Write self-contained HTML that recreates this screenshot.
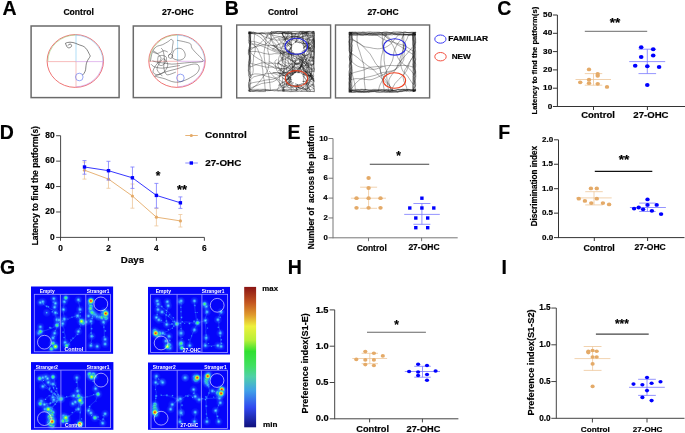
<!DOCTYPE html>
<html><head><meta charset="utf-8"><title>figure</title><style>
html,body{margin:0;padding:0;background:#fff;overflow:hidden;}
svg{display:block;will-change:transform;}
text{font-family:"Liberation Sans",sans-serif;font-weight:bold;}
text[fill="#000"]{stroke:#000;stroke-width:0.18px;}
</style></head><body>
<svg width="685" height="433" viewBox="0 0 685 433">
<rect width="685" height="433" fill="#fff"/>
<text x="2.51" y="15.0" font-size="19.5" fill="#000">A</text>
<text x="224.70" y="15.0" font-size="19.5" fill="#000">B</text>
<text x="497.30" y="15.0" font-size="19.5" fill="#000">C</text>
<text x="-0.15" y="138.6" font-size="19.5" fill="#000">D</text>
<text x="287.50" y="138.7" font-size="19.5" fill="#000">E</text>
<text x="498.30" y="139.0" font-size="19.5" fill="#000">F</text>
<text x="0.10" y="273.6" font-size="19.5" fill="#000">G</text>
<text x="287.70" y="273.7" font-size="19.5" fill="#000">H</text>
<text x="501.50" y="273.7" font-size="19.5" fill="#000">I</text>
<text x="63.45" y="15.00" font-size="8.6" textLength="30.46" lengthAdjust="spacingAndGlyphs" fill="#000" >Control</text>
<text x="162.00" y="15.00" font-size="8.6" textLength="31.63" lengthAdjust="spacingAndGlyphs" fill="#000" >27-OHC</text>
<text x="267.96" y="15.00" font-size="8.6" textLength="29.84" lengthAdjust="spacingAndGlyphs" fill="#000" >Control</text>
<text x="367.40" y="15.00" font-size="8.6" textLength="31.23" lengthAdjust="spacingAndGlyphs" fill="#000" >27-OHC</text>
<rect x="31.1" y="26.0" width="88.0" height="71.6" fill="none" stroke="#6a6a6a" stroke-width="1.5"/>
<ellipse cx="75.3" cy="61.0" rx="28.2" ry="26.4" fill="none" stroke="#ec5c5c" stroke-width="0.85"/>
<path d="M47.099999999999994,61.0 A28.2,26.4 0 0 1 76.0,34.6" fill="none" stroke="#9ccc7a" stroke-width="0.6" transform="translate(0.7,0.4)"/>
<path d="M76.0,34.6 A28.2,26.4 0 0 1 103.5,61.0" fill="none" stroke="#8cc8f0" stroke-width="0.6" transform="translate(-0.5,0.5)"/>
<path d="M103.5,61.0 A28.2,26.4 0 0 1 76.0,87.4" fill="none" stroke="#c890e0" stroke-width="0.6" transform="translate(-0.6,-0.5)"/>
<line x1="47.10" y1="61.60" x2="76.00" y2="61.60" stroke="#f4a0a0" stroke-width="0.7" />
<line x1="76.00" y1="61.60" x2="103.50" y2="61.60" stroke="#d8a0e8" stroke-width="0.7" />
<line x1="76.00" y1="34.60" x2="76.00" y2="61.60" stroke="#90d0f4" stroke-width="0.7" />
<line x1="76.00" y1="61.60" x2="76.00" y2="87.40" stroke="#f4a8a8" stroke-width="0.7" />
<circle cx="79.3" cy="77.0" r="3.8" fill="none" stroke="#6a7ef0" stroke-width="0.7"/>
<path d="M65.4,43.3 C66.5,42.8 68,42.1 70,42.2 C72,42.3 74,42.6 75.5,43.3 C78,44.5 80.5,45.3 82.7,46 C84.5,46.8 85.5,47.8 86.6,49.2 C87.6,50.6 88.3,52 89,53.5 C89.6,54.8 90.3,55.5 90.2,56.2 C89.8,57.2 89.3,57.8 88.6,58.8 C87.8,60 87.3,61 86.9,62 C86.4,63.2 86.1,64.5 86,65.8 C85.9,67.2 85.8,68.5 85.6,69.8 C85.3,71.2 84.7,72.4 84,73.4 C83.4,74.2 82.9,74.7 82.5,75.1 M65.4,43.3 C65.8,44.5 66.3,45.3 66.8,46.5 C67.3,47.5 68.3,48 69.3,47.8 C70.5,47.6 71.5,46.8 71.6,45.6 C71.6,44.6 70.8,44 70,44.1 C69,44.2 68.2,44.8 68,45.6" fill="none" stroke="#333" stroke-width="0.6"/>
<rect x="133.3" y="26.0" width="88.1" height="71.6" fill="none" stroke="#6a6a6a" stroke-width="1.5"/>
<ellipse cx="177.0" cy="61.0" rx="28.2" ry="26.4" fill="none" stroke="#ec5c5c" stroke-width="0.85"/>
<path d="M148.8,61.0 A28.2,26.4 0 0 1 177.6,34.6" fill="none" stroke="#9ccc7a" stroke-width="0.6" transform="translate(0.7,0.4)"/>
<path d="M177.6,34.6 A28.2,26.4 0 0 1 205.2,61.0" fill="none" stroke="#8cc8f0" stroke-width="0.6" transform="translate(-0.5,0.5)"/>
<path d="M205.2,61.0 A28.2,26.4 0 0 1 177.6,87.4" fill="none" stroke="#c890e0" stroke-width="0.6" transform="translate(-0.6,-0.5)"/>
<line x1="148.80" y1="61.30" x2="177.60" y2="61.30" stroke="#f4a0a0" stroke-width="0.7" />
<line x1="177.60" y1="61.30" x2="205.20" y2="61.30" stroke="#d8a0e8" stroke-width="0.7" />
<line x1="177.60" y1="34.60" x2="177.60" y2="61.30" stroke="#90d0f4" stroke-width="0.7" />
<line x1="177.60" y1="61.30" x2="177.60" y2="87.40" stroke="#f4a8a8" stroke-width="0.7" />
<circle cx="180.4" cy="77.9" r="3.8" fill="none" stroke="#6a7ef0" stroke-width="0.7"/>
<path d="M150.36,61.46 C150.69,59.89 151.36,54.54 152.36,52.08 C153.37,49.63 154.71,47.95 156.38,46.73 C158.05,45.50 160.40,45.61 162.41,44.72 C164.41,43.83 166.98,42.26 168.43,41.37 C169.88,40.48 170.33,39.36 171.11,39.36 C171.89,39.36 172.89,40.14 173.12,41.37 C173.34,42.60 172.67,44.94 172.45,46.73 C172.22,48.51 172.45,50.63 171.78,52.08 C171.11,53.53 168.99,54.87 168.43,55.43" fill="none" stroke="#2a2a2a" stroke-width="0.5" stroke-opacity="0.9"/>
<path d="M177.13,40.30 C178.25,40.52 181.71,41.13 183.83,41.64 C185.95,42.15 188.62,42.76 189.85,43.38 C191.08,44.01 190.86,44.61 191.19,45.39 C191.53,46.17 191.19,46.95 191.86,48.07 C192.53,49.18 193.87,50.63 195.21,52.08 C196.55,53.53 198.55,55.32 199.89,56.77 C201.23,58.22 203.46,59.89 203.24,60.79 C203.02,61.68 200.90,61.83 198.55,62.12 C196.21,62.41 192.31,62.30 189.18,62.53 C186.06,62.75 182.71,63.20 179.81,63.46 C176.91,63.73 174.46,64.20 171.78,64.13 C169.10,64.07 166.20,63.40 163.74,63.06 C161.29,62.73 158.95,62.50 157.05,62.12 C155.15,61.75 153.14,61.01 152.36,60.79" fill="none" stroke="#2a2a2a" stroke-width="0.5" stroke-opacity="0.9"/>
<path d="M171.78,57.44 C172.11,56.32 172.78,52.26 173.79,50.74 C174.79,49.23 176.35,48.56 177.80,48.33 C179.25,48.11 181.26,48.45 182.49,49.41 C183.72,50.36 184.90,52.64 185.17,54.09 C185.43,55.54 184.99,57.10 184.09,58.11 C183.20,59.11 181.31,59.89 179.81,60.12 C178.32,60.34 176.46,59.89 175.12,59.45 C173.79,59.00 172.34,57.77 171.78,57.44" fill="none" stroke="#2a2a2a" stroke-width="0.5" stroke-opacity="0.9"/>
<path d="M170.44,54.09 C170.77,54.25 172.11,54.47 172.45,55.03 C172.78,55.59 172.78,56.88 172.45,57.44 C172.11,58.00 171.09,58.42 170.44,58.38 C169.79,58.33 168.83,57.77 168.56,57.17 C168.30,56.57 168.52,55.27 168.83,54.76 C169.14,54.25 170.17,54.20 170.44,54.09" fill="none" stroke="#2a2a2a" stroke-width="0.5" stroke-opacity="0.9"/>
<path d="M154.37,76.18 C155.49,75.74 158.61,74.40 161.07,73.50 C163.52,72.61 166.42,71.61 169.10,70.83 C171.78,70.05 174.46,69.60 177.13,68.82 C179.81,68.04 182.49,66.92 185.17,66.14 C187.84,65.36 191.08,64.36 193.20,64.13 C195.32,63.91 196.88,64.02 197.89,64.80 C198.89,65.58 199.45,67.37 199.22,68.82 C199.00,70.27 198.00,72.05 196.55,73.50 C195.10,74.96 192.42,76.41 190.52,77.52 C188.62,78.64 187.17,79.42 185.17,80.20 C183.16,80.98 180.70,81.98 178.47,82.21 C176.24,82.43 174.01,82.10 171.78,81.54 C169.55,80.98 167.09,79.53 165.08,78.86 C163.07,78.19 161.40,77.97 159.73,77.52 C158.05,77.08 155.82,76.41 155.04,76.18" fill="none" stroke="#2a2a2a" stroke-width="0.5" stroke-opacity="0.9"/>
<path d="M153.03,50.74 C153.70,51.19 155.71,52.08 157.05,53.42 C158.39,54.76 161.29,56.77 161.07,58.78 C160.84,60.79 157.05,63.24 155.71,65.47 C154.37,67.70 152.59,70.60 153.03,72.17 C153.48,73.73 156.38,75.07 158.39,74.84 C160.40,74.62 163.52,72.61 165.08,70.83 C166.65,69.04 167.98,66.14 167.76,64.13 C167.54,62.12 165.08,59.00 163.74,58.78 C162.41,58.55 160.84,61.01 159.73,62.79 C158.61,64.58 156.60,67.26 157.05,69.49 C157.50,71.72 161.51,75.07 162.41,76.18" fill="none" stroke="#2a2a2a" stroke-width="0.5" stroke-opacity="0.9"/>
<path d="M151.02,64.13 C151.58,64.58 152.48,66.14 154.37,66.81 C156.27,67.48 159.50,68.15 162.41,68.15 C165.31,68.15 168.88,67.26 171.78,66.81 C174.68,66.36 178.47,65.69 179.81,65.47" fill="none" stroke="#2a2a2a" stroke-width="0.5" stroke-opacity="0.9"/>
<path d="M158.39,56.10 C159.06,55.99 161.07,55.21 162.41,55.43 C163.74,55.65 165.98,56.21 166.42,57.44 C166.87,58.67 165.86,61.46 165.08,62.79 C164.30,64.13 162.85,65.25 161.74,65.47 C160.62,65.69 159.06,65.14 158.39,64.13 C157.72,63.13 157.72,60.79 157.72,59.45 C157.72,58.11 158.28,56.66 158.39,56.10" fill="none" stroke="#2a2a2a" stroke-width="0.5" stroke-opacity="0.9"/>
<path d="M153.03,52.08 C153.81,52.31 155.93,53.65 157.72,53.42 C159.50,53.20 162.07,50.97 163.74,50.74 C165.42,50.52 167.09,51.86 167.76,52.08" fill="none" stroke="#2a2a2a" stroke-width="0.5" stroke-opacity="0.9"/>
<path d="M161.07,48.07 C161.40,48.51 162.52,48.96 163.07,50.74 C163.63,52.53 164.30,56.10 164.41,58.78 C164.53,61.46 163.63,64.58 163.74,66.81 C163.86,69.04 164.41,70.83 165.08,72.17 C165.75,73.50 165.98,74.84 167.76,74.84 C169.55,74.84 174.46,72.61 175.79,72.17" fill="none" stroke="#2a2a2a" stroke-width="0.5" stroke-opacity="0.9"/>
<rect x="236.7" y="25.0" width="93.9" height="72.9" fill="none" stroke="#6a6a6a" stroke-width="1.4"/>
<rect x="335.5" y="25.0" width="94.1" height="72.9" fill="none" stroke="#6a6a6a" stroke-width="1.4"/>
<path d="M269.4,61.4L271.9,63.0L277.3,67.5L279.0,68.5L281.2,70.5L285.1,73.6L287.5,76.8L290.0,82.3L291.2,83.8L294.5,86.2L297.9,89.8L296.4,90.1L294.9,89.7L293.4,89.6L290.4,89.9L288.9,89.9L287.4,90.4L285.9,89.9L282.9,90.1L281.4,89.7L278.4,90.4L267.9,90.4L263.4,91.2L261.9,91.0L260.4,91.3L258.9,91.2L257.4,90.7L255.9,90.8L254.4,91.3L251.4,91.5L249.9,91.5L248.4,90.6L249.5,90.5L249.5,87.5L248.6,84.5L248.7,83.0L249.7,79.1L250.7,80.6L250.7,83.6L250.3,85.1L250.5,86.6L250.2,88.1L250.4,89.6L250.1,91.1L249.0,90.2L250.5,90.0L252.0,90.1L253.5,90.9L258.0,90.0L259.5,90.4L261.0,90.4L264.0,89.9L265.5,90.0L267.0,89.7L268.5,89.8L270.0,90.3L273.0,90.6L274.5,91.0L276.0,90.7L277.5,91.1L279.0,90.6L283.5,91.0L285.0,90.8L282.5,87.7L278.7,81.8L275.9,79.0L275.1,78.5L272.2,77.6L267.3,76.6L263.6,75.2L260.7,74.3L258.7,74.0L254.7,73.9L250.0,75.4L248.4,70.9L248.4,64.9L248.8,63.4L248.7,61.9L249.2,57.4L249.6,55.9L249.7,54.4L249.1,51.4L256.0,51.5L261.0,52.4L263.8,53.4L269.7,54.3L271.7,54.2L274.6,53.6L278.6,53.8L279.6,53.6L288.4,51.6L292.3,51.0L290.9,48.3L289.7,46.7L288.2,45.4L287.0,43.8L285.7,41.1L284.5,37.3L282.9,34.8L281.6,33.2L283.1,33.6L284.6,33.5L286.1,33.7L287.6,33.7L289.1,33.2L292.1,33.7L293.6,33.7L295.1,33.4L296.6,33.7L298.1,33.7L299.6,33.2L301.1,33.4L304.1,33.1L305.6,33.7L308.6,33.3L310.1,33.3L311.6,32.7L313.1,32.8L313.2,31.3L312.5,32.8L313.4,34.3L312.9,35.8L309.6,38.0L302.2,41.1L299.8,42.9L297.1,41.6L295.2,41.1L292.5,39.8L290.6,39.1L287.6,38.9L282.7,39.9L280.7,40.0L275.7,40.1L274.7,39.9L268.9,38.5L264.2,36.7L262.5,35.7L260.1,34.0L259.1,33.6L262.1,32.5L263.6,32.5L265.1,32.2L266.6,32.5L268.1,32.3L271.1,32.6L272.6,32.3L274.1,33.0L277.1,32.3L278.6,32.3L281.6,32.8L283.1,32.5L286.1,33.5L287.6,33.4L289.1,33.0L292.1,32.8L292.0,39.8L291.0,44.7L291.0,46.7L291.5,51.7L291.6,55.7L292.5,60.6L292.9,65.5L292.6,70.5L293.0,74.5L293.5,73.7L296.3,70.8L298.6,68.9L300.1,67.5L301.8,65.1L303.1,62.4L304.1,58.5L304.5,52.5L304.1,48.6L303.3,45.7L303.2,42.7L303.4,38.7L304.4,32.8L310.4,32.2L311.9,32.8L313.4,33.0L313.4,31.6L313.3,33.1L312.7,34.6L313.1,36.1L313.0,39.1L314.3,42.1L314.3,46.6L313.8,51.1L314.3,54.1L314.3,57.1L313.9,60.1L314.2,61.6L313.6,64.6L307.8,63.4L306.8,63.0L304.3,61.4L303.5,60.9L300.7,58.0L297.5,54.1L296.8,53.5L295.8,53.7L291.8,53.7L285.8,52.9L283.0,52.0L280.3,50.6L276.4,49.8L270.8,47.8L267.6,45.4L265.8,43.0L261.8,38.5L259.4,36.7L256.0,34.7L253.2,33.6L251.7,32.6L248.7,32.3L249.1,32.2L249.7,33.7L249.9,35.2L249.8,36.7L250.7,41.2L250.7,44.2L254.7,44.0L258.6,44.9L263.3,46.6L273.3,51.0L276.1,52.1L287.9,54.6L290.8,54.3L294.8,54.6L300.8,54.4L304.7,55.3L312.7,54.8L314.3,53.3L314.3,41.3L313.6,39.8L313.5,38.3L314.2,35.3L310.2,35.1L308.2,35.3L306.2,35.7L302.4,36.9L299.4,36.9L297.5,37.2L295.5,36.8L289.5,36.9L286.5,36.6L279.5,36.9L274.6,37.8L272.8,38.6L270.2,40.1L267.4,42.9L264.8,44.5L260.9,45.3L256.2,46.8L250.3,48.2L248.4,49.7L248.4,54.2L249.0,55.7L249.6,58.7L249.3,60.2L248.8,61.7L248.4,64.7L249.2,69.2L249.2,70.7L249.8,72.2L250.2,75.2L249.8,76.7L249.5,79.7L249.8,84.2L249.0,87.2L249.7,88.7L254.2,86.5L258.0,85.1L261.6,83.5L272.5,81.9L275.2,80.7L276.8,79.5L280.3,75.9L283.5,70.8L291.0,64.2L292.6,63.0L295.3,61.6L299.9,57.8L302.6,54.8L303.5,53.1L304.8,51.6L308.1,49.3L309.5,47.9L312.6,45.3L314.0,43.8L313.9,42.3L314.3,39.3L314.2,36.3L314.3,31.8L313.6,31.4L307.6,31.4L304.6,31.6L303.1,31.4L300.1,31.4L297.8,35.8L296.5,39.6L295.2,42.3L297.2,42.3L306.1,43.5L312.1,43.2L312.5,41.7L312.1,40.2L312.2,38.7L312.0,37.2L312.2,34.2L312.0,32.7L314.5,33.7L313.0,33.7L311.5,33.3L310.0,33.2L308.5,33.5L307.0,33.5L302.5,33.7L299.5,33.1L296.5,33.7L295.0,33.7L293.5,33.4L292.0,32.9L290.5,32.8L289.0,32.9L287.5,32.8L286.0,32.1L281.5,33.3L278.5,33.5L275.5,33.2L274.0,33.7L269.5,33.7L268.0,33.1L266.0,38.8L265.6,43.7L264.1,51.6L264.2,56.6L265.4,66.5L268.0,73.0L268.6,74.9L270.0,84.8L270.1,86.8L270.5,89.8L269.0,90.2L264.5,89.3L249.5,89.4L250.0,91.6L249.9,90.1L249.1,87.1L248.7,82.6L251.0,79.3L252.4,77.9L254.0,76.7L256.0,76.3L257.9,75.7L261.8,75.0L265.6,73.8L270.6,73.5L274.5,72.7L279.5,73.0L283.5,72.9L285.5,72.5L287.5,72.6L290.4,73.4L293.2,74.4L297.5,70.2L300.0,67.0L301.4,65.7L305.4,61.2L306.5,59.5L307.6,56.7L308.3,53.8L309.0,48.9L309.2,41.9L311.1,33.1L312.6,31.8L314.1,31.7L313.8,32.3L314.3,35.3L313.9,38.3L314.3,39.8L314.0,42.8L314.3,44.3L314.3,45.8L313.5,50.3L313.6,51.8L313.3,53.3L313.7,54.8L313.3,59.3L313.5,62.3L314.1,63.8L314.0,66.8L314.3,69.8L314.1,71.3L313.6,72.8L313.5,74.3L309.5,73.8L308.6,73.4L300.8,68.9L298.4,67.1L292.4,60.4L290.7,59.3L285.2,56.9L282.0,54.6L280.1,52.2L279.3,51.6L278.1,50.1L276.3,45.4L275.2,43.8L273.1,41.6L272.5,40.8L270.7,36.1L269.9,33.2L271.4,31.6L272.9,32.1L275.9,31.6L278.9,31.4L280.4,31.8L281.9,31.9L283.4,31.8L284.9,31.4L286.4,31.7L287.9,31.4L290.9,31.9L292.4,31.6L293.9,31.7L295.4,31.4L298.4,32.0L299.9,31.8L301.4,32.3L302.9,31.7L305.9,32.1L307.4,31.6L308.5,36.4L308.6,39.4L308.5,41.4L308.7,47.4L308.5,49.4L306.9,53.0L305.2,55.6L302.9,60.0L302.2,62.9L300.4,67.6L299.9,69.5L299.6,72.5L297.6,72.7L300.4,71.7L301.3,71.1L302.6,69.6L306.6,63.9L307.9,61.2L310.0,57.7L312.0,55.6L312.9,57.1L313.1,58.6L312.9,61.6L313.4,63.1L314.2,69.1L314.0,70.6L314.1,72.1L310.8,68.4L305.5,63.8L303.8,62.7L301.7,60.6L299.3,58.8L293.9,56.1L289.3,54.3L285.8,52.4L280.2,50.2L276.0,47.4L274.7,46.0L271.1,40.0L268.5,36.9L264.8,33.6L263.3,33.5L261.8,33.1L260.3,33.4L257.3,33.7L255.8,33.2L254.3,33.6L252.8,33.7L249.8,33.4L248.3,33.5L250.7,32.6L250.7,35.6L250.5,37.1L249.9,38.6L250.0,40.1L249.7,43.1L250.0,44.6L249.6,47.6L249.6,50.6L251.8,53.9L253.2,55.3L254.8,56.5L258.2,58.7L262.5,61.1L265.7,63.5L269.2,65.4L272.0,66.5L274.5,68.2L276.5,68.5L282.5,68.8L288.4,67.9L291.4,67.8L294.3,67.2L299.3,66.9L304.2,65.8L310.1,65.2L312.1,65.4L313.9,63.9L313.7,59.4L314.3,57.9L314.3,47.4L314.2,45.9L313.8,44.4L314.3,39.9L305.3,39.0L301.5,38.1L291.1,34.3L289.3,33.4L287.8,32.0L286.3,32.4L283.3,32.6L281.8,33.3L280.3,33.3L278.8,33.7L277.3,33.3L275.8,33.1L274.3,33.6L272.8,33.7L271.3,33.6L269.8,33.1L268.3,33.1L265.3,33.7L259.3,32.7L256.3,32.8L253.3,32.2L251.8,32.8L248.8,32.9L249.9,32.1L248.4,36.6L248.6,38.1L248.4,41.1L252.4,41.4L256.3,42.1L260.1,43.4L263.8,44.9L267.7,45.6L270.7,45.5L273.7,45.6L275.7,45.4L280.5,44.0L283.5,43.6L288.5,43.7L290.4,44.1L292.3,44.8L293.9,43.5L297.4,40.0L300.5,37.5L302.3,36.5L306.6,32.0L308.1,31.6L309.6,31.4L311.1,31.8L314.1,31.4L314.3,32.3L314.0,36.8L314.3,38.3L314.2,41.3L314.3,44.3L314.0,45.8L314.1,47.3L313.7,48.8L314.0,51.8L314.0,54.8L313.5,56.3L313.6,57.8L314.1,59.3L313.8,62.3L313.2,63.8L313.2,65.3L313.0,66.8L313.9,68.3L314.0,69.8L313.3,71.3L309.4,71.9L305.4,71.9L303.4,71.6L298.4,71.8L295.5,71.3L290.8,69.6L284.6,66.3L281.0,64.6L278.1,63.8L274.2,63.1L269.2,63.3L264.2,62.7L261.2,63.0L257.4,64.2L250.0,67.1L249.4,65.6L250.0,61.1L249.8,59.6L249.5,58.1L249.5,56.6L250.0,53.6L249.8,52.1L249.9,50.6L250.7,49.1L250.7,47.6L250.3,46.1L250.2,38.6L249.5,37.1L249.5,35.6L249.0,34.1L248.8,32.6L248.3,32.1L251.3,32.0L252.8,32.4L255.8,32.6L257.3,33.6L264.8,33.7L268.7,34.2L272.6,35.2L280.4,36.8L282.2,37.6L288.1,43.1L291.4,45.3L291.7,46.3L290.6,49.1L289.7,50.8L288.4,54.6L288.0,58.6L288.1,61.6L288.9,64.4L290.4,67.1L292.9,70.2L296.1,72.5L292.1,72.7L290.1,73.0L286.3,74.2L282.6,75.7L277.8,77.1L273.3,79.2L265.4,80.1L261.5,81.1L252.7,82.7L250.7,83.3L249.8,83.6L248.7,85.1L248.7,88.1L248.4,89.6L248.4,91.1L249.0,91.6L253.5,90.9L255.0,91.1L256.5,91.6L265.5,91.6L265.0,87.6L264.7,83.7L264.1,79.7L263.0,74.8L262.8,69.9L262.3,67.9L262.0,64.9L261.9,58.9L258.6,51.7L257.9,49.8L257.0,48.0L254.8,45.9L251.8,43.4L250.5,41.9L250.0,43.4L249.4,46.4L248.7,47.9L248.8,49.4L248.4,53.9L249.4,55.4L249.9,58.4L249.3,59.9L250.0,62.9L249.7,64.4L250.6,65.9L250.3,68.9L250.4,70.4L250.7,71.9L250.5,73.4L250.7,74.9L250.6,77.9L252.7,73.4L253.0,72.4L253.3,69.4L252.7,65.5L252.7,64.5L253.4,60.6L253.5,56.6L254.0,54.6L254.8,52.8L255.2,50.8L255.2,47.8L254.8,45.9L254.7,43.9L254.1,39.9L254.6,35.0L255.2,33.0L253.7,32.3L250.7,32.2L249.2,32.7L249.3,31.7L250.3,34.7L250.1,36.2L250.4,40.7L250.1,42.2L250.2,43.7L249.7,48.2L249.3,49.7L249.1,51.2L254.7,47.0L258.2,45.0L260.3,42.9L262.0,41.7L266.1,37.3L270.4,33.2L271.9,33.1L273.4,32.7L274.9,33.2L277.9,33.7L280.9,33.4L282.4,33.7L292.9,33.7L295.9,33.4L300.4,31.8L301.9,31.9L303.4,32.4L306.4,32.3L307.9,31.8L309.4,31.6L305.5,32.2L304.0,31.4L301.0,31.6L299.5,31.4L298.0,31.5L296.5,31.9L289.0,31.4L287.5,31.9L281.5,31.6L280.0,31.4L278.5,31.6L274.0,31.4L272.5,31.9L271.0,31.4L271.3,35.4L270.8,40.3L270.5,41.3L268.2,45.8L267.8,47.7L267.8,50.7L269.2,55.5L269.3,57.5L269.1,63.5L268.0,69.4L266.2,72.9L263.1,76.9L262.0,78.5L258.2,83.2L255.4,86.1L252.9,87.7L250.8,89.8L252.3,91.0L253.8,90.9L256.8,90.4L259.8,90.5L262.8,90.1L264.3,90.4L265.8,90.3L267.3,90.8L268.8,90.7L270.3,90.6L271.8,89.8L273.3,89.5L277.8,89.3L282.6,85.7L285.3,84.4L288.3,81.8L291.1,79.0L291.8,79.7L289.9,77.4L288.4,76.0L286.8,73.5L284.0,70.7L282.5,69.3L279.8,68.0L276.9,67.2L274.9,67.0L267.9,67.2L265.9,67.1L264.0,66.7L261.1,65.9L258.1,65.3L254.3,64.2L250.4,63.5L250.7,62.0L250.7,60.5L250.2,59.0L250.5,57.5L250.5,56.0L250.7,54.5L250.3,53.0L249.7,47.0L249.9,44.0L249.2,42.5L249.3,41.0L249.9,39.5L249.9,38.0L249.4,35.0L248.8,33.5L248.6,32.0L248.9,31.5L252.3,33.5L249.3,33.7L250.6,31.6L250.7,33.1L250.2,34.6L250.7,36.1L250.5,42.1L250.2,43.6L250.7,45.1L250.7,48.1L250.1,49.6L249.9,51.1L249.4,52.6L250.2,55.6L250.7,60.1L250.4,61.6L249.7,63.1L249.8,64.6L249.4,66.1L249.6,69.1L249.2,70.6L249.5,72.1L249.0,76.6L249.4,79.6L249.3,81.1L250.2,77.2L248.5,75.7L248.4,69.7L248.9,68.2L249.5,63.7L249.3,62.2L250.1,56.2L249.8,54.7L249.8,51.7L249.3,50.2L250.2,45.7L248.7,42.7L249.4,41.2L249.8,39.7L249.9,36.7L249.7,35.2L250.2,32.2L248.7,33.4L250.2,33.7L251.7,33.4L253.2,33.6L256.2,33.4L260.7,33.7L263.4,36.7L264.4,38.4L268.3,42.9L272.5,45.7L274.3,46.5L275.9,47.7L278.4,49.3L282.5,52.2L284.2,53.3L285.7,54.6L289.8,59.0L292.0,61.0L304.0,68.1L308.7,71.9L310.9,74.0L313.6,77.0L314.2,81.5L313.6,83.0L313.8,84.5L314.3,86.0L314.3,91.6L312.8,91.2L311.3,91.5L308.3,91.6L306.8,91.3L303.8,91.0L300.8,91.2L299.3,90.7L297.8,91.0L294.8,90.9L291.8,91.5L290.3,91.6L288.8,90.9L287.3,90.9L285.8,91.3L282.8,91.5L283.1,87.5L282.7,84.6L282.3,82.6L283.4,71.7L285.6,60.9L285.2,56.9L284.0,53.1L283.1,51.4L280.8,48.1L279.7,45.3L276.4,40.3L274.3,38.1L273.2,36.5L272.1,34.8L271.4,33.0L275.9,32.3L277.4,31.6L278.9,31.9L280.4,31.5L281.9,31.6L283.4,32.5L284.9,32.8L286.4,33.4L287.9,33.7L289.4,33.5L286.3,37.5L285.4,39.2L283.9,43.0L281.6,47.4L280.8,50.3L280.2,54.2L280.6,56.2L282.9,62.8L284.2,64.3L286.7,65.9L289.0,67.8L290.4,69.3L292.4,72.7L292.8,73.7L292.8,74.7L287.4,79.1L282.6,82.6L279.8,85.5L277.0,89.7L278.5,91.1L281.5,90.8L283.0,91.0L284.5,90.8L286.0,90.9L287.5,91.6L296.5,91.6L299.5,91.4L301.0,91.5L305.5,91.2L307.0,91.5L308.5,91.3L310.0,91.6L311.5,91.4L314.3,91.8L314.3,90.3L313.5,87.3L312.3,84.3L312.2,81.3L305.5,83.4L300.6,84.3L294.9,86.0L292.9,86.2L290.9,86.0L288.1,85.1L284.4,83.6L281.2,81.1L277.7,79.2L274.4,77.0L272.9,75.7L269.2,71.0" fill="none" stroke="#111" stroke-width="0.4" stroke-opacity="0.85" stroke-linejoin="round"/>
<path d="M310.4,79.6L312.0,78.7L312.6,78.1L313.5,78.0L313.5,79.7L313.9,81.5L313.5,80.7L312.9,79.0L310.6,76.3L310.2,75.5L310.8,73.8L311.6,73.5L311.9,72.6L311.9,70.8L311.2,69.1L309.5,67.1L309.2,66.2L308.7,65.5L308.6,63.7L309.1,62.0L309.6,61.2L309.5,60.3L309.1,59.5L308.4,58.9L306.9,57.9L305.2,57.5L304.4,57.1L303.7,55.5L301.6,53.7L299.9,53.3L298.2,54.0L297.9,54.9L298.0,56.7L298.3,57.5L300.5,61.4L299.6,63.9L298.7,64.2L296.9,64.4L295.3,63.7L294.9,62.9L293.8,61.5L292.0,61.1L291.7,60.3L291.5,59.4L291.3,54.9L291.4,54.0L291.2,53.1L290.6,52.4L289.8,52.0L289.2,51.4L288.3,51.2L286.6,51.6L289.3,51.5L290.1,51.9L291.0,52.0L292.7,52.4L294.8,54.1L295.3,54.8L296.7,56.0L296.7,57.8L296.1,59.5L294.6,62.7L294.6,64.5L294.4,66.3L294.7,67.1L294.9,69.8L294.6,70.6L294.6,71.5L294.2,73.3L294.1,72.4L294.4,70.6L294.9,69.9L295.6,69.3L297.3,68.8L300.6,67.4L301.5,67.3L302.3,67.8L303.4,69.2L304.0,72.7L304.1,75.4L304.5,77.2L305.3,78.8L306.5,80.1L306.8,81.0L306.8,82.8L306.2,84.5L307.0,87.0L307.8,87.4L309.2,88.5L309.7,90.2L310.4,89.7L313.0,88.8L313.9,88.9L312.6,87.6L311.0,86.9L309.7,85.6L308.9,85.3L307.7,82.8L308.3,82.2L310.5,80.6L311.7,78.1L313.8,76.4L313.8,74.7L311.5,76.0L308.8,75.9L307.0,76.2L306.4,75.6L305.3,74.1L303.6,74.2L302.8,74.6L304.4,73.9L305.3,73.8L306.1,73.3L306.5,72.5L307.1,70.8L308.2,69.3L308.6,64.9L308.3,64.0L307.1,62.7L306.4,60.1L304.9,59.1L304.3,58.4L303.5,57.9L302.7,57.8L301.9,57.4L300.1,57.1L299.2,56.8L298.5,56.2L296.8,55.7L296.1,55.1L292.7,54.1L291.1,53.2L288.4,53.6L286.6,53.6L286.8,54.5L287.3,55.2L288.7,56.4L290.4,57.0L291.1,57.5L292.0,59.0L293.5,60.1L294.7,61.4L299.6,63.7L301.7,66.6L302.5,67.0L304.4,68.9L305.2,69.4L305.8,71.0L306.0,72.8L306.3,73.7L306.7,74.5L308.1,75.7L309.5,78.0L309.8,79.7L309.7,82.4L308.7,83.9L307.5,87.3L307.6,89.1L307.9,90.0L308.4,90.7L307.9,90.0L306.8,87.5L306.9,86.6L307.7,85.0L310.7,80.6L311.6,79.0L311.5,78.1L311.2,77.2L310.8,74.6L310.0,72.0L308.5,69.7L308.2,68.9L305.4,65.4L305.0,63.6L303.5,62.6L301.8,62.1L301.1,62.7L296.8,64.0L295.3,64.9L294.7,65.6L292.4,67.1L291.1,68.3L290.3,68.6L288.2,71.6L286.8,72.7L290.3,69.9L290.9,69.2L293.1,67.6L293.7,67.0L295.1,63.6L295.3,62.8L295.3,61.0L295.1,59.2L293.8,57.9L293.4,57.1L293.3,54.4L292.7,52.7L291.9,52.2L290.1,52.3L288.6,51.4L286.8,51.0L288.5,53.1L291.3,55.4L291.6,56.2L292.7,57.7L293.3,58.2L295.1,58.6L295.9,58.9L297.7,59.0L298.6,58.8L299.5,59.0L300.1,59.7L299.7,61.5L300.1,62.3L302.3,65.1L303.8,66.2L304.3,66.9L305.1,67.3L306.0,67.4L309.6,67.1L311.9,68.6L312.7,68.8L313.6,68.7L312.8,69.1L309.2,69.4L308.5,69.9L308.0,70.7L308.0,71.6L308.2,72.5L308.0,73.3L308.1,74.2L309.0,76.8L309.7,77.3L310.7,78.8L313.0,80.3L313.6,81.0L312.8,80.4L312.6,79.5L312.1,78.8L312.1,77.0L311.8,76.2L310.1,74.0L309.8,73.2L309.6,72.3L310.2,70.6L310.1,69.7L309.3,68.1L309.1,67.2L308.5,66.6L307.8,64.9L306.3,62.7L306.0,61.8L306.4,59.2L305.8,57.5L304.6,56.1L303.0,55.3L301.8,54.0L300.2,53.2L300.3,55.0L302.2,58.0L303.4,59.4L303.5,60.3L303.1,61.1L302.6,61.8L301.9,63.5L301.3,64.2L300.8,65.9L300.6,67.7L300.7,68.6L301.1,69.4L301.5,73.0L301.9,73.8L302.4,74.5L303.3,74.6L304.9,73.9L305.8,73.7L306.5,74.3L306.9,75.1L307.7,75.6L309.4,75.9L310.3,75.7L311.1,76.2L311.8,77.8L311.7,78.7L311.3,79.5L307.0,80.8L304.4,81.3L302.6,81.4L305.3,81.6L306.9,80.8L307.5,79.2L307.4,78.3L306.7,76.7L306.2,75.9L305.6,75.2L305.2,74.4L305.1,72.6L305.6,71.9L305.5,71.0L306.0,70.2L307.5,69.2L308.0,68.5L307.7,66.7L307.8,65.8L307.5,64.0L306.0,61.8L305.1,59.2L304.7,57.5L305.3,55.8L306.8,54.8L309.3,53.9L311.5,52.3L312.6,50.9L313.3,49.3L313.0,47.5L312.6,46.7L311.8,46.2L309.3,43.6L307.0,42.3L305.4,39.1L305.1,37.4L305.6,34.7L307.2,34.0L308.1,34.1L309.4,35.3L313.7,36.6L312.1,37.4L308.6,37.0L308.0,36.3L307.2,35.9L306.5,35.2L306.2,33.4L306.3,32.5L306.6,34.3L307.8,37.7L307.3,42.2L307.0,43.0L305.4,43.8L304.5,43.9L302.7,43.6L299.6,41.7L298.9,41.1L297.2,40.6L296.6,41.3L295.2,42.4L296.0,41.9L296.4,41.2L297.1,38.5L298.2,36.1L299.6,34.9L300.4,34.6L302.2,32.6L300.4,32.9L299.9,33.6L299.1,34.1L296.5,34.8L293.0,33.8L290.6,32.5L289.8,32.4L289.0,32.0L288.1,32.0L288.1,32.9L287.7,33.7L287.3,35.5L286.3,38.0L289.5,39.6L290.4,39.6L291.2,40.0L292.1,39.9L293.7,39.2L296.4,39.3L297.2,39.0L298.7,38.0L299.6,38.1L301.3,37.4L302.9,38.3L303.1,39.2L303.1,41.0L303.5,42.7L304.9,43.8L305.3,44.6L305.2,45.5L304.4,47.2L303.8,47.8L303.5,48.7L304.3,47.1L304.6,46.2L306.2,45.5L307.1,45.7L308.2,47.1L309.7,48.1L310.9,49.4L312.5,50.2L313.7,51.6L312.8,51.3L311.0,51.3L310.1,51.0L309.5,50.4L309.1,49.6L308.6,47.9L307.9,47.3L307.4,44.7L306.7,44.1L304.2,43.1L303.3,43.1L302.5,43.4L301.6,43.4L303.6,45.2L303.7,46.1L305.2,47.0L307.0,47.0L308.7,46.3L309.9,45.0L312.4,43.9L313.7,41.6L311.3,40.4L309.5,40.5L308.9,41.2L307.6,43.5L307.3,44.4L307.4,45.3L307.8,46.1L307.8,47.0L308.6,47.4L309.6,48.9L310.9,50.1L311.7,51.8L311.7,52.7L311.5,54.4L311.2,55.3L310.5,55.9L310.3,56.8L310.6,57.6L310.1,59.3L309.4,59.9L308.9,60.6L308.8,61.5L308.7,62.4L308.9,63.3L311.0,65.0L311.4,65.8L311.6,66.7L311.4,68.5L311.7,69.3L311.3,72.0L311.4,72.9L311.2,74.7L310.3,76.2L310.3,78.0L308.6,82.2L307.4,83.5L305.3,85.2L304.3,86.7L302.3,88.5L299.6,88.7L298.9,88.2L297.6,85.9L297.3,84.1L298.2,87.6L298.2,88.5L296.5,90.6L296.6,89.7L296.2,88.0L296.3,87.1L296.0,86.2L295.3,85.7L294.4,85.4L293.5,85.5L291.8,85.2L291.1,84.6L287.7,83.4L286.0,84.0L286.8,84.4L288.6,84.0L290.4,84.3L291.2,84.0L292.7,83.1L293.6,82.8L291.8,82.8L291.2,82.1L291.2,81.2L290.6,79.5L290.0,78.9L288.2,78.5L286.6,79.2L287.5,79.3L289.2,78.9L290.1,78.6L291.4,77.4L290.7,78.0L289.1,80.2L288.9,81.0L288.1,82.6L286.4,83.4L288.2,83.4L289.1,83.2L290.2,81.8L291.8,81.0L291.2,81.6L289.5,82.3L286.8,82.6L287.0,83.5L286.7,84.4L286.9,85.2L286.5,86.0L287.4,86.2L288.2,85.9L289.3,84.4L290.4,82.0L290.6,80.2L290.2,76.6L290.6,75.8L290.3,74.9L290.7,73.2L292.3,72.3L292.8,71.5L294.3,70.6L296.1,70.5L297.7,69.7L298.4,69.1L298.9,68.3L302.6,65.8L304.3,65.4L310.4,61.6L312.2,61.6L313.0,61.2L313.9,61.2L312.4,60.3L310.6,60.0L309.7,60.0L308.9,60.3L307.4,61.3L306.8,63.0L305.9,64.5L305.9,65.4L306.3,66.2L306.2,67.1L306.5,68.9L307.3,70.5L307.1,71.4L307.5,73.1L308.4,74.7L309.0,75.3L309.9,75.6L310.6,76.2L311.8,78.6L312.4,79.3L313.2,79.8L313.5,80.6L313.4,83.3L313.6,84.1L313.6,85.9L313.8,86.8L313.1,85.1L312.3,85.0L309.9,83.7L307.2,84.0L304.6,84.7L303.0,83.9L302.1,83.9L301.2,84.1L300.5,84.7L299.7,84.9L297.9,85.0L295.6,83.6L296.5,86.1L298.0,86.9L298.7,87.6L299.5,87.9L302.2,87.9L302.9,87.3L303.3,86.5L303.9,84.8L303.9,83.9L303.5,82.2L303.4,78.6L303.6,77.7L303.5,76.8L303.0,76.0L303.4,74.3L303.2,73.4L302.3,71.8L299.4,68.4L297.7,67.9L296.8,67.9L295.9,68.0L294.3,68.7L292.4,70.7L291.7,71.2L290.1,73.3L288.5,74.2L287.6,74.3L286.2,75.3L286.8,74.7L288.5,74.2L290.3,74.3L292.0,74.9L292.4,74.1L291.8,72.4L292.1,71.6L292.3,68.0L294.0,64.8L297.4,63.6L298.7,62.4L300.3,61.4L301.9,60.8L302.8,60.7L305.3,61.8L306.9,63.9L307.7,64.5L309.4,64.6L312.1,64.0L313.0,64.1L313.8,63.8L311.6,65.3L310.9,65.9L309.2,65.8L308.4,66.3L308.0,67.1L305.2,69.4 M286.3,68.8L287.3,67.3L288.7,66.2L290.5,66.7L291.4,66.6L293.1,66.8L294.0,66.5L297.1,68.3L298.4,69.6L298.3,72.3L298.7,70.5L299.4,70.0L299.9,69.3L300.6,68.7L300.4,67.9L300.5,67.0L301.6,63.6L302.0,60.9L302.3,60.1L302.4,58.3L302.9,57.5L306.2,56.0L306.8,55.3L308.3,54.4L309.4,53.0L309.4,51.2L309.0,50.3L307.7,49.2L306.8,47.6L306.7,46.7L306.9,45.8L308.1,44.5L308.5,43.7L308.1,41.9L307.1,40.5L307.0,39.6L305.8,35.3L305.2,34.5L304.5,34.0L302.1,32.9L301.6,32.1L304.3,32.3L306.1,32.2L307.7,32.8L308.5,33.3L309.0,34.1L309.2,35.8L309.8,36.5L309.2,38.2L310.3,40.7L311.4,42.1L312.2,42.5L313.5,43.8L313.8,44.6L313.3,46.3L311.8,48.6L311.9,49.5L312.3,51.3L312.1,52.2L311.0,54.6L310.9,55.5L311.3,56.3L312.0,56.9L313.8,56.6L313.1,57.2L312.3,57.5L311.4,57.6L310.5,57.3L308.7,57.6L306.2,58.6L305.6,59.2L305.3,60.1L305.0,62.7L304.5,63.5L302.1,64.7L300.1,66.5L299.2,69.0L299.2,69.9L299.0,70.8L298.2,71.2L297.6,71.9L295.8,72.2L294.9,72.2L292.7,73.7L290.1,73.4L289.3,72.9L288.4,72.8L286.7,73.2L285.8,72.9L282.3,73.6L282.9,72.9L283.7,72.5L284.3,71.8L284.7,70.1L284.6,69.2L282.9,66.0L282.3,64.3L282.2,63.4L282.4,62.5L282.1,61.7L282.1,60.8L282.7,59.1L282.0,57.4L282.2,54.7L282.5,53.9L283.7,52.6L285.4,49.4L285.5,47.6L286.6,46.2L286.9,45.4L287.5,44.7L287.8,43.8L289.1,42.6L291.7,37.9L291.7,35.2L291.4,33.4L291.1,32.6L291.3,33.5L292.2,35.0L292.0,36.8L292.2,37.7L293.0,38.1L294.8,38.0L296.6,38.5L297.5,38.6L298.3,38.3L298.8,37.6L299.5,35.9L301.5,34.1L303.2,33.6L303.9,32.9L304.7,32.6L305.5,32.1L306.4,32.1L303.1,33.6L300.6,34.4L299.1,35.4L296.6,36.5L294.8,36.8L293.9,36.6L291.2,36.9L290.4,37.2L288.6,37.2L286.1,38.2L285.3,37.7L284.4,37.7L283.7,37.1L282.5,33.7L282.4,32.8L282.5,34.6L282.8,35.4L284.8,38.4L286.2,41.7L287.0,42.1L289.9,44.2L290.3,45.0L290.9,45.7L291.7,46.1L291.6,44.4L291.4,43.5L290.4,42.0L288.8,41.2L287.7,39.8L286.8,39.6L285.2,38.9L284.6,38.2L282.9,37.8L282.1,37.3L283.0,37.5L283.8,37.2L285.1,35.8L286.3,33.5L287.6,32.1L286.1,33.1L284.3,32.6L283.6,32.1L284.5,32.3L282.7,32.9L282.0,33.4L282.3,32.6L282.2,33.5L282.5,35.3L283.0,36.0L284.3,37.3L286.7,38.4L287.4,38.9L289.1,41.0L289.3,41.9L290.2,43.5L290.8,44.1L291.2,44.9L292.0,45.3L291.3,44.7L290.5,44.5L288.8,45.2L287.0,45.1L284.5,46.0L283.0,47.0L282.1,47.1L282.9,46.7L283.3,45.9L283.9,44.2L288.0,42.6L289.4,41.4L290.1,38.8L292.0,36.9L298.3,36.6L299.9,37.3L300.8,37.4L302.5,36.8L303.4,36.7L304.9,35.7L305.4,35.0L305.9,34.2L305.9,33.3L306.3,32.5L307.1,34.1L307.7,36.8L308.1,37.6L307.1,40.0L306.6,42.7L306.7,43.6L308.5,45.6L309.2,47.2L310.1,47.6L311.8,47.1L313.6,47.2L312.8,46.8L311.0,47.1L310.3,47.6L310.0,48.4L310.7,51.0L310.6,51.9L310.2,52.7L310.3,53.6L311.0,56.2L311.4,57.0L312.0,57.7L313.8,57.8L310.8,61.2L310.4,62.9L311.6,65.3L312.0,67.1L311.9,68.9L312.1,69.8L312.1,71.6L311.8,72.4L309.6,75.2L308.9,75.8L308.0,75.8L307.2,76.0L305.4,75.5L304.5,75.6L303.7,76.0L302.9,76.2L303.6,76.7L304.0,77.5L304.8,78.0L305.9,79.4L306.6,81.1L306.8,82.8L307.1,83.7L307.7,84.4L308.2,86.1L310.5,91.0L308.8,88.9L307.8,87.4L307.6,85.6L307.0,84.9L306.8,84.0L307.2,82.3L307.5,81.5L308.2,80.8L308.9,78.2L310.8,75.2L310.8,74.3L310.4,73.5L309.8,72.8L310.0,71.9L309.6,71.1L309.3,69.3L308.6,67.7L308.1,67.0L306.6,66.0L305.7,64.4L304.3,63.4L303.4,61.8L301.9,60.8L300.6,59.6L297.2,58.5L295.5,56.4L294.6,56.0L293.8,55.9L292.9,55.6L292.3,55.0L291.4,54.8L290.7,54.2L289.1,52.0L288.9,51.1L289.0,50.2L289.5,49.5L290.2,48.9L290.7,48.2L291.5,47.7L291.1,48.5L289.9,49.9L288.3,50.5L287.4,50.6L285.9,51.7L284.2,52.2L283.7,53.0L283.5,53.8L283.6,55.6L283.5,56.5L283.1,57.3L282.5,58.0L282.1,57.1L282.0,58.0L282.2,58.9L283.2,61.4L285.5,64.1L287.1,73.0L287.4,74.7L287.2,75.6L288.4,77.0L288.5,77.8L288.4,78.7L287.8,79.4L286.0,79.6L283.5,78.7L282.7,78.2L282.3,77.4L283.5,78.7L286.7,80.4L287.3,81.1L287.8,82.8L289.1,84.0L289.6,84.7L290.4,85.2L290.8,86.0L291.0,87.8L291.7,89.5L291.6,90.4L291.0,89.8L290.6,89.0L288.7,87.1L287.1,86.2L285.3,86.2L282.9,87.4L282.3,88.1L283.0,87.5L283.9,87.4L285.7,87.5L286.6,87.9L288.3,87.8L290.1,87.9L292.8,87.4L293.7,87.6L297.7,85.6L299.5,85.3L301.0,86.3L302.7,87.0L304.2,87.9L304.8,88.6L306.4,89.5L307.5,90.9L306.1,89.7L302.9,88.0L301.8,86.7L301.0,86.2L299.2,85.8L297.6,86.5L296.9,87.1L296.3,87.8L296.4,88.7L295.7,90.3L297.1,88.0L297.8,87.4L299.6,87.7L300.4,88.1L301.1,88.7L302.9,88.7L305.5,89.2L306.3,88.7L307.2,88.7L308.5,87.5L309.0,86.7L309.7,86.3L311.9,84.6L313.5,84.0L312.3,85.3L311.5,85.7L308.7,87.9L307.1,88.7L305.6,89.7L304.7,89.8L302.9,89.6L302.1,90.1L301.5,90.7L301.1,89.9L300.4,89.5L299.5,89.3L297.8,89.7L297.0,90.3L296.1,90.4L295.3,90.2L294.5,89.8L293.3,88.4L291.2,86.8L290.1,85.3L287.5,85.0L286.6,85.1L285.8,85.6L284.8,87.1L284.0,87.4L283.6,88.2L284.2,90.8L282.6,89.9L283.1,90.7L282.4,90.1L283.3,90.0L284.0,89.4L285.7,89.8L289.3,89.6L291.1,90.1L292.0,90.0L293.7,90.3L294.6,90.7 M299.8,40.8L301.3,39.8L301.9,39.1L302.6,37.5L302.4,35.7L302.9,34.0L302.8,33.1L303.0,32.2L302.7,34.0L302.8,35.8L302.6,37.5L303.6,41.0L304.2,44.5L304.7,45.3L305.4,45.8L305.9,46.5L307.3,47.7L308.9,48.6L311.5,51.0L313.3,51.2L309.7,50.9L308.8,50.9L307.9,51.2L307.0,51.1L305.3,51.3L304.4,51.0L302.6,51.0L303.5,50.8L305.0,49.9L305.6,49.2L306.4,48.7L308.1,48.2L309.9,48.1L311.6,48.8L313.4,48.9L310.7,48.4L308.4,47.1L305.8,44.6L305.0,44.2L302.5,41.5L301.9,39.9L301.3,39.2L299.8,38.3L298.5,37.1L296.8,36.6L295.0,36.8L292.3,36.8L290.5,36.3L289.9,35.7L289.0,35.6L287.5,36.7L286.3,38.0L283.9,39.1L283.0,39.2L278.5,38.5L281.1,42.2L282.8,42.9L283.4,43.5L284.0,44.2L284.3,46.0L285.3,47.5L288.4,50.8L288.4,51.7L289.0,52.3L291.5,53.4L292.4,53.5L294.1,53.0L293.2,53.3L291.8,54.4L290.0,54.5L289.4,55.1L289.0,56.0L287.9,57.4L285.8,59.0L284.1,59.5L282.3,59.9L280.0,61.2L278.8,62.6L278.1,64.2L278.4,63.4L278.5,62.5L280.0,60.3L280.6,59.6L282.0,58.5L282.9,58.2L283.7,58.0L284.6,58.3L286.0,59.4L287.1,60.8L288.6,61.8L289.0,62.6L291.4,65.3L292.9,66.3L293.9,67.8L295.0,71.2L295.7,72.9L292.6,71.2L290.8,70.8L290.0,70.4L288.2,70.2L287.4,69.9L285.9,68.9L285.0,69.0L283.3,68.6L282.4,68.7L279.0,69.9L278.5,70.7L280.3,70.6L282.9,71.2L283.7,71.6L284.2,72.4L285.7,73.3L286.3,74.0L289.0,78.6L289.3,79.5L289.1,84.0L289.3,84.9L290.0,85.4L291.7,86.1L294.4,86.6L295.2,86.5L296.9,87.2L299.6,87.6L303.7,89.3L304.6,89.2L306.2,90.1L306.8,90.8L305.9,89.2L305.5,86.6L306.2,84.9L306.6,81.4L306.9,80.5L308.0,79.1L308.3,78.2L309.0,77.7L309.3,76.8L310.1,76.3L310.9,75.9L311.8,75.8L312.7,75.9L313.5,76.2L309.1,75.3L307.4,75.2L305.9,74.1L304.1,73.7L302.3,73.5L300.7,72.9L298.9,72.7L297.2,72.3L296.4,71.9L295.0,70.7L292.3,70.9L291.5,71.2L289.7,70.8L288.8,70.9L287.2,71.6L286.5,72.2L283.9,72.9L282.1,73.0L279.5,73.7L278.6,73.6L279.5,73.7L281.3,73.7L282.2,74.0L283.0,74.3L283.6,75.0L285.2,75.8L285.4,76.7L286.3,78.2L286.9,79.9L286.8,80.8L285.5,83.2L282.7,85.4L281.8,85.6L280.2,84.9L278.4,85.3L281.2,83.0L282.8,82.2L284.6,82.0L286.7,80.3L288.4,79.7L289.2,77.2L289.7,76.4L292.8,74.6L292.1,75.2L290.3,75.5L289.6,76.0L287.9,78.1L287.0,79.7L284.5,82.3L284.7,83.1L283.7,87.5L283.6,89.3L283.4,90.2L281.7,88.1L280.4,85.7L279.8,83.1L279.2,81.4L279.0,80.5L279.5,78.8L279.7,75.2L280.6,70.8L281.4,69.2L281.8,67.5L280.9,64.9L280.5,64.1L278.3,62.5L280.1,64.5L281.0,64.8L282.4,65.9L284.0,66.6L284.9,66.4L285.6,65.8L287.4,65.3L288.2,65.1L290.0,65.2L294.3,63.8L296.0,64.2L296.9,64.2L297.8,64.0L298.6,63.6L299.2,62.9L299.9,60.3L300.4,59.5L301.6,58.3L302.3,55.7L302.8,53.0L302.8,52.1L302.1,51.4L302.3,52.3L303.8,54.6L304.5,55.2L307.0,56.0L307.9,56.0L308.6,56.6L311.8,58.2L312.7,58.5L313.4,59.0L311.9,56.8 M277.3,59.8L276.3,59.9L275.5,60.5L275.0,61.4L275.0,63.4L275.4,64.3L275.5,66.3L276.7,70.1L277.8,71.8L278.5,72.5L282.7,75.2L284.5,75.9L285.5,75.9L287.5,75.6L292.3,74.1L293.3,74.0L293.1,73.0L293.3,70.0L292.9,67.0L292.4,65.1L291.0,62.4L289.8,57.6L288.8,54.8L288.7,51.8L290.0,49.1L291.3,47.6L291.7,46.7L288.6,49.2L287.6,49.4L283.7,48.4L281.7,48.2L280.8,48.3L277.1,46.6L274.2,46.0L272.5,45.0L273.9,46.4L274.8,46.8L277.1,48.8L279.2,51.0L282.9,54.3L285.5,55.8L287.3,58.1L288.9,59.3L289.8,59.8L290.6,60.5L292.5,60.9L293.5,60.8L295.4,60.3L300.4,60.0L302.3,59.3L303.3,59.3L305.3,59.3L309.1,60.3L311.1,60.2L313.1,60.7L311.2,58.3L310.1,55.5L309.7,53.6L310.4,48.6L310.7,47.7L311.8,46.0L312.5,43.1L313.4,41.3L313.7,38.4L312.3,41.0L311.7,41.7L308.3,43.9L305.5,46.8L303.7,47.6L306.5,44.7L308.4,44.1L309.4,44.1L313.0,45.8L313.8,46.4L314.0,47.4L313.6,45.4L313.9,42.5L313.7,39.5L313.8,37.5L312.3,40.1L310.1,44.6L308.6,45.9L306.1,49.0L304.5,52.7L304.1,54.6L303.1,56.4L302.4,58.2L302.0,60.2L302.0,61.2L302.0,64.2L303.4,69.0L303.9,69.8L304.7,70.5L306.5,72.9L308.8,74.7L311.6,76.0L312.5,77.7L313.7,80.5L312.4,77.8L311.0,76.3L308.5,74.8L306.3,72.7L304.6,71.7L303.9,70.9L302.9,69.2L301.1,65.7L301.1,63.7L300.9,61.7L301.3,59.7L301.0,56.7L300.5,55.9L298.9,54.7L297.1,53.8L300.0,57.9L301.0,59.6L301.7,60.3L302.2,61.2L302.7,63.1L302.9,66.1L304.3,69.9L307.8,74.7L309.3,76.0L313.5,78.7L311.7,75.1L310.6,73.5L308.8,72.5L306.9,71.9L304.5,70.2L303.7,68.4L302.1,65.8L299.6,64.2L296.7,63.4L294.7,63.5L293.8,63.8L292.8,63.9L290.8,63.8L287.8,63.3L286.0,62.6L285.1,62.1L284.4,61.4L283.5,59.6L283.0,57.7L283.0,55.7L282.1,53.9L280.8,52.4L278.9,51.6L274.1,50.2L272.4,49.3L274.1,48.3L275.7,47.1L277.0,45.6L281.0,42.5L282.3,41.1L285.8,39.1L288.6,38.1L290.3,37.1L292.2,36.5L294.0,35.6L294.8,35.0L296.0,33.4L295.4,35.3L294.1,38.0L291.9,40.0L290.6,41.5L289.2,44.2L286.9,47.5L286.2,48.1L285.3,48.5L283.7,49.7L282.3,52.4L281.5,53.0L279.8,55.5L279.3,56.3L278.7,58.2L278.5,59.2L278.5,61.2L277.4,64.0L278.8,67.7L279.3,68.5L281.3,70.8L284.3,73.5L287.8,75.3L289.3,76.7L291.0,77.6L288.1,77.1L285.2,76.3L279.2,72.7L274.2,72.5L273.3,72.7L272.5,73.3L273.5,73.3L276.3,74.3L278.0,75.2L279.0,75.5L280.0,75.7L282.9,75.1L285.7,76.1" fill="none" stroke="#111" stroke-width="0.38" stroke-opacity="0.85" stroke-linejoin="round"/>
<path d="M392.1,40.7L391.4,40.1L387.9,38.0L384.8,35.5L382.3,34.0L380.8,32.7L379.3,32.1L368.8,32.1L367.3,32.3L362.8,32.1L361.3,32.5L359.8,32.5L358.3,32.2L356.8,32.6L355.3,32.7L353.8,33.0L352.3,32.3L349.3,32.3L349.3,32.8L349.8,34.3L349.5,37.3L349.7,38.8L349.3,41.8L349.6,43.3L349.9,49.3L350.4,50.8L350.2,52.3L357.5,57.5L360.5,60.2L364.5,63.2L367.6,65.7L371.0,67.9L373.3,69.7L376.2,72.5L379.5,76.3L381.7,78.2L384.5,81.2L386.7,83.1L391.0,87.3L393.4,90.6L391.9,89.7L390.4,89.7L388.9,90.2L387.4,90.0L385.9,89.5L378.4,89.9L375.4,89.8L373.9,89.9L372.4,90.7L364.9,91.3L363.4,91.8L361.9,91.6L358.9,91.6L357.4,91.3L355.9,90.6L354.4,90.2L349.9,90.6L350.8,92.2L351.2,90.7L351.1,89.2L351.7,87.7L351.7,86.2L351.4,84.7L351.9,83.2L351.9,81.7L351.8,80.2L350.9,78.7L350.7,77.2L351.0,74.2L350.8,71.2L351.1,69.7L350.5,68.2L351.1,66.7L350.4,62.2L349.9,60.7L349.8,59.2L350.0,56.2L349.6,54.7L349.6,51.7L349.9,48.7L349.5,47.2L349.1,44.2L349.1,41.2L349.4,38.2L349.1,36.7L349.1,32.2L349.9,32.5L354.4,33.3L355.9,33.3L357.4,33.5L357.0,38.5L357.3,44.5L358.8,49.3L359.9,52.1L360.3,54.0L362.5,60.7L363.8,65.5L364.4,73.5L364.3,81.5L365.3,89.4L365.3,90.4L362.3,91.2L359.3,91.2L357.8,91.8L356.3,91.7L354.8,92.3L353.3,92.3L351.8,91.8L350.3,91.6L348.8,92.3L349.5,89.6L349.1,88.1L349.7,86.6L349.5,83.6L350.0,82.1L349.7,80.6L349.1,79.1L349.1,77.6L349.6,76.1L349.2,74.6L349.1,71.6L350.2,67.1L350.2,65.6L351.1,61.1L350.6,56.6L351.0,55.1L351.0,53.6L351.2,52.1L351.7,50.6L351.2,49.1L351.3,47.6L351.1,46.1L351.2,44.6L351.9,41.6L352.0,40.1L352.0,38.6L351.4,37.1L351.2,35.6L351.7,32.6L349.5,34.9L351.0,35.0L357.0,35.0L358.5,34.8L361.5,35.0L364.5,34.7L366.0,35.0L369.0,33.7L372.0,35.0L375.0,34.4L376.5,34.9L382.4,38.6L386.0,40.4L393.8,42.3L398.5,43.9L402.4,44.9L406.9,47.0L411.0,49.8L413.8,51.0L414.3,52.5L414.5,54.0L414.2,55.5L413.4,57.0L413.0,58.5L412.8,60.0L413.3,61.5L413.5,63.0L412.8,64.5L413.3,67.5L413.8,69.0L413.5,70.5L414.3,72.0L414.1,73.5L413.2,76.5L413.6,78.0L413.5,79.5L414.2,81.0L414.6,82.5L413.8,85.5L413.2,90.0L413.7,91.5L415.6,90.5L411.1,90.9L409.6,91.7L405.1,90.6L402.1,91.5L399.1,91.8L397.6,92.3L396.1,91.8L391.6,92.3L390.1,92.1L388.6,92.3L381.1,92.1L379.6,92.3L378.1,92.0L376.6,92.1L375.1,91.6L372.1,91.2L370.6,91.3L369.1,91.9L367.6,91.5L363.1,91.1L361.6,91.3L352.6,90.6L351.1,90.8L349.6,90.2L351.2,91.9L352.0,90.4L351.9,84.4L350.9,81.4L351.2,79.9L351.1,78.4L351.5,76.9L352.0,73.9L352.0,70.9L351.5,69.4L352.0,67.9L351.3,66.4L350.9,64.9L351.2,61.9L351.1,60.4L350.4,57.4L350.4,55.9L350.8,54.4L350.2,51.4L350.4,49.9L349.9,48.4L350.4,46.9L350.1,45.4L350.2,40.9L350.5,39.4L354.3,40.7L358.8,42.9L361.3,44.5L370.2,54.0L375.7,63.5L378.9,67.3L379.8,69.1L380.8,71.9L382.6,75.5L386.0,80.4L387.3,82.0L389.0,84.4L389.9,86.2L391.9,90.8L396.4,89.7L397.9,89.6L399.4,89.9L402.4,89.4L405.4,89.4L406.9,89.6L408.4,89.4L412.9,90.3L415.9,90.2L413.3,91.2L414.0,88.2L415.1,86.7L415.1,82.2L414.5,80.7L415.2,77.7L415.7,76.2L415.4,71.7L415.4,70.2L415.0,68.7L415.4,67.2L415.7,64.2L415.3,62.7L415.0,59.7L414.4,58.2L414.5,56.7L414.0,53.7L414.1,52.2L413.4,49.2L413.9,47.7L413.4,46.2L413.3,44.7L412.9,43.2L413.1,40.2L413.0,38.7L413.2,37.2L412.8,35.7L412.9,34.2L412.8,32.7L415.4,34.4L413.9,34.8L406.4,34.7L404.9,35.0L403.4,34.7L401.9,34.8L398.9,34.4L394.3,39.7L391.8,42.8L390.4,44.2L388.0,46.0L385.4,47.4L383.5,48.0L379.5,48.7L377.5,48.8L373.6,48.4L369.7,47.5L365.7,47.0L362.9,46.0L361.1,45.0L351.3,38.2L350.3,36.7L350.2,35.2L350.4,32.2L349.9,33.3L352.9,33.6L354.4,33.2L355.9,33.2L357.4,33.6L358.9,33.0L360.4,33.2L363.4,32.8L364.9,32.9L367.9,33.4L370.9,33.5L372.4,33.0L378.4,33.3L381.4,32.9L384.4,33.2L387.4,32.9L388.9,33.0L390.4,33.5L391.9,33.0L393.4,33.2L397.9,34.8L400.9,34.6L403.9,35.0L406.9,34.3L409.9,35.0L412.9,34.8L414.4,35.0L415.9,34.9L413.3,33.2L412.9,34.7L412.8,36.2L413.2,37.7L413.0,40.7L413.4,42.2L412.9,45.2L413.5,46.7L413.2,48.2L413.4,49.7L412.9,51.2L413.2,52.7L412.8,54.2L413.0,55.7L412.8,57.2L408.9,63.0L407.6,65.7L404.9,69.9L404.5,70.8L403.8,74.7L403.3,76.6L403.2,77.6L403.3,78.6L404.0,81.5L406.5,87.0L407.4,90.9L405.9,90.7L404.4,90.2L402.9,90.5L399.9,90.9L398.4,91.5L393.9,91.2L389.4,91.6L386.4,91.3L384.9,90.8L383.4,90.8L381.9,91.5L380.4,90.7L374.4,90.4L372.9,90.0L368.4,90.3L365.4,89.6L363.9,90.1L362.4,89.4L360.9,89.4L359.4,89.7L357.9,89.4L356.4,89.5L353.4,89.4L351.9,89.7L350.4,89.4L348.9,89.7L351.3,91.2L350.7,88.2L351.0,85.2L350.5,83.7L350.7,77.7L350.2,76.2L350.2,73.2L350.5,70.2L349.4,65.7L349.9,61.2L349.6,59.7L350.0,56.7L349.5,55.2L349.6,53.7L349.2,50.7L349.5,47.7L349.1,44.7L349.4,43.2L349.1,41.7L349.5,40.2L349.1,38.7L349.1,37.2L349.4,35.7L349.1,32.7L349.4,32.1L350.9,32.2L352.4,32.1L353.9,32.5L355.4,32.1L358.4,32.3L359.9,32.1L361.4,32.2L362.9,32.1L365.9,32.5L367.4,32.1L370.4,32.1L373.4,32.8L374.9,32.8L376.4,33.2L380.9,32.9L383.9,33.3L385.4,33.8L386.9,33.7L384.7,37.1L383.0,41.8L382.9,42.8L383.1,48.8L382.5,52.7L381.4,56.5L380.9,61.5L380.8,63.5L380.9,66.5L380.4,70.5L380.5,72.5L382.3,79.2L384.4,91.0L385.9,89.7L388.9,90.5L390.4,90.4L393.4,90.9L394.9,91.0L397.9,89.6L399.4,89.4L400.9,89.8L402.4,89.4L405.4,89.6L408.4,89.4L409.9,89.8L411.4,89.8L412.9,89.4L415.9,89.5L413.5,91.2L412.9,89.7L412.8,88.2L412.9,85.2L413.6,82.2L413.6,80.7L414.3,77.7L414.9,76.2L414.3,74.7L414.3,71.7L413.7,68.7L413.7,65.7L413.2,64.2L413.7,62.7L413.9,61.2L413.2,56.7L413.2,55.2L414.2,52.2L414.3,50.7L414.1,49.2L414.9,47.7L414.7,46.2L415.1,44.7L415.0,43.2L415.4,38.7L415.3,37.2L414.8,35.7L415.2,34.2L415.2,32.7L415.4,32.7L412.4,33.6L407.9,32.5L406.4,32.4L403.4,32.6L398.9,32.1L392.9,32.1L391.4,32.6L389.9,32.5L388.4,32.8L386.9,32.1L383.9,32.1L382.4,32.4L382.3,36.4L382.5,40.4L382.3,42.4L382.3,44.4L382.6,46.3L383.3,48.2L384.2,54.2L384.1,60.2L385.1,67.1L386.5,70.8L386.6,75.8L387.3,81.7L387.6,85.7L388.3,88.6L388.4,90.6L389.9,91.9L394.4,91.2L395.9,91.1L397.4,91.6L401.9,91.3L403.4,90.8L404.9,90.8L406.4,91.2L407.9,90.1L409.4,89.8L412.4,90.4L415.4,89.8L412.8,91.7L413.0,88.7L412.8,87.2L412.8,79.7L413.0,78.2L412.8,70.7L413.0,69.2L412.8,67.7L413.2,64.7L412.8,63.2L412.8,61.7L413.3,58.7L412.8,55.7L412.8,49.7L413.1,46.7L412.8,45.2L413.1,43.7L412.8,42.2L412.8,39.2L412.8,37.7L413.4,34.7L413.2,33.2L415.9,34.7L414.4,34.9L408.4,35.0L407.1,38.8L405.6,41.4L404.6,44.2L402.6,51.9L402.0,57.9L401.8,58.9L400.6,61.6L398.7,65.2L396.3,68.4L394.1,70.4L393.3,70.9L387.6,73.0L384.8,73.8L376.6,77.7L372.9,79.2L371.0,79.7L369.0,79.8L363.1,79.1L357.1,78.6L355.1,78.7L351.2,79.6L351.7,78.1L351.6,76.6L351.1,75.1L350.9,73.6L352.0,69.1L351.4,67.6L351.3,64.6L350.6,63.1L351.6,61.6L351.4,57.1L351.8,55.6L351.8,54.1L351.3,52.6L351.6,49.6L352.0,48.1L352.0,46.6L351.8,45.1L351.3,43.6L351.5,42.1L352.0,40.6L351.9,34.6L352.0,33.1L349.0,35.0L350.5,35.0L355.0,34.3L356.5,34.5L358.0,34.0L359.5,34.6L364.0,33.9L365.5,34.2L367.0,34.1L368.5,33.6L370.0,34.0L371.5,33.5L373.0,33.6L374.5,33.2L377.5,32.9L379.0,32.9L386.5,32.1L388.0,32.1L391.0,33.2L392.5,33.0L397.0,33.6L398.5,33.0L400.0,32.7L401.5,32.9L403.0,32.5L404.5,33.0L407.5,32.6L409.0,33.0L410.5,32.7L415.0,32.5L415.2,32.3L415.3,33.8L414.9,35.3L415.4,36.8L415.7,39.8L415.7,42.8L409.0,51.5L403.0,58.2L401.9,59.9L398.4,63.5L396.0,68.9L390.3,77.1L389.8,78.0L389.0,79.8L388.8,80.8L388.9,82.8L390.2,87.7L391.4,90.4L389.9,92.0L385.4,92.3L383.9,91.9L380.9,92.3L377.9,92.3L374.9,91.7L371.9,91.9L370.4,91.7L368.9,92.3L364.4,92.3L361.4,91.2L358.4,90.7L352.4,92.1L350.9,92.1L349.4,91.9L349.1,91.7L349.5,88.7L349.9,87.2L349.6,85.7L350.0,84.2L349.9,82.7L350.5,81.2L350.6,76.7L350.8,75.2L351.2,73.7L350.8,72.2L350.9,70.7L351.0,69.2L351.6,67.7L351.2,66.2L351.1,64.7L351.8,61.7L352.0,60.2L352.0,54.2L351.4,52.7L351.3,51.2L350.9,49.7L351.8,46.7L352.0,45.2L351.4,43.7L351.9,42.2L352.0,37.7L351.6,33.2L348.9,34.2L351.9,34.2L353.4,34.9L354.9,35.0L357.9,35.0L359.4,34.5L360.9,34.9L362.4,35.0L365.4,34.4L366.9,34.4L368.4,35.0L371.4,34.9L375.9,35.0L377.4,34.5L378.9,33.7L380.4,34.2L381.9,34.0L386.8,37.4L389.5,40.4L392.8,45.4L393.7,47.2L394.9,49.9L395.5,51.8L397.7,57.4L398.7,59.2L399.3,59.9L400.6,61.5L402.1,62.8L403.5,64.2L407.6,67.1L409.8,69.1L414.1,74.6L415.4,73.1L415.7,71.6L415.1,70.1L414.5,67.1L414.4,64.1L414.9,61.1L415.7,59.6L415.7,52.1L415.6,50.6L415.0,49.1L415.4,47.6L414.9,46.1L414.8,44.6L414.2,43.1L414.0,41.6L413.2,40.1L413.3,38.6L412.8,35.6L413.2,34.1L413.1,32.6L415.3,34.6L413.8,34.6L412.3,35.0L410.8,34.3L407.8,34.3L406.3,34.7L404.8,34.5L401.8,35.0L397.3,34.9L394.3,34.4L392.8,33.6L391.3,33.4L389.8,34.3L388.3,34.8L385.3,35.0L382.3,34.3L379.3,34.5L377.8,34.3L376.3,34.5L374.8,34.2L373.3,34.2L371.8,33.6L368.8,33.5L367.3,34.2L364.3,33.0L362.8,32.9L358.3,33.5L355.3,33.1L353.8,33.2L349.3,32.8L350.3,32.8L349.9,34.3L349.8,35.8L350.1,38.8L349.9,40.3L350.2,41.8L349.9,44.8L349.2,47.8L349.3,50.8L351.2,54.4L349.1,55.9L349.1,57.4L349.5,58.9L349.5,60.4L350.1,61.9L349.9,64.9L349.7,66.4L350.0,67.9L349.3,70.9L349.1,73.9L349.2,75.4L349.6,76.9L349.1,79.9L349.1,82.9L349.3,84.4L349.9,85.9L349.2,88.9L349.1,90.4L349.1,91.9L349.6,92.3L355.6,92.3L357.1,91.8L358.6,92.3L360.1,91.9L361.6,92.3L364.6,92.1L366.1,92.3L369.1,91.6L370.6,91.9L373.6,91.2L375.1,90.5L378.1,91.2L381.1,90.7L384.1,91.5L385.6,91.2L390.1,91.2L391.6,91.1L393.1,90.5L396.1,90.1L397.6,89.4L400.6,89.6L402.1,89.4L405.1,89.4L408.1,89.5L411.1,89.9L414.1,89.8L415.6,90.6L414.1,91.5L414.3,88.5L414.5,87.0L415.4,85.5L414.6,84.0L414.4,82.5L415.3,79.5L414.5,78.0L414.8,76.5L414.2,75.0L415.0,72.0L414.6,69.0L414.7,67.5L414.0,66.0L414.0,64.5L414.5,63.0L413.7,60.0L414.2,57.0L413.7,55.5L410.5,60.6L408.0,67.1L407.4,69.0L406.5,70.8L405.4,72.5L402.8,75.5L398.5,79.7L395.1,83.4L392.6,87.7L392.5,90.7L391.0,90.5L389.5,89.9L388.0,90.2L386.5,90.1L385.0,90.6L382.0,90.2L379.0,90.6L377.5,90.5L376.0,91.1L374.5,90.9L368.5,92.0L367.0,91.2L362.5,91.5L361.0,92.2L356.5,91.1L355.0,90.6L353.5,90.3L350.5,91.1L349.0,91.1L350.2,91.3L350.0,89.8L349.2,88.3L349.1,85.3L349.2,83.8L350.2,82.3L349.5,79.3L349.7,77.8L349.6,76.3L350.0,74.8L349.5,73.3L349.7,71.8L349.6,70.3L349.9,68.8L349.1,67.3L349.3,64.3L350.1,61.3L350.1,59.8L349.9,58.3L350.3,53.8L349.4,50.8L349.1,47.8L349.4,44.8L349.1,41.8L349.2,40.3L349.5,38.8L349.3,37.3L349.5,35.8L349.1,32.8L349.3,32.4L353.8,33.3L357.8,33.3L359.3,34.8L362.3,35.0L384.8,35.0L387.8,34.5L392.3,35.0L393.8,34.3L395.3,34.3L396.8,34.5L399.8,33.6L401.3,34.0L402.8,33.9L404.3,34.5L408.8,35.0L411.8,34.4L413.3,34.4L414.8,33.9L413.8,32.1L413.5,36.6L413.2,38.1L413.8,41.1L414.4,42.6L413.6,45.6L413.3,48.6L413.8,51.6L413.6,53.1L413.8,54.6L413.3,56.1L413.2,57.6L413.2,59.1L413.7,60.6L413.8,62.1L413.4,63.6L413.7,66.6L413.4,68.1L414.0,71.1L413.9,72.6L413.4,74.1L413.5,75.6L413.2,78.6L413.5,81.6L413.0,83.1L413.5,84.6L411.1,81.4L407.8,76.4L406.5,74.9L403.0,71.3L402.1,69.5L401.4,67.6L400.0,61.8L399.8,59.8L399.9,58.8L400.8,55.9L402.3,52.2L403.1,49.3L403.3,45.4L403.0,41.4L402.5,38.4L402.8,36.4L403.9,33.6L402.4,34.3L400.9,34.3L399.4,34.6L397.9,34.2L394.9,34.8L391.9,34.2L388.9,34.8L387.4,34.7L385.9,35.0L381.4,34.9L379.9,34.7L375.4,35.0L373.9,34.9L369.4,35.0L367.9,34.6L364.9,34.6L363.4,35.0L361.9,34.7L358.9,34.8L357.4,34.4L355.9,35.0L354.4,34.8L349.9,35.0L351.6,32.2L352.0,36.7L352.0,45.7L351.7,47.2L352.0,48.7L352.0,50.2L350.8,53.2L350.8,54.7L351.1,63.7L351.9,65.2L352.0,66.7L351.5,68.2L352.0,69.7L352.0,71.2L351.9,72.7L350.9,75.7L350.2,80.2L350.5,84.7L350.3,86.2L350.6,89.2L353.5,86.4L354.5,84.6L355.8,83.1L359.5,79.8L360.4,79.3L363.1,78.2L367.0,77.1L369.0,76.8L375.8,75.1L378.5,73.9L382.3,72.6L383.3,72.4L385.3,72.3L388.2,71.5L392.1,70.8L394.0,70.2L397.4,68.2L400.9,64.6L403.0,61.2L403.8,59.4L404.3,50.4L403.5,46.5L403.8,43.5L403.8,37.5L403.4,33.5L404.9,34.9L407.9,34.6L409.4,35.0L410.9,34.7L412.4,35.0L415.4,35.0L412.8,32.7L412.8,38.7L413.3,41.7L413.0,43.2L413.1,44.7L413.8,46.2L413.4,47.7L414.0,52.2L413.9,53.7L413.6,55.2L413.8,58.2L413.6,59.7L414.2,62.7L414.3,64.2L413.5,67.2L409.7,66.1L405.7,65.5L400.7,65.4L394.8,65.7L391.8,65.4L386.8,65.6L382.9,66.6L376.3,69.0L374.4,69.3L372.4,69.3L370.4,69.1L364.5,67.8L360.6,67.2L357.7,66.2L355.2,64.6L352.1,62.0L350.7,60.6L349.7,59.1L350.3,57.6L350.7,56.1L351.5,54.6L351.1,53.1L352.0,51.6L351.8,50.1L349.4,42.6L350.0,39.6L350.8,38.1L351.1,36.6L351.0,35.1L350.0,32.1L350.0,33.0L351.5,32.9L353.0,32.1L354.5,32.1L356.0,32.4L357.5,33.3L359.0,33.3L360.5,33.5L362.0,33.2L366.5,34.0L368.0,33.9L369.5,33.1L372.5,33.9L374.0,33.4L375.5,33.3L377.0,32.7L378.5,32.6L386.0,32.9L387.5,33.3L392.0,33.2L393.5,33.7L395.0,33.5L396.5,33.7L398.0,33.6L399.5,33.9L401.0,32.8L402.5,32.7L404.0,32.1L405.5,32.1L407.0,32.5L408.5,32.5L413.0,32.1L414.5,32.4L416.0,32.2L415.4,33.3L415.2,34.8L414.7,36.3L414.6,37.8L414.8,39.3L414.2,40.8L414.0,42.3L414.5,46.8L414.0,48.3L412.8,54.3L406.9,50.6L405.3,49.3L402.7,47.9L400.2,46.2L395.8,43.9L393.4,42.1L387.1,35.7L384.5,34.2L386.0,33.2L390.5,32.6L392.0,32.6L393.5,32.1L395.0,32.4L396.5,32.1L401.0,32.1L402.5,32.4L404.0,32.1L405.5,32.1L407.0,32.7L411.5,32.4L413.0,32.8L414.5,32.5L414.9,31.8L414.8,33.3L415.0,34.8L414.8,37.8L415.2,39.3L415.2,40.8L415.5,42.3L415.6,45.3L415.4,46.8L415.2,51.3L414.8,52.8L414.9,54.3L414.6,55.8L415.1,58.8L415.2,60.3L414.5,61.8L415.0,63.3L414.6,64.8L414.8,66.3L414.7,69.3L414.0,70.8L413.9,72.3L414.1,78.3L414.7,79.8L414.6,81.3L413.9,84.3L414.2,85.8L413.7,87.3L413.6,88.8L413.0,90.3L413.4,91.8L415.3,89.8L413.8,90.5L410.8,90.8L409.3,90.2L404.8,90.7L403.3,90.2L401.8,90.2L400.3,90.8L398.8,90.7L397.3,91.2L395.8,91.1L394.3,90.5L391.3,90.0L389.8,90.2L388.3,90.0L385.3,90.3L382.3,89.6L380.8,89.4L377.8,89.6L376.3,89.4L373.3,89.4L371.8,89.9L364.3,89.4L362.8,89.9L361.3,89.9L359.8,90.5L356.8,89.4L355.3,89.5L354.9,84.5L354.2,81.6L352.4,74.8L351.0,72.1L349.5,73.6L349.4,78.1L349.5,81.1L349.1,82.6L349.1,90.1L349.9,91.6L349.3,91.7L350.8,91.5L352.3,90.9L353.8,91.4L358.3,92.2L364.3,92.3L365.8,91.6L367.3,91.6L368.8,91.0L371.8,90.9L373.3,91.2L374.8,90.8L376.3,91.1L379.3,90.9L383.8,91.1L385.3,90.9L386.8,91.3L388.3,91.4L389.8,92.1L391.3,92.3L397.3,92.3L398.8,91.7L400.3,91.4L401.8,91.6L403.3,91.2L404.8,90.8L406.3,90.1L407.8,90.4L409.3,90.4L413.8,91.5L415.3,91.4L415.0,91.8L415.7,90.3L415.4,87.3L415.7,84.3L415.3,79.8L415.7,78.3L415.7,72.3L415.2,69.3L415.1,67.8L415.7,66.3L415.4,61.8L414.9,60.3L415.3,58.8L414.7,57.3L414.9,55.8L414.8,51.3L415.0,49.8L414.3,46.8L414.4,45.3L415.0,42.3L413.9,37.8L414.2,36.3L414.9,34.8L415.0,33.3L416.0,32.5L413.0,33.7L411.5,34.0L408.5,35.0L407.0,34.5L404.0,34.0L401.3,39.4L399.3,41.6L397.5,44.0L396.5,45.7L394.7,49.3L393.9,52.2L393.1,58.1L392.3,61.0L389.5,66.3L385.2,73.1L382.3,80.5L380.0,84.9L379.3,86.8L378.4,90.7L375.4,91.4L372.4,90.3L369.4,90.5L367.9,90.3L366.4,89.8L363.4,89.4L360.4,89.4L358.9,89.7L355.9,90.8L352.9,90.5L351.4,90.0L349.9,89.9L351.3,92.2L350.0,86.2L350.1,84.7L349.3,83.2L349.3,81.7L349.7,80.2L349.4,78.7L349.5,77.2L349.1,75.7L349.8,74.2L354.5,72.4L364.1,69.9L366.0,69.1L368.5,67.6L369.5,67.3L383.4,66.0" fill="none" stroke="#111" stroke-width="0.42" stroke-opacity="0.8" stroke-linejoin="round"/>
<ellipse cx="296.3" cy="46.3" rx="11.3" ry="8.0" fill="#fff" fill-opacity="0.0" stroke="#2626e0" stroke-width="1.1"/>
<ellipse cx="296.5" cy="78.5" rx="11.2" ry="7.9" fill="none" stroke="#e04020" stroke-width="1.1"/>
<ellipse cx="394.7" cy="46.9" rx="11.2" ry="8.2" fill="none" stroke="#2626e0" stroke-width="1.1"/>
<ellipse cx="394.4" cy="80.5" rx="11.2" ry="7.8" fill="none" stroke="#f04020" stroke-width="1.1"/>
<ellipse cx="440.4" cy="39.1" rx="5.6" ry="4.1" fill="none" stroke="#3a3af4" stroke-width="1"/>
<ellipse cx="440.5" cy="56.7" rx="5.7" ry="4.2" fill="none" stroke="#f45040" stroke-width="1"/>
<text x="448.34" y="41.00" font-size="7.2" textLength="39.83" lengthAdjust="spacingAndGlyphs" fill="#000" >FAMILIAR</text>
<text x="451.65" y="58.90" font-size="7.2" textLength="19.16" lengthAdjust="spacingAndGlyphs" fill="#000" >NEW</text>
<line x1="557.40" y1="15.00" x2="557.40" y2="107.00" stroke="#333" stroke-width="1.0" />
<line x1="552.90" y1="106.50" x2="557.40" y2="106.50" stroke="#333" stroke-width="1.0" />
<text x="547.67" y="108.51" font-size="7.6" textLength="4.56" lengthAdjust="spacingAndGlyphs" fill="#000" >0</text>
<line x1="552.90" y1="88.20" x2="557.40" y2="88.20" stroke="#333" stroke-width="1.0" />
<text x="543.11" y="90.21" font-size="7.6" textLength="9.13" lengthAdjust="spacingAndGlyphs" fill="#000" >10</text>
<line x1="552.90" y1="69.90" x2="557.40" y2="69.90" stroke="#333" stroke-width="1.0" />
<text x="543.11" y="71.91" font-size="7.6" textLength="9.13" lengthAdjust="spacingAndGlyphs" fill="#000" >20</text>
<line x1="552.90" y1="51.60" x2="557.40" y2="51.60" stroke="#333" stroke-width="1.0" />
<text x="543.11" y="53.61" font-size="7.6" textLength="9.13" lengthAdjust="spacingAndGlyphs" fill="#000" >30</text>
<line x1="552.90" y1="33.30" x2="557.40" y2="33.30" stroke="#333" stroke-width="1.0" />
<text x="543.11" y="35.31" font-size="7.6" textLength="9.13" lengthAdjust="spacingAndGlyphs" fill="#000" >40</text>
<line x1="552.90" y1="15.00" x2="557.40" y2="15.00" stroke="#333" stroke-width="1.0" />
<text x="543.11" y="17.01" font-size="7.6" textLength="9.13" lengthAdjust="spacingAndGlyphs" fill="#000" >50</text>
<line x1="557.40" y1="106.50" x2="685.00" y2="106.50" stroke="#333" stroke-width="1.0" />
<line x1="593.50" y1="106.50" x2="593.50" y2="110.00" stroke="#333" stroke-width="1.0" />
<line x1="647.40" y1="106.50" x2="647.40" y2="110.00" stroke="#333" stroke-width="1.0" />
<text x="581.21" y="117.80" font-size="8.8" textLength="33.66" lengthAdjust="spacingAndGlyphs" fill="#000" >Control</text>
<text x="633.37" y="117.80" font-size="8.8" textLength="35.20" lengthAdjust="spacingAndGlyphs" fill="#000" >27-OHC</text>
<text xml:space="preserve" transform="translate(536.70,114.00) rotate(-90)" x="-0.51" y="0" font-size="7.7" textLength="107.69" lengthAdjust="spacingAndGlyphs" fill="#000">Latency to find the patform(s)</text>
<line x1="575.50" y1="79.50" x2="611.00" y2="79.50" stroke="#eec79a" stroke-width="0.8" />
<line x1="584.75" y1="73.60" x2="602.25" y2="73.60" stroke="#eec79a" stroke-width="0.8" />
<line x1="584.75" y1="85.20" x2="602.25" y2="85.20" stroke="#eec79a" stroke-width="0.8" />
<line x1="593.50" y1="73.60" x2="593.50" y2="85.20" stroke="#eec79a" stroke-width="0.8" />
<ellipse cx="589.0" cy="69.4" rx="2.20" ry="1.90" fill="#e4aa68"/>
<ellipse cx="597.7" cy="74.0" rx="2.20" ry="1.90" fill="#e4aa68"/>
<ellipse cx="597.7" cy="75.8" rx="2.20" ry="1.90" fill="#e4aa68"/>
<ellipse cx="589.0" cy="79.7" rx="2.20" ry="1.90" fill="#e4aa68"/>
<ellipse cx="589.0" cy="83.2" rx="2.20" ry="1.90" fill="#e4aa68"/>
<ellipse cx="580.2" cy="82.3" rx="2.20" ry="1.90" fill="#e4aa68"/>
<ellipse cx="597.7" cy="83.8" rx="2.20" ry="1.90" fill="#e4aa68"/>
<ellipse cx="607.0" cy="86.9" rx="2.20" ry="1.90" fill="#e4aa68"/>
<line x1="629.20" y1="61.60" x2="665.20" y2="61.60" stroke="#7a7aff" stroke-width="0.8" />
<line x1="638.50" y1="49.20" x2="656.10" y2="49.20" stroke="#7a7aff" stroke-width="0.8" />
<line x1="638.50" y1="73.60" x2="656.10" y2="73.60" stroke="#7a7aff" stroke-width="0.8" />
<line x1="647.30" y1="49.20" x2="647.30" y2="73.60" stroke="#7a7aff" stroke-width="0.8" />
<ellipse cx="641.2" cy="47.2" rx="2.30" ry="2.00" fill="#0000ff"/>
<ellipse cx="653.2" cy="49.2" rx="2.30" ry="2.00" fill="#0000ff"/>
<ellipse cx="641.2" cy="57.0" rx="2.30" ry="2.00" fill="#0000ff"/>
<ellipse cx="653.2" cy="55.5" rx="2.30" ry="2.00" fill="#0000ff"/>
<ellipse cx="635.2" cy="65.7" rx="2.30" ry="2.00" fill="#0000ff"/>
<ellipse cx="647.3" cy="66.2" rx="2.30" ry="2.00" fill="#0000ff"/>
<ellipse cx="659.1" cy="67.1" rx="2.30" ry="2.00" fill="#0000ff"/>
<ellipse cx="647.3" cy="85.1" rx="2.30" ry="2.00" fill="#0000ff"/>
<line x1="584.80" y1="31.40" x2="647.20" y2="31.40" stroke="#888" stroke-width="1.1" />
<text x="609.71" y="26.67" font-size="12.5" textLength="10.55" lengthAdjust="spacingAndGlyphs" fill="#000" >**</text>
<line x1="60.60" y1="135.70" x2="60.60" y2="237.90" stroke="#333" stroke-width="0.9" />
<line x1="56.10" y1="237.40" x2="60.60" y2="237.40" stroke="#333" stroke-width="0.9" />
<text x="49.97" y="239.69" font-size="8.4" textLength="4.67" lengthAdjust="spacingAndGlyphs" fill="#000" >0</text>
<line x1="56.10" y1="211.98" x2="60.60" y2="211.98" stroke="#333" stroke-width="0.9" />
<text x="45.30" y="214.27" font-size="8.4" textLength="9.34" lengthAdjust="spacingAndGlyphs" fill="#000" >20</text>
<line x1="56.10" y1="186.56" x2="60.60" y2="186.56" stroke="#333" stroke-width="0.9" />
<text x="45.30" y="188.85" font-size="8.4" textLength="9.34" lengthAdjust="spacingAndGlyphs" fill="#000" >40</text>
<line x1="56.10" y1="161.14" x2="60.60" y2="161.14" stroke="#333" stroke-width="0.9" />
<text x="45.30" y="163.43" font-size="8.4" textLength="9.34" lengthAdjust="spacingAndGlyphs" fill="#000" >60</text>
<line x1="56.10" y1="135.72" x2="60.60" y2="135.72" stroke="#333" stroke-width="0.9" />
<text x="45.30" y="138.01" font-size="8.4" textLength="9.34" lengthAdjust="spacingAndGlyphs" fill="#000" >80</text>
<line x1="60.60" y1="237.40" x2="204.40" y2="237.40" stroke="#333" stroke-width="0.9" />
<line x1="60.50" y1="237.40" x2="60.50" y2="240.80" stroke="#333" stroke-width="0.9" />
<text x="58.20" y="250.70" font-size="8.3" textLength="4.62" lengthAdjust="spacingAndGlyphs" fill="#000" >0</text>
<line x1="108.46" y1="237.40" x2="108.46" y2="240.80" stroke="#333" stroke-width="0.9" />
<text x="106.17" y="250.70" font-size="8.3" textLength="4.62" lengthAdjust="spacingAndGlyphs" fill="#000" >2</text>
<line x1="156.42" y1="237.40" x2="156.42" y2="240.80" stroke="#333" stroke-width="0.9" />
<text x="154.07" y="250.70" font-size="8.3" textLength="4.62" lengthAdjust="spacingAndGlyphs" fill="#000" >4</text>
<line x1="204.38" y1="237.40" x2="204.38" y2="240.80" stroke="#333" stroke-width="0.9" />
<text x="202.07" y="250.70" font-size="8.3" textLength="4.62" lengthAdjust="spacingAndGlyphs" fill="#000" >6</text>
<text x="120.85" y="263.30" font-size="8.6" textLength="23.35" lengthAdjust="spacingAndGlyphs" fill="#000" >Days</text>
<text xml:space="preserve" transform="translate(38.10,244.80) rotate(-90)" x="-0.57" y="0" font-size="8.4" textLength="119.29" lengthAdjust="spacingAndGlyphs" fill="#000">Latency to find the patform(s)</text>
<line x1="84.48" y1="162.00" x2="84.48" y2="179.10" stroke="#eec79a" stroke-width="0.8" />
<line x1="82.48" y1="162.00" x2="86.48" y2="162.00" stroke="#eec79a" stroke-width="0.8" />
<line x1="82.48" y1="179.10" x2="86.48" y2="179.10" stroke="#eec79a" stroke-width="0.8" />
<line x1="108.46" y1="170.00" x2="108.46" y2="188.30" stroke="#eec79a" stroke-width="0.8" />
<line x1="106.46" y1="170.00" x2="110.46" y2="170.00" stroke="#eec79a" stroke-width="0.8" />
<line x1="106.46" y1="188.30" x2="110.46" y2="188.30" stroke="#eec79a" stroke-width="0.8" />
<line x1="132.44" y1="184.00" x2="132.44" y2="208.20" stroke="#eec79a" stroke-width="0.8" />
<line x1="130.44" y1="184.00" x2="134.44" y2="184.00" stroke="#eec79a" stroke-width="0.8" />
<line x1="130.44" y1="208.20" x2="134.44" y2="208.20" stroke="#eec79a" stroke-width="0.8" />
<line x1="156.42" y1="208.40" x2="156.42" y2="225.90" stroke="#eec79a" stroke-width="0.8" />
<line x1="154.42" y1="208.40" x2="158.42" y2="208.40" stroke="#eec79a" stroke-width="0.8" />
<line x1="154.42" y1="225.90" x2="158.42" y2="225.90" stroke="#eec79a" stroke-width="0.8" />
<line x1="180.40" y1="214.50" x2="180.40" y2="227.00" stroke="#eec79a" stroke-width="0.8" />
<line x1="178.40" y1="214.50" x2="182.40" y2="214.50" stroke="#eec79a" stroke-width="0.8" />
<line x1="178.40" y1="227.00" x2="182.40" y2="227.00" stroke="#eec79a" stroke-width="0.8" />
<polyline points="84.5,170.2 108.5,179.1 132.4,196.0 156.4,217.2 180.4,220.9" fill="none" stroke="#e4aa68" stroke-width="0.9"/>
<circle cx="84.5" cy="170.2" r="1.6" fill="#e4aa68"/>
<circle cx="108.5" cy="179.1" r="1.6" fill="#e4aa68"/>
<circle cx="132.4" cy="196.0" r="1.6" fill="#e4aa68"/>
<circle cx="156.4" cy="217.2" r="1.6" fill="#e4aa68"/>
<circle cx="180.4" cy="220.9" r="1.6" fill="#e4aa68"/>
<line x1="84.48" y1="160.50" x2="84.48" y2="174.20" stroke="#7a7aff" stroke-width="0.8" />
<line x1="82.48" y1="160.50" x2="86.48" y2="160.50" stroke="#7a7aff" stroke-width="0.8" />
<line x1="82.48" y1="174.20" x2="86.48" y2="174.20" stroke="#7a7aff" stroke-width="0.8" />
<line x1="108.46" y1="161.30" x2="108.46" y2="180.00" stroke="#7a7aff" stroke-width="0.8" />
<line x1="106.46" y1="161.30" x2="110.46" y2="161.30" stroke="#7a7aff" stroke-width="0.8" />
<line x1="106.46" y1="180.00" x2="110.46" y2="180.00" stroke="#7a7aff" stroke-width="0.8" />
<line x1="132.44" y1="167.00" x2="132.44" y2="188.40" stroke="#7a7aff" stroke-width="0.8" />
<line x1="130.44" y1="167.00" x2="134.44" y2="167.00" stroke="#7a7aff" stroke-width="0.8" />
<line x1="130.44" y1="188.40" x2="134.44" y2="188.40" stroke="#7a7aff" stroke-width="0.8" />
<line x1="156.42" y1="183.40" x2="156.42" y2="208.00" stroke="#7a7aff" stroke-width="0.8" />
<line x1="154.42" y1="183.40" x2="158.42" y2="183.40" stroke="#7a7aff" stroke-width="0.8" />
<line x1="154.42" y1="208.00" x2="158.42" y2="208.00" stroke="#7a7aff" stroke-width="0.8" />
<line x1="180.40" y1="196.90" x2="180.40" y2="208.40" stroke="#7a7aff" stroke-width="0.8" />
<line x1="178.40" y1="196.90" x2="182.40" y2="196.90" stroke="#7a7aff" stroke-width="0.8" />
<line x1="178.40" y1="208.40" x2="182.40" y2="208.40" stroke="#7a7aff" stroke-width="0.8" />
<polyline points="84.5,167.0 108.5,170.7 132.4,177.8 156.4,195.4 180.4,202.8" fill="none" stroke="#2020ff" stroke-width="0.9"/>
<rect x="82.8" y="165.3" width="3.4" height="3.4" fill="#0000ff"/>
<rect x="106.8" y="169.0" width="3.4" height="3.4" fill="#0000ff"/>
<rect x="130.7" y="176.10000000000002" width="3.4" height="3.4" fill="#0000ff"/>
<rect x="154.7" y="193.70000000000002" width="3.4" height="3.4" fill="#0000ff"/>
<rect x="178.7" y="201.10000000000002" width="3.4" height="3.4" fill="#0000ff"/>
<text x="155.87" y="179.97" font-size="12.5" textLength="4.65" lengthAdjust="spacingAndGlyphs" fill="#000" >*</text>
<text x="176.91" y="194.28" font-size="12.5" textLength="10.15" lengthAdjust="spacingAndGlyphs" fill="#000" >**</text>
<line x1="185.30" y1="135.50" x2="197.80" y2="135.50" stroke="#e4aa68" stroke-width="0.9" />
<circle cx="191.3" cy="135.5" r="1.6" fill="#e4aa68"/>
<line x1="185.30" y1="163.00" x2="197.80" y2="163.00" stroke="#7a7aff" stroke-width="0.9" />
<rect x="189.6" y="161.3" width="3.4" height="3.4" fill="#0000ff"/>
<text x="205.09" y="138.40" font-size="8.8" textLength="41.62" lengthAdjust="spacingAndGlyphs" fill="#000" >Conntrol</text>
<text x="205.16" y="165.90" font-size="8.8" textLength="36.11" lengthAdjust="spacingAndGlyphs" fill="#000" >27-OHC</text>
<line x1="333.00" y1="138.50" x2="333.00" y2="238.30" stroke="#777" stroke-width="1.0" />
<line x1="328.50" y1="237.80" x2="333.00" y2="237.80" stroke="#777" stroke-width="1.0" />
<text x="323.58" y="239.88" font-size="7.8" textLength="4.34" lengthAdjust="spacingAndGlyphs" fill="#000" >0</text>
<line x1="328.50" y1="217.94" x2="333.00" y2="217.94" stroke="#777" stroke-width="1.0" />
<text x="323.57" y="220.02" font-size="7.8" textLength="4.34" lengthAdjust="spacingAndGlyphs" fill="#000" >2</text>
<line x1="328.50" y1="198.08" x2="333.00" y2="198.08" stroke="#777" stroke-width="1.0" />
<text x="323.30" y="200.16" font-size="7.8" textLength="4.34" lengthAdjust="spacingAndGlyphs" fill="#000" >4</text>
<line x1="328.50" y1="178.22" x2="333.00" y2="178.22" stroke="#777" stroke-width="1.0" />
<text x="323.54" y="180.30" font-size="7.8" textLength="4.34" lengthAdjust="spacingAndGlyphs" fill="#000" >6</text>
<line x1="328.50" y1="158.36" x2="333.00" y2="158.36" stroke="#777" stroke-width="1.0" />
<text x="323.50" y="160.44" font-size="7.8" textLength="4.34" lengthAdjust="spacingAndGlyphs" fill="#000" >8</text>
<line x1="328.50" y1="138.50" x2="333.00" y2="138.50" stroke="#777" stroke-width="1.0" />
<text x="319.24" y="140.58" font-size="7.8" textLength="8.68" lengthAdjust="spacingAndGlyphs" fill="#000" >10</text>
<line x1="333.00" y1="237.80" x2="457.70" y2="237.80" stroke="#777" stroke-width="1.0" />
<line x1="368.50" y1="237.80" x2="368.50" y2="241.20" stroke="#777" stroke-width="1.0" />
<line x1="421.60" y1="237.80" x2="421.60" y2="241.20" stroke="#777" stroke-width="1.0" />
<text x="356.65" y="250.90" font-size="8.6" textLength="30.15" lengthAdjust="spacingAndGlyphs" fill="#000" >Control</text>
<text x="408.40" y="250.40" font-size="8.6" textLength="31.23" lengthAdjust="spacingAndGlyphs" fill="#000" >27-OHC</text>
<text xml:space="preserve" transform="translate(314.20,248.70) rotate(-90)" x="-0.56" y="0" font-size="8.3" textLength="123.78" lengthAdjust="spacingAndGlyphs" fill="#000">Number of  across the platform</text>
<line x1="350.90" y1="198.20" x2="386.00" y2="198.20" stroke="#eec79a" stroke-width="0.8" />
<line x1="360.10" y1="187.20" x2="377.10" y2="187.20" stroke="#eec79a" stroke-width="0.8" />
<line x1="360.10" y1="208.30" x2="377.10" y2="208.30" stroke="#eec79a" stroke-width="0.8" />
<line x1="368.60" y1="187.20" x2="368.60" y2="208.30" stroke="#eec79a" stroke-width="0.8" />
<ellipse cx="368.6" cy="178.0" rx="2.20" ry="1.90" fill="#e4aa68"/>
<ellipse cx="368.6" cy="188.0" rx="2.20" ry="1.90" fill="#e4aa68"/>
<ellipse cx="356.5" cy="198.2" rx="2.20" ry="1.90" fill="#e4aa68"/>
<ellipse cx="368.6" cy="198.2" rx="2.20" ry="1.90" fill="#e4aa68"/>
<ellipse cx="380.5" cy="198.2" rx="2.20" ry="1.90" fill="#e4aa68"/>
<ellipse cx="356.5" cy="207.8" rx="2.20" ry="1.90" fill="#e4aa68"/>
<ellipse cx="368.6" cy="207.8" rx="2.20" ry="1.90" fill="#e4aa68"/>
<ellipse cx="380.5" cy="207.8" rx="2.20" ry="1.90" fill="#e4aa68"/>
<line x1="404.20" y1="214.40" x2="439.80" y2="214.40" stroke="#7a7aff" stroke-width="0.8" />
<line x1="413.40" y1="203.50" x2="430.40" y2="203.50" stroke="#7a7aff" stroke-width="0.8" />
<line x1="413.40" y1="224.30" x2="430.40" y2="224.30" stroke="#7a7aff" stroke-width="0.8" />
<line x1="421.90" y1="203.50" x2="421.90" y2="224.30" stroke="#7a7aff" stroke-width="0.8" />
<rect x="420.2" y="196.5" width="3.4" height="3.4" fill="#0000ff"/>
<rect x="408.1" y="206.3" width="3.4" height="3.4" fill="#0000ff"/>
<rect x="420.2" y="206.3" width="3.4" height="3.4" fill="#0000ff"/>
<rect x="432.1" y="206.3" width="3.4" height="3.4" fill="#0000ff"/>
<rect x="414.1" y="216.3" width="3.4" height="3.4" fill="#0000ff"/>
<rect x="426.0" y="216.3" width="3.4" height="3.4" fill="#0000ff"/>
<rect x="414.1" y="226.0" width="3.4" height="3.4" fill="#0000ff"/>
<rect x="426.0" y="226.0" width="3.4" height="3.4" fill="#0000ff"/>
<line x1="369.80" y1="164.20" x2="429.20" y2="164.20" stroke="#444" stroke-width="1.1" />
<text x="396.27" y="159.58" font-size="12.5" textLength="4.65" lengthAdjust="spacingAndGlyphs" fill="#000" >*</text>
<line x1="558.50" y1="139.80" x2="558.50" y2="238.10" stroke="#333" stroke-width="1.0" />
<line x1="554.00" y1="237.60" x2="558.50" y2="237.60" stroke="#333" stroke-width="1.0" />
<text x="542.01" y="239.75" font-size="8.0" textLength="11.12" lengthAdjust="spacingAndGlyphs" fill="#000" >0.0</text>
<line x1="554.00" y1="213.15" x2="558.50" y2="213.15" stroke="#333" stroke-width="1.0" />
<text x="541.90" y="215.30" font-size="8.0" textLength="11.12" lengthAdjust="spacingAndGlyphs" fill="#000" >0.5</text>
<line x1="554.00" y1="188.70" x2="558.50" y2="188.70" stroke="#333" stroke-width="1.0" />
<text x="542.01" y="190.85" font-size="8.0" textLength="11.12" lengthAdjust="spacingAndGlyphs" fill="#000" >1.0</text>
<line x1="554.00" y1="164.25" x2="558.50" y2="164.25" stroke="#333" stroke-width="1.0" />
<text x="541.90" y="166.40" font-size="8.0" textLength="11.12" lengthAdjust="spacingAndGlyphs" fill="#000" >1.5</text>
<line x1="554.00" y1="139.80" x2="558.50" y2="139.80" stroke="#333" stroke-width="1.0" />
<text x="542.01" y="141.95" font-size="8.0" textLength="11.12" lengthAdjust="spacingAndGlyphs" fill="#000" >2.0</text>
<line x1="558.50" y1="237.60" x2="684.50" y2="237.60" stroke="#333" stroke-width="1.0" />
<line x1="594.30" y1="237.60" x2="594.30" y2="241.00" stroke="#333" stroke-width="1.0" />
<line x1="647.60" y1="237.60" x2="647.60" y2="241.00" stroke="#333" stroke-width="1.0" />
<text x="583.44" y="250.50" font-size="8.6" textLength="31.39" lengthAdjust="spacingAndGlyphs" fill="#000" >Control</text>
<text x="634.40" y="249.80" font-size="8.6" textLength="31.43" lengthAdjust="spacingAndGlyphs" fill="#000" >27-OHC</text>
<text xml:space="preserve" transform="translate(537.20,225.80) rotate(-90)" x="-0.55" y="0" font-size="9.0" textLength="80.51" lengthAdjust="spacingAndGlyphs" fill="#000">Discrimination index</text>
<line x1="576.10" y1="197.90" x2="611.70" y2="197.90" stroke="#eec79a" stroke-width="0.8" />
<line x1="585.25" y1="191.70" x2="602.75" y2="191.70" stroke="#eec79a" stroke-width="0.8" />
<line x1="585.25" y1="204.90" x2="602.75" y2="204.90" stroke="#eec79a" stroke-width="0.8" />
<line x1="594.00" y1="191.70" x2="594.00" y2="204.90" stroke="#eec79a" stroke-width="0.8" />
<ellipse cx="590.9" cy="188.4" rx="2.20" ry="1.90" fill="#e4aa68"/>
<ellipse cx="596.8" cy="188.4" rx="2.20" ry="1.90" fill="#e4aa68"/>
<ellipse cx="578.8" cy="198.7" rx="2.20" ry="1.90" fill="#e4aa68"/>
<ellipse cx="584.9" cy="200.9" rx="2.20" ry="1.90" fill="#e4aa68"/>
<ellipse cx="596.8" cy="198.7" rx="2.20" ry="1.90" fill="#e4aa68"/>
<ellipse cx="591.3" cy="203.1" rx="2.20" ry="1.90" fill="#e4aa68"/>
<ellipse cx="602.9" cy="203.1" rx="2.20" ry="1.90" fill="#e4aa68"/>
<ellipse cx="609.1" cy="204.4" rx="2.20" ry="1.90" fill="#e4aa68"/>
<line x1="629.90" y1="207.50" x2="665.90" y2="207.50" stroke="#7a7aff" stroke-width="0.8" />
<line x1="639.20" y1="203.10" x2="655.60" y2="203.10" stroke="#7a7aff" stroke-width="0.8" />
<line x1="639.20" y1="211.50" x2="655.60" y2="211.50" stroke="#7a7aff" stroke-width="0.8" />
<line x1="647.40" y1="203.10" x2="647.40" y2="211.50" stroke="#7a7aff" stroke-width="0.8" />
<ellipse cx="647.5" cy="199.4" rx="2.20" ry="1.90" fill="#0000ff"/>
<ellipse cx="647.5" cy="204.9" rx="2.20" ry="1.90" fill="#0000ff"/>
<ellipse cx="656.7" cy="204.9" rx="2.20" ry="1.90" fill="#0000ff"/>
<ellipse cx="634.1" cy="208.6" rx="2.20" ry="1.90" fill="#0000ff"/>
<ellipse cx="638.7" cy="207.5" rx="2.20" ry="1.90" fill="#0000ff"/>
<ellipse cx="643.1" cy="209.3" rx="2.20" ry="1.90" fill="#0000ff"/>
<ellipse cx="651.9" cy="210.8" rx="2.20" ry="1.90" fill="#0000ff"/>
<ellipse cx="661.1" cy="214.1" rx="2.20" ry="1.90" fill="#0000ff"/>
<line x1="594.80" y1="171.30" x2="652.30" y2="171.30" stroke="#111" stroke-width="1.2" />
<text x="618.66" y="163.97" font-size="12.5" textLength="10.65" lengthAdjust="spacingAndGlyphs" fill="#000" >**</text>
<line x1="334.70" y1="309.80" x2="334.70" y2="419.30" stroke="#444" stroke-width="1.0" />
<line x1="329.70" y1="418.80" x2="334.70" y2="418.80" stroke="#444" stroke-width="1.0" />
<text x="315.75" y="421.40" font-size="9.3" textLength="12.93" lengthAdjust="spacingAndGlyphs" fill="#000" >0.0</text>
<line x1="329.70" y1="382.50" x2="334.70" y2="382.50" stroke="#444" stroke-width="1.0" />
<text x="315.63" y="385.10" font-size="9.3" textLength="12.93" lengthAdjust="spacingAndGlyphs" fill="#000" >0.5</text>
<line x1="329.70" y1="346.20" x2="334.70" y2="346.20" stroke="#444" stroke-width="1.0" />
<text x="315.75" y="348.80" font-size="9.3" textLength="12.93" lengthAdjust="spacingAndGlyphs" fill="#000" >1.0</text>
<line x1="329.70" y1="309.90" x2="334.70" y2="309.90" stroke="#444" stroke-width="1.0" />
<text x="315.63" y="312.50" font-size="9.3" textLength="12.93" lengthAdjust="spacingAndGlyphs" fill="#000" >1.5</text>
<line x1="334.70" y1="418.80" x2="458.40" y2="418.80" stroke="#444" stroke-width="1.0" />
<line x1="369.60" y1="418.80" x2="369.60" y2="422.40" stroke="#444" stroke-width="1.0" />
<line x1="422.40" y1="418.80" x2="422.40" y2="422.40" stroke="#444" stroke-width="1.0" />
<text x="356.22" y="432.00" font-size="8.8" textLength="32.83" lengthAdjust="spacingAndGlyphs" fill="#000" >Control</text>
<text x="406.58" y="432.00" font-size="8.8" textLength="33.77" lengthAdjust="spacingAndGlyphs" fill="#000" >27-OHC</text>
<text xml:space="preserve" transform="translate(308.40,412.80) rotate(-90)" x="-0.61" y="0" font-size="9.1" textLength="100.27" lengthAdjust="spacingAndGlyphs" fill="#000">Preference index(S1-E)</text>
<line x1="352.30" y1="358.50" x2="387.10" y2="358.50" stroke="#eec79a" stroke-width="0.8" />
<line x1="361.60" y1="353.30" x2="378.00" y2="353.30" stroke="#eec79a" stroke-width="0.8" />
<line x1="361.60" y1="363.70" x2="378.00" y2="363.70" stroke="#eec79a" stroke-width="0.8" />
<line x1="369.80" y1="353.30" x2="369.80" y2="363.70" stroke="#eec79a" stroke-width="0.8" />
<ellipse cx="365.3" cy="351.6" rx="2.10" ry="1.80" fill="#e4aa68"/>
<ellipse cx="373.9" cy="353.3" rx="2.10" ry="1.80" fill="#e4aa68"/>
<ellipse cx="382.8" cy="355.9" rx="2.10" ry="1.80" fill="#e4aa68"/>
<ellipse cx="356.3" cy="359.4" rx="2.10" ry="1.80" fill="#e4aa68"/>
<ellipse cx="365.3" cy="359.9" rx="2.10" ry="1.80" fill="#e4aa68"/>
<ellipse cx="373.9" cy="359.9" rx="2.10" ry="1.80" fill="#e4aa68"/>
<ellipse cx="365.3" cy="364.6" rx="2.10" ry="1.80" fill="#e4aa68"/>
<ellipse cx="373.9" cy="365.5" rx="2.10" ry="1.80" fill="#e4aa68"/>
<line x1="404.80" y1="371.50" x2="440.00" y2="371.50" stroke="#7a7aff" stroke-width="0.8" />
<line x1="414.25" y1="366.30" x2="430.75" y2="366.30" stroke="#7a7aff" stroke-width="0.8" />
<line x1="414.25" y1="377.20" x2="430.75" y2="377.20" stroke="#7a7aff" stroke-width="0.8" />
<line x1="422.50" y1="366.30" x2="422.50" y2="377.20" stroke="#7a7aff" stroke-width="0.8" />
<ellipse cx="418.1" cy="364.2" rx="2.10" ry="1.80" fill="#0000ff"/>
<ellipse cx="427.0" cy="365.5" rx="2.10" ry="1.80" fill="#0000ff"/>
<ellipse cx="409.1" cy="371.5" rx="2.10" ry="1.80" fill="#0000ff"/>
<ellipse cx="418.1" cy="372.0" rx="2.10" ry="1.80" fill="#0000ff"/>
<ellipse cx="435.6" cy="371.0" rx="2.10" ry="1.80" fill="#0000ff"/>
<ellipse cx="418.1" cy="375.5" rx="2.10" ry="1.80" fill="#0000ff"/>
<ellipse cx="427.0" cy="374.5" rx="2.10" ry="1.80" fill="#0000ff"/>
<ellipse cx="427.0" cy="380.2" rx="2.10" ry="1.80" fill="#0000ff"/>
<line x1="367.00" y1="332.20" x2="425.90" y2="332.20" stroke="#666" stroke-width="1.1" />
<text x="394.17" y="329.27" font-size="12.5" textLength="4.65" lengthAdjust="spacingAndGlyphs" fill="#000" >*</text>
<line x1="556.30" y1="308.00" x2="556.30" y2="418.80" stroke="#444" stroke-width="1.0" />
<line x1="551.30" y1="418.30" x2="556.30" y2="418.30" stroke="#444" stroke-width="1.0" />
<text x="539.24" y="420.52" font-size="8.2" textLength="11.40" lengthAdjust="spacingAndGlyphs" fill="#000" >0.0</text>
<line x1="551.30" y1="381.55" x2="556.30" y2="381.55" stroke="#444" stroke-width="1.0" />
<text x="539.13" y="383.77" font-size="8.2" textLength="11.40" lengthAdjust="spacingAndGlyphs" fill="#000" >0.5</text>
<line x1="551.30" y1="344.80" x2="556.30" y2="344.80" stroke="#444" stroke-width="1.0" />
<text x="539.24" y="347.02" font-size="8.2" textLength="11.40" lengthAdjust="spacingAndGlyphs" fill="#000" >1.0</text>
<line x1="551.30" y1="308.05" x2="556.30" y2="308.05" stroke="#444" stroke-width="1.0" />
<text x="539.13" y="310.27" font-size="8.2" textLength="11.40" lengthAdjust="spacingAndGlyphs" fill="#000" >1.5</text>
<line x1="556.30" y1="418.30" x2="684.50" y2="418.30" stroke="#444" stroke-width="1.0" />
<line x1="592.40" y1="418.30" x2="592.40" y2="422.50" stroke="#444" stroke-width="1.0" />
<line x1="647.00" y1="418.30" x2="647.00" y2="422.50" stroke="#444" stroke-width="1.0" />
<text x="580.76" y="432.00" font-size="8.0" textLength="29.12" lengthAdjust="spacingAndGlyphs" fill="#000" >Control</text>
<text x="632.82" y="432.00" font-size="8.0" textLength="29.60" lengthAdjust="spacingAndGlyphs" fill="#000" >27-OHC</text>
<text xml:space="preserve" transform="translate(533.80,414.80) rotate(-90)" x="-0.62" y="0" font-size="9.0" textLength="106.08" lengthAdjust="spacingAndGlyphs" fill="#000">Preference index(S1-S2)</text>
<line x1="574.50" y1="358.60" x2="610.40" y2="358.60" stroke="#eec79a" stroke-width="0.8" />
<line x1="583.70" y1="346.50" x2="601.50" y2="346.50" stroke="#eec79a" stroke-width="0.8" />
<line x1="583.70" y1="370.40" x2="601.50" y2="370.40" stroke="#eec79a" stroke-width="0.8" />
<line x1="592.60" y1="346.50" x2="592.60" y2="370.40" stroke="#eec79a" stroke-width="0.8" />
<ellipse cx="588.3" cy="351.3" rx="2.10" ry="1.80" fill="#e4aa68"/>
<ellipse cx="588.3" cy="352.6" rx="2.10" ry="1.80" fill="#e4aa68"/>
<ellipse cx="592.6" cy="350.5" rx="2.10" ry="1.80" fill="#e4aa68"/>
<ellipse cx="596.7" cy="351.3" rx="2.10" ry="1.80" fill="#e4aa68"/>
<ellipse cx="592.6" cy="357.0" rx="2.10" ry="1.80" fill="#e4aa68"/>
<ellipse cx="596.7" cy="357.0" rx="2.10" ry="1.80" fill="#e4aa68"/>
<ellipse cx="592.6" cy="363.9" rx="2.10" ry="1.80" fill="#e4aa68"/>
<ellipse cx="592.6" cy="386.4" rx="2.10" ry="1.80" fill="#e4aa68"/>
<line x1="629.00" y1="387.30" x2="664.80" y2="387.30" stroke="#7a7aff" stroke-width="0.8" />
<line x1="638.15" y1="379.30" x2="655.85" y2="379.30" stroke="#7a7aff" stroke-width="0.8" />
<line x1="638.15" y1="395.40" x2="655.85" y2="395.40" stroke="#7a7aff" stroke-width="0.8" />
<line x1="647.00" y1="379.30" x2="647.00" y2="395.40" stroke="#7a7aff" stroke-width="0.8" />
<ellipse cx="647.0" cy="377.5" rx="2.10" ry="1.80" fill="#0000ff"/>
<ellipse cx="633.5" cy="384.1" rx="2.10" ry="1.80" fill="#0000ff"/>
<ellipse cx="642.4" cy="384.7" rx="2.10" ry="1.80" fill="#0000ff"/>
<ellipse cx="651.6" cy="383.3" rx="2.10" ry="1.80" fill="#0000ff"/>
<ellipse cx="660.5" cy="381.7" rx="2.10" ry="1.80" fill="#0000ff"/>
<ellipse cx="647.0" cy="390.6" rx="2.10" ry="1.80" fill="#0000ff"/>
<ellipse cx="642.4" cy="397.4" rx="2.10" ry="1.80" fill="#0000ff"/>
<ellipse cx="651.6" cy="400.6" rx="2.10" ry="1.80" fill="#0000ff"/>
<line x1="595.90" y1="334.10" x2="648.70" y2="334.10" stroke="#444" stroke-width="1.1" />
<text x="614.97" y="328.17" font-size="12.5" textLength="13.85" lengthAdjust="spacingAndGlyphs" fill="#000" >***</text>
<defs><filter id="hblur" x="-10%" y="-10%" width="120%" height="120%"><feGaussianBlur stdDeviation="0.5"/></filter>
<filter id="tblur" x="-10%" y="-10%" width="120%" height="120%"><feGaussianBlur stdDeviation="0.6"/></filter>
<radialGradient id="hh"><stop offset="0" stop-color="#40a0ff" stop-opacity="0.45"/><stop offset="1" stop-color="#40a0ff" stop-opacity="0"/></radialGradient>
<radialGradient id="hd"><stop offset="0" stop-color="#50c0ff" stop-opacity="0.9"/><stop offset="0.5" stop-color="#3080ff" stop-opacity="0.5"/><stop offset="1" stop-color="#2040ff" stop-opacity="0"/></radialGradient>
<radialGradient id="hc"><stop offset="0" stop-color="#68e0ff"/><stop offset="0.35" stop-color="#40a8ff" stop-opacity="0.9"/><stop offset="0.7" stop-color="#2060ff" stop-opacity="0.5"/><stop offset="1" stop-color="#1030ff" stop-opacity="0"/></radialGradient>
<radialGradient id="hg"><stop offset="0" stop-color="#70ff30"/><stop offset="0.25" stop-color="#40f0a0"/><stop offset="0.55" stop-color="#30b0ff" stop-opacity="0.8"/><stop offset="1" stop-color="#1030ff" stop-opacity="0"/></radialGradient>
<radialGradient id="hy"><stop offset="0" stop-color="#ffff30"/><stop offset="0.25" stop-color="#a0ff30"/><stop offset="0.5" stop-color="#30e0c0" stop-opacity="0.9"/><stop offset="0.75" stop-color="#2090ff" stop-opacity="0.6"/><stop offset="1" stop-color="#1030ff" stop-opacity="0"/></radialGradient>
<radialGradient id="hr"><stop offset="0" stop-color="#d01010"/><stop offset="0.2" stop-color="#ff8020"/><stop offset="0.4" stop-color="#d0f030"/><stop offset="0.6" stop-color="#30d0d0" stop-opacity="0.9"/><stop offset="0.8" stop-color="#2080ff" stop-opacity="0.6"/><stop offset="1" stop-color="#1030ff" stop-opacity="0"/></radialGradient></defs>
<rect x="31.0" y="286.5" width="82.1" height="67.30000000000001" fill="#0505fa"/>
<g filter="url(#tblur)">
<circle cx="40.4" cy="302.5" r="4.5" fill="url(#hh)"/>
<circle cx="42.8" cy="301.7" r="4.5" fill="url(#hh)"/>
<circle cx="53.8" cy="298.6" r="4.5" fill="url(#hh)"/>
<circle cx="55.4" cy="303.3" r="4.5" fill="url(#hh)"/>
<circle cx="54.6" cy="307.2" r="4.5" fill="url(#hh)"/>
<circle cx="46.7" cy="312.7" r="4.5" fill="url(#hh)"/>
<circle cx="55.4" cy="312.7" r="4.5" fill="url(#hh)"/>
<circle cx="57" cy="319.8" r="4.5" fill="url(#hh)"/>
<circle cx="57" cy="325.3" r="5.0" fill="url(#hh)"/>
<circle cx="40.4" cy="326.9" r="4.5" fill="url(#hh)"/>
<circle cx="40.4" cy="331.6" r="5.0" fill="url(#hh)"/>
<circle cx="38.9" cy="333.2" r="4.5" fill="url(#hh)"/>
<circle cx="53" cy="337.9" r="4.5" fill="url(#hh)"/>
<circle cx="53" cy="343.4" r="5.0" fill="url(#hh)"/>
<circle cx="55.4" cy="346.6" r="5.5" fill="url(#hh)"/>
<circle cx="51.4" cy="348.9" r="5.0" fill="url(#hh)"/>
<circle cx="54.6" cy="333.2" r="4.5" fill="url(#hh)"/>
<circle cx="65.8" cy="297.8" r="5.0" fill="url(#hh)"/>
<circle cx="64.3" cy="301.7" r="4.5" fill="url(#hh)"/>
<circle cx="63.5" cy="309.5" r="4.5" fill="url(#hh)"/>
<circle cx="78.4" cy="299.8" r="4.5" fill="url(#hh)"/>
<circle cx="80" cy="309.5" r="4.5" fill="url(#hh)"/>
<circle cx="77.6" cy="315.8" r="4.5" fill="url(#hh)"/>
<circle cx="64.3" cy="319" r="4.5" fill="url(#hh)"/>
<circle cx="62.7" cy="323.6" r="4.5" fill="url(#hh)"/>
<circle cx="81.5" cy="321.3" r="5.5" fill="url(#hh)"/>
<circle cx="83.1" cy="322.9" r="5.0" fill="url(#hh)"/>
<circle cx="78.4" cy="331.5" r="4.5" fill="url(#hh)"/>
<circle cx="65" cy="342.5" r="4.5" fill="url(#hh)"/>
<circle cx="66.6" cy="345.6" r="5.0" fill="url(#hh)"/>
<circle cx="90.9" cy="300.9" r="6.0" fill="url(#hh)"/>
<circle cx="90.2" cy="303.3" r="5.0" fill="url(#hh)"/>
<circle cx="90.9" cy="306.4" r="5.0" fill="url(#hh)"/>
<circle cx="90.9" cy="311.1" r="5.0" fill="url(#hh)"/>
<circle cx="93.3" cy="313.5" r="5.0" fill="url(#hh)"/>
<circle cx="95.6" cy="315" r="4.5" fill="url(#hh)"/>
<circle cx="97.2" cy="316.6" r="4.5" fill="url(#hh)"/>
<circle cx="103.5" cy="313.5" r="5.0" fill="url(#hh)"/>
<circle cx="105.8" cy="313.5" r="6.0" fill="url(#hh)"/>
<circle cx="105.1" cy="315.8" r="5.5" fill="url(#hh)"/>
<circle cx="101.9" cy="317.4" r="5.0" fill="url(#hh)"/>
<circle cx="90.9" cy="321.3" r="4.5" fill="url(#hh)"/>
<circle cx="103.5" cy="322.1" r="4.5" fill="url(#hh)"/>
<circle cx="91.7" cy="336.2" r="4.5" fill="url(#hh)"/>
<circle cx="105.1" cy="339.3" r="4.5" fill="url(#hh)"/>
<circle cx="90.5" cy="308.5" r="5.0" fill="url(#hh)"/>
<circle cx="92" cy="312.5" r="5.0" fill="url(#hh)"/>
<circle cx="99.5" cy="317" r="4.5" fill="url(#hh)"/>
<circle cx="104.5" cy="311.5" r="5.0" fill="url(#hh)"/>
<circle cx="106" cy="318" r="5.0" fill="url(#hh)"/>
<circle cx="88.5" cy="316" r="4.5" fill="url(#hh)"/>
<circle cx="90.9" cy="345.6" r="4.5" fill="url(#hh)"/>
<circle cx="97.2" cy="346.4" r="4.5" fill="url(#hh)"/>
<circle cx="105.1" cy="344" r="4.5" fill="url(#hh)"/>
<circle cx="59" cy="320" r="4.5" fill="url(#hh)"/>
<circle cx="86" cy="322" r="4.5" fill="url(#hh)"/>
<polyline points="40.9,303.0 43.2,304.0 45.6,306.0 47.9,307.0 50.6,309.0 52.9,310.2 55.0,312.0 55.1,314.9 56.4,318.2 57.1,319.9 57.4,322.6 57.3,324.9 54.7,326.7 52.6,327.7 49.6,329.2 46.8,330.1 43.7,331.1 40.4,331.6" fill="none" stroke="#58b8ff" stroke-width="0.9" stroke-opacity="0.16" stroke-linejoin="round"/>
<polyline points="40.4,302.6 43.4,303.9 45.9,305.8 48.9,307.5 50.7,309.2 52.7,310.0 55.3,311.9 55.9,314.2 56.2,317.8 57.5,319.5 56.5,322.5 57.3,325.1 54.8,326.0 52.5,328.1 49.8,328.5 46.5,330.1 43.0,330.7 40.4,331.6" fill="none" stroke="#58b8ff" stroke-width="0.9" stroke-opacity="0.16" stroke-linejoin="round"/>
<polyline points="56.7,325.0 58.4,323.5 60.5,322.1 62.5,321.0 63.8,320.1 66.0,319.0 70.1,317.6 72.8,317.1 74.5,316.6 77.7,315.8 79.7,319.1 81.5,321.3 83.9,321.0 86.4,321.6 89.2,319.6 91.7,317.9 94.5,316.7 95.6,315.0" fill="none" stroke="#58b8ff" stroke-width="0.9" stroke-opacity="0.16" stroke-linejoin="round"/>
<polyline points="56.8,324.9 58.1,323.5 59.8,322.3 61.5,320.9 63.7,319.7 67.2,319.0 70.2,318.4 73.1,316.9 75.5,316.1 78.0,316.7 79.7,318.5 81.6,321.3 83.8,321.4 86.4,322.3 88.9,320.1 92.2,318.4 93.9,316.7 95.6,315.0" fill="none" stroke="#58b8ff" stroke-width="0.9" stroke-opacity="0.16" stroke-linejoin="round"/>
<polyline points="52.9,337.5 53.6,335.9 54.9,333.3 55.2,330.6 56.8,328.2 57.0,325.0" fill="none" stroke="#58b8ff" stroke-width="0.9" stroke-opacity="0.16" stroke-linejoin="round"/>
<polyline points="52.8,337.9 53.3,335.2 54.7,333.2 55.7,330.9 56.5,328.2 57.0,325.0" fill="none" stroke="#58b8ff" stroke-width="0.9" stroke-opacity="0.16" stroke-linejoin="round"/>
<polyline points="64.1,301.3 64.2,305.2 63.9,306.5 63.6,310.0 63.4,312.9 63.8,316.3 64.6,319.1 64.2,321.2 62.5,324.2 63.0,327.2 63.8,328.9 64.4,332.2 65.1,334.9 65.4,336.7 64.8,339.9 65.0,342.5" fill="none" stroke="#58b8ff" stroke-width="0.9" stroke-opacity="0.16" stroke-linejoin="round"/>
<polyline points="64.9,301.0 63.9,303.9 63.5,307.1 63.6,310.0 63.6,312.8 64.4,316.1 64.2,319.4 63.2,321.9 62.8,323.6 63.4,326.7 64.5,329.3 64.3,332.4 64.7,334.4 65.3,337.4 65.4,339.6 65.0,342.5" fill="none" stroke="#58b8ff" stroke-width="0.9" stroke-opacity="0.16" stroke-linejoin="round"/>
<polyline points="77.4,299.9 79.0,303.6 79.7,306.4 80.2,309.4 78.8,312.2 77.8,315.5 79.4,318.8 81.8,320.9 81.4,323.6 80.2,326.7 79.3,329.0 79.0,331.8 77.1,333.0 75.2,336.2 74.1,337.7 71.9,339.8 70.5,341.9 68.8,343.4 66.6,345.6" fill="none" stroke="#58b8ff" stroke-width="0.9" stroke-opacity="0.16" stroke-linejoin="round"/>
<polyline points="78.7,299.6 78.8,303.6 79.5,306.2 79.9,309.4 79.3,313.1 77.9,315.9 79.9,318.5 81.7,321.4 80.8,324.4 80.6,326.9 78.5,329.6 78.6,331.3 76.9,334.1 75.9,336.1 74.0,338.0 72.4,339.9 70.0,341.6 68.4,343.8 66.6,345.6" fill="none" stroke="#58b8ff" stroke-width="0.9" stroke-opacity="0.16" stroke-linejoin="round"/>
<polyline points="91.0,302.8 90.6,305.9 90.8,309.0 91.3,311.0 91.9,311.8 93.3,313.9 96.1,315.0 99.3,316.2 102.3,317.4 102.4,319.3 103.8,322.0 103.6,325.0 103.6,328.0 104.2,329.8 104.1,333.5 104.3,336.0 105.1,339.3" fill="none" stroke="#58b8ff" stroke-width="0.9" stroke-opacity="0.16" stroke-linejoin="round"/>
<polyline points="90.2,303.4 90.4,306.0 90.5,308.5 91.3,311.3 91.9,312.9 92.6,313.5 96.4,315.1 99.1,316.0 102.1,317.3 102.9,318.8 103.6,321.8 104.0,325.0 104.1,327.2 104.2,329.9 104.4,333.1 104.4,336.9 105.1,339.3" fill="none" stroke="#58b8ff" stroke-width="0.9" stroke-opacity="0.16" stroke-linejoin="round"/>
<polyline points="91.2,320.6 91.4,323.8 91.1,327.1 91.2,330.3 91.4,332.7 91.7,336.3 92.1,339.2 90.8,342.3 90.9,345.6" fill="none" stroke="#58b8ff" stroke-width="0.9" stroke-opacity="0.16" stroke-linejoin="round"/>
<polyline points="91.1,321.0 90.8,324.5 91.2,327.3 91.2,330.0 91.4,333.2 91.6,336.4 91.6,339.5 91.3,342.2 90.9,345.6" fill="none" stroke="#58b8ff" stroke-width="0.9" stroke-opacity="0.16" stroke-linejoin="round"/>
<polyline points="53.4,298.9 54.6,301.0 55.0,303.2 54.8,304.9 54.6,307.2" fill="none" stroke="#58b8ff" stroke-width="0.9" stroke-opacity="0.16" stroke-linejoin="round"/>
<polyline points="53.6,298.1 54.6,301.4 55.2,303.3 54.6,305.5 54.6,307.2" fill="none" stroke="#58b8ff" stroke-width="0.9" stroke-opacity="0.16" stroke-linejoin="round"/>
<circle cx="43.3" cy="303.6" r="1.5" fill="url(#hd)"/>
<circle cx="46.7" cy="306.3" r="1.7" fill="url(#hd)"/>
<circle cx="48.4" cy="306.8" r="1.5" fill="url(#hd)"/>
<circle cx="52.4" cy="311.8" r="1.6" fill="url(#hd)"/>
<circle cx="57.2" cy="313.3" r="1.4" fill="url(#hd)"/>
<circle cx="56.6" cy="319.0" r="1.4" fill="url(#hd)"/>
<circle cx="56.5" cy="319.0" r="1.2" fill="url(#hd)"/>
<circle cx="56.5" cy="325.0" r="1.8" fill="url(#hd)"/>
<circle cx="50.6" cy="327.9" r="1.7" fill="url(#hd)"/>
<circle cx="49.8" cy="327.6" r="1.5" fill="url(#hd)"/>
<circle cx="42.1" cy="331.3" r="1.8" fill="url(#hd)"/>
<circle cx="58.3" cy="323.5" r="1.2" fill="url(#hd)"/>
<circle cx="62.8" cy="320.7" r="1.4" fill="url(#hd)"/>
<circle cx="64.2" cy="320.5" r="1.6" fill="url(#hd)"/>
<circle cx="68.0" cy="319.6" r="0.9" fill="url(#hd)"/>
<circle cx="72.0" cy="317.1" r="1.2" fill="url(#hd)"/>
<circle cx="76.8" cy="317.3" r="1.1" fill="url(#hd)"/>
<circle cx="80.1" cy="316.0" r="1.4" fill="url(#hd)"/>
<circle cx="84.2" cy="320.7" r="1.2" fill="url(#hd)"/>
<circle cx="86.4" cy="321.4" r="1.6" fill="url(#hd)"/>
<circle cx="92.1" cy="318.5" r="1.8" fill="url(#hd)"/>
<circle cx="92.5" cy="316.7" r="1.4" fill="url(#hd)"/>
<circle cx="54.4" cy="336.4" r="1.3" fill="url(#hd)"/>
<circle cx="55.2" cy="330.9" r="1.3" fill="url(#hd)"/>
<circle cx="56.2" cy="326.9" r="0.9" fill="url(#hd)"/>
<circle cx="65.2" cy="302.5" r="1.4" fill="url(#hd)"/>
<circle cx="64.0" cy="310.2" r="1.6" fill="url(#hd)"/>
<circle cx="64.0" cy="318.3" r="1.5" fill="url(#hd)"/>
<circle cx="64.7" cy="320.0" r="1.3" fill="url(#hd)"/>
<circle cx="62.1" cy="325.5" r="1.7" fill="url(#hd)"/>
<circle cx="63.1" cy="332.2" r="1.5" fill="url(#hd)"/>
<circle cx="64.1" cy="337.5" r="1.5" fill="url(#hd)"/>
<circle cx="79.6" cy="301.0" r="1.6" fill="url(#hd)"/>
<circle cx="79.3" cy="308.2" r="1.5" fill="url(#hd)"/>
<circle cx="80.3" cy="312.3" r="1.3" fill="url(#hd)"/>
<circle cx="76.4" cy="315.8" r="1.3" fill="url(#hd)"/>
<circle cx="80.3" cy="319.6" r="1.4" fill="url(#hd)"/>
<circle cx="79.9" cy="324.0" r="1.4" fill="url(#hd)"/>
<circle cx="80.1" cy="328.9" r="1.1" fill="url(#hd)"/>
<circle cx="79.0" cy="330.1" r="1.2" fill="url(#hd)"/>
<circle cx="77.7" cy="334.3" r="1.5" fill="url(#hd)"/>
<circle cx="73.0" cy="338.2" r="1.4" fill="url(#hd)"/>
<circle cx="71.0" cy="340.0" r="1.2" fill="url(#hd)"/>
<circle cx="68.8" cy="344.3" r="1.7" fill="url(#hd)"/>
<circle cx="89.9" cy="305.5" r="1.3" fill="url(#hd)"/>
<circle cx="93.0" cy="313.8" r="1.0" fill="url(#hd)"/>
<circle cx="95.6" cy="313.4" r="1.4" fill="url(#hd)"/>
<circle cx="98.1" cy="315.8" r="1.0" fill="url(#hd)"/>
<circle cx="102.3" cy="317.8" r="1.5" fill="url(#hd)"/>
<circle cx="104.2" cy="323.5" r="1.3" fill="url(#hd)"/>
<circle cx="103.9" cy="327.1" r="1.4" fill="url(#hd)"/>
<circle cx="105.3" cy="330.9" r="1.6" fill="url(#hd)"/>
<circle cx="104.3" cy="337.0" r="1.7" fill="url(#hd)"/>
<circle cx="91.7" cy="323.8" r="1.3" fill="url(#hd)"/>
<circle cx="91.6" cy="328.7" r="1.6" fill="url(#hd)"/>
<circle cx="91.1" cy="333.0" r="1.5" fill="url(#hd)"/>
<circle cx="93.7" cy="336.6" r="0.9" fill="url(#hd)"/>
<circle cx="91.5" cy="343.7" r="1.2" fill="url(#hd)"/>
<circle cx="53.4" cy="302.2" r="1.6" fill="url(#hd)"/>
<circle cx="55.3" cy="306.0" r="1.5" fill="url(#hd)"/>
</g>
<g filter="url(#hblur)">
<circle cx="40.4" cy="302.5" r="2.6" fill="url(#hc)"/>
<circle cx="42.8" cy="301.7" r="2.6" fill="url(#hc)"/>
<circle cx="53.8" cy="298.6" r="2.6" fill="url(#hc)"/>
<circle cx="55.4" cy="303.3" r="2.6" fill="url(#hc)"/>
<circle cx="54.6" cy="307.2" r="2.6" fill="url(#hc)"/>
<circle cx="46.7" cy="312.7" r="1.5" fill="url(#hc)"/>
<circle cx="55.4" cy="312.7" r="2.6" fill="url(#hc)"/>
<circle cx="57" cy="319.8" r="2.6" fill="url(#hc)"/>
<circle cx="40.4" cy="326.9" r="2.6" fill="url(#hc)"/>
<circle cx="38.9" cy="333.2" r="2.6" fill="url(#hc)"/>
<circle cx="53" cy="337.9" r="2.6" fill="url(#hc)"/>
<circle cx="54.6" cy="333.2" r="2.6" fill="url(#hc)"/>
<circle cx="64.3" cy="301.7" r="2.6" fill="url(#hc)"/>
<circle cx="63.5" cy="309.5" r="2.6" fill="url(#hc)"/>
<circle cx="78.4" cy="299.8" r="2.6" fill="url(#hc)"/>
<circle cx="80" cy="309.5" r="2.6" fill="url(#hc)"/>
<circle cx="77.6" cy="315.8" r="2.6" fill="url(#hc)"/>
<circle cx="64.3" cy="319" r="2.6" fill="url(#hc)"/>
<circle cx="62.7" cy="323.6" r="2.6" fill="url(#hc)"/>
<circle cx="78.4" cy="331.5" r="2.6" fill="url(#hc)"/>
<circle cx="65" cy="342.5" r="2.6" fill="url(#hc)"/>
<circle cx="95.6" cy="315" r="2.6" fill="url(#hc)"/>
<circle cx="97.2" cy="316.6" r="2.6" fill="url(#hc)"/>
<circle cx="90.9" cy="321.3" r="2.6" fill="url(#hc)"/>
<circle cx="103.5" cy="322.1" r="2.6" fill="url(#hc)"/>
<circle cx="91.7" cy="336.2" r="2.6" fill="url(#hc)"/>
<circle cx="105.1" cy="339.3" r="2.6" fill="url(#hc)"/>
<circle cx="99.5" cy="317" r="2.6" fill="url(#hc)"/>
<circle cx="88.5" cy="316" r="2.6" fill="url(#hc)"/>
<circle cx="90.9" cy="345.6" r="2.6" fill="url(#hc)"/>
<circle cx="97.2" cy="346.4" r="2.6" fill="url(#hc)"/>
<circle cx="105.1" cy="344" r="2.6" fill="url(#hc)"/>
<circle cx="59" cy="320" r="2.6" fill="url(#hc)"/>
<circle cx="86" cy="322" r="2.6" fill="url(#hc)"/>
<circle cx="57" cy="325.3" r="3.1" fill="url(#hg)"/>
<circle cx="40.4" cy="331.6" r="3.1" fill="url(#hg)"/>
<circle cx="53" cy="343.4" r="3.1" fill="url(#hg)"/>
<circle cx="51.4" cy="348.9" r="3.1" fill="url(#hg)"/>
<circle cx="65.8" cy="297.8" r="3.1" fill="url(#hg)"/>
<circle cx="83.1" cy="322.9" r="3.1" fill="url(#hg)"/>
<circle cx="66.6" cy="345.6" r="3.1" fill="url(#hg)"/>
<circle cx="90.2" cy="303.3" r="3.1" fill="url(#hg)"/>
<circle cx="90.9" cy="306.4" r="3.1" fill="url(#hg)"/>
<circle cx="90.9" cy="311.1" r="3.1" fill="url(#hg)"/>
<circle cx="93.3" cy="313.5" r="3.1" fill="url(#hg)"/>
<circle cx="103.5" cy="313.5" r="3.1" fill="url(#hg)"/>
<circle cx="101.9" cy="317.4" r="3.1" fill="url(#hg)"/>
<circle cx="90.5" cy="308.5" r="3.1" fill="url(#hg)"/>
<circle cx="92" cy="312.5" r="3.1" fill="url(#hg)"/>
<circle cx="104.5" cy="311.5" r="3.1" fill="url(#hg)"/>
<circle cx="106" cy="318" r="3.1" fill="url(#hg)"/>
<circle cx="55.4" cy="346.6" r="3.5" fill="url(#hy)"/>
<circle cx="81.5" cy="321.3" r="3.5" fill="url(#hy)"/>
<circle cx="105.1" cy="315.8" r="3.5" fill="url(#hy)"/>
<circle cx="90.9" cy="300.9" r="4.0" fill="url(#hr)"/>
<circle cx="105.8" cy="313.5" r="4.0" fill="url(#hr)"/>
</g>
<rect x="34.3" y="294.3" width="76.10000000000001" height="57.5" fill="none" stroke="#a0a0ff" stroke-width="0.8"/>
<line x1="60.40" y1="294.30" x2="60.40" y2="351.80" stroke="#a0a0ff" stroke-width="0.8" />
<line x1="85.80" y1="294.30" x2="85.80" y2="351.80" stroke="#a0a0ff" stroke-width="0.8" />
<circle cx="44.4" cy="342.2" r="6.9" fill="none" stroke="#fff" stroke-width="0.6"/>
<circle cx="100.8" cy="303.9" r="6.9" fill="none" stroke="#fff" stroke-width="0.6"/>
<text x="39.77" y="293.00" font-size="6.0" textLength="14.85" lengthAdjust="spacingAndGlyphs" fill="#fff" >Empty</text>
<text x="86.86" y="293.00" font-size="6.0" textLength="22.57" lengthAdjust="spacingAndGlyphs" fill="#fff" >Stranger1</text>
<text x="64.59" y="351.20" font-size="6.0" textLength="18.58" lengthAdjust="spacingAndGlyphs" fill="#fff" >Control</text>
<rect x="31.0" y="362.1" width="82.4" height="67.69999999999999" fill="#0505fa"/>
<g filter="url(#tblur)">
<circle cx="39.7" cy="378.5" r="5.0" fill="url(#hh)"/>
<circle cx="42.8" cy="377.7" r="4.5" fill="url(#hh)"/>
<circle cx="45.9" cy="376.9" r="4.5" fill="url(#hh)"/>
<circle cx="47.5" cy="378.5" r="4.5" fill="url(#hh)"/>
<circle cx="53" cy="376.9" r="5.0" fill="url(#hh)"/>
<circle cx="48.3" cy="382.4" r="4.5" fill="url(#hh)"/>
<circle cx="42.8" cy="386.4" r="4.5" fill="url(#hh)"/>
<circle cx="53" cy="384" r="4.5" fill="url(#hh)"/>
<circle cx="53" cy="397.4" r="4.5" fill="url(#hh)"/>
<circle cx="53.8" cy="399.8" r="4.5" fill="url(#hh)"/>
<circle cx="41.2" cy="401.3" r="4.5" fill="url(#hh)"/>
<circle cx="44.4" cy="404.5" r="4.5" fill="url(#hh)"/>
<circle cx="40.4" cy="403.7" r="5.0" fill="url(#hh)"/>
<circle cx="48.3" cy="409.2" r="5.5" fill="url(#hh)"/>
<circle cx="45.2" cy="409.2" r="4.5" fill="url(#hh)"/>
<circle cx="49.9" cy="412.3" r="4.5" fill="url(#hh)"/>
<circle cx="51.4" cy="415.5" r="5.5" fill="url(#hh)"/>
<circle cx="51.4" cy="419.4" r="6.0" fill="url(#hh)"/>
<circle cx="50" cy="417" r="5.5" fill="url(#hh)"/>
<circle cx="52.5" cy="412.5" r="5.0" fill="url(#hh)"/>
<circle cx="49.5" cy="422.5" r="5.0" fill="url(#hh)"/>
<circle cx="52" cy="421.5" r="6.0" fill="url(#hh)"/>
<circle cx="51" cy="424" r="5.5" fill="url(#hh)"/>
<circle cx="52.5" cy="426" r="5.0" fill="url(#hh)"/>
<circle cx="50.5" cy="410.5" r="5.0" fill="url(#hh)"/>
<circle cx="52.2" cy="421.8" r="5.5" fill="url(#hh)"/>
<circle cx="50.7" cy="424.1" r="5.0" fill="url(#hh)"/>
<circle cx="60.1" cy="399" r="5.0" fill="url(#hh)"/>
<circle cx="76.8" cy="377.7" r="4.5" fill="url(#hh)"/>
<circle cx="77.6" cy="391" r="4.5" fill="url(#hh)"/>
<circle cx="80.7" cy="398.1" r="5.0" fill="url(#hh)"/>
<circle cx="80" cy="400.4" r="5.5" fill="url(#hh)"/>
<circle cx="78.5" cy="396" r="5.0" fill="url(#hh)"/>
<circle cx="81.5" cy="402.5" r="5.0" fill="url(#hh)"/>
<circle cx="73.7" cy="395.7" r="4.5" fill="url(#hh)"/>
<circle cx="72.9" cy="403.6" r="4.5" fill="url(#hh)"/>
<circle cx="75.3" cy="402" r="4.5" fill="url(#hh)"/>
<circle cx="61.1" cy="398.9" r="5.0" fill="url(#hh)"/>
<circle cx="64.3" cy="418.5" r="5.0" fill="url(#hh)"/>
<circle cx="65.8" cy="417.7" r="5.5" fill="url(#hh)"/>
<circle cx="63" cy="421" r="5.0" fill="url(#hh)"/>
<circle cx="66.5" cy="420.5" r="5.0" fill="url(#hh)"/>
<circle cx="63.5" cy="416" r="4.5" fill="url(#hh)"/>
<circle cx="78.4" cy="409.1" r="4.5" fill="url(#hh)"/>
<circle cx="80" cy="424" r="6.0" fill="url(#hh)"/>
<circle cx="90.2" cy="376.1" r="5.0" fill="url(#hh)"/>
<circle cx="93.3" cy="374.5" r="5.0" fill="url(#hh)"/>
<circle cx="91.7" cy="376.9" r="5.5" fill="url(#hh)"/>
<circle cx="89.5" cy="374" r="5.0" fill="url(#hh)"/>
<circle cx="94.5" cy="376.5" r="5.0" fill="url(#hh)"/>
<circle cx="95.6" cy="388.7" r="4.5" fill="url(#hh)"/>
<circle cx="98" cy="394.2" r="5.0" fill="url(#hh)"/>
<circle cx="88.6" cy="410.6" r="4.5" fill="url(#hh)"/>
<circle cx="90.9" cy="413" r="4.5" fill="url(#hh)"/>
<circle cx="94.9" cy="417.7" r="5.0" fill="url(#hh)"/>
<circle cx="105.1" cy="413.8" r="4.5" fill="url(#hh)"/>
<circle cx="102.7" cy="423.2" r="4.5" fill="url(#hh)"/>
<polyline points="60.9,398.8 58.2,397.3 56.4,394.9 53.9,393.3 51.6,391.5 49.8,389.9 47.3,388.9 45.0,386.5 42.8,386.4" fill="none" stroke="#58b8ff" stroke-width="0.9" stroke-opacity="0.16" stroke-linejoin="round"/>
<polyline points="60.5,398.9 57.8,397.3 56.1,395.4 53.7,393.7 51.5,392.3 49.6,389.9 47.6,388.9 45.1,387.8 42.8,386.4" fill="none" stroke="#58b8ff" stroke-width="0.9" stroke-opacity="0.16" stroke-linejoin="round"/>
<polyline points="58.8,398.9 57.5,398.1 55.5,397.1 52.5,396.0 50.0,395.4 47.2,398.1 45.8,398.6 43.4,399.4 41.2,401.3" fill="none" stroke="#58b8ff" stroke-width="0.9" stroke-opacity="0.16" stroke-linejoin="round"/>
<polyline points="59.7,399.1 56.8,398.3 54.4,397.5 52.1,397.3 50.3,395.8 47.1,397.0 45.5,398.3 43.5,400.3 41.2,401.3" fill="none" stroke="#58b8ff" stroke-width="0.9" stroke-opacity="0.16" stroke-linejoin="round"/>
<polyline points="60.0,398.8 57.6,400.2 55.0,401.5 52.5,402.9 49.0,403.5 46.7,403.6 44.4,404.5" fill="none" stroke="#58b8ff" stroke-width="0.9" stroke-opacity="0.16" stroke-linejoin="round"/>
<polyline points="60.0,399.2 56.6,400.3 54.6,401.6 52.2,402.5 49.7,403.4 46.9,403.9 44.4,404.5" fill="none" stroke="#58b8ff" stroke-width="0.9" stroke-opacity="0.16" stroke-linejoin="round"/>
<polyline points="59.9,398.8 59.0,397.5 58.0,394.9 56.6,392.2 55.4,390.9 53.5,388.3 52.7,385.7 51.0,383.7 49.9,381.3 47.5,378.5" fill="none" stroke="#58b8ff" stroke-width="0.9" stroke-opacity="0.16" stroke-linejoin="round"/>
<polyline points="60.7,399.1 59.1,396.8 57.7,394.4 56.7,392.9 55.1,390.3 54.2,388.0 52.7,385.7 50.3,382.9 49.4,381.1 47.5,378.5" fill="none" stroke="#58b8ff" stroke-width="0.9" stroke-opacity="0.16" stroke-linejoin="round"/>
<polyline points="60.5,399.1 58.1,396.9 56.5,395.7 54.4,394.1 51.8,393.0 50.1,390.7 48.8,389.1 46.9,386.7 44.7,384.5 43.0,382.6 41.7,380.5 39.7,378.5" fill="none" stroke="#58b8ff" stroke-width="0.9" stroke-opacity="0.16" stroke-linejoin="round"/>
<polyline points="59.8,398.8 58.5,397.6 56.1,396.1 54.2,394.5 52.4,393.3 49.2,390.9 49.5,388.4 46.8,387.2 45.0,385.2 42.8,382.2 41.4,380.3 39.7,378.5" fill="none" stroke="#58b8ff" stroke-width="0.9" stroke-opacity="0.16" stroke-linejoin="round"/>
<polyline points="59.7,399.2 57.8,401.3 55.2,403.8 53.0,405.7 50.8,407.7 48.3,409.2" fill="none" stroke="#58b8ff" stroke-width="0.9" stroke-opacity="0.16" stroke-linejoin="round"/>
<polyline points="60.1,399.2 57.3,401.3 55.2,404.1 53.2,406.7 51.2,407.5 48.3,409.2" fill="none" stroke="#58b8ff" stroke-width="0.9" stroke-opacity="0.16" stroke-linejoin="round"/>
<polyline points="59.7,399.2 58.0,397.2 55.7,395.7 54.1,393.9 52.1,391.7 50.3,389.5 49.9,387.0 49.6,384.8 48.3,382.4" fill="none" stroke="#58b8ff" stroke-width="0.9" stroke-opacity="0.16" stroke-linejoin="round"/>
<polyline points="60.6,399.1 58.3,397.4 56.3,395.1 54.4,393.8 51.7,392.2 51.2,390.1 50.4,387.3 48.7,385.4 48.3,382.4" fill="none" stroke="#58b8ff" stroke-width="0.9" stroke-opacity="0.16" stroke-linejoin="round"/>
<polyline points="60.6,399.3 57.8,400.6 55.0,401.6 52.8,402.2 50.5,403.9 48.6,405.3 44.9,403.9 42.9,404.1 40.4,403.7" fill="none" stroke="#58b8ff" stroke-width="0.9" stroke-opacity="0.16" stroke-linejoin="round"/>
<polyline points="59.8,398.5 57.6,399.8 55.0,401.7 52.9,402.3 50.0,403.7 48.6,404.8 46.1,404.3 42.9,404.4 40.4,403.7" fill="none" stroke="#58b8ff" stroke-width="0.9" stroke-opacity="0.16" stroke-linejoin="round"/>
<polyline points="59.8,399.0 57.6,401.4 56.5,403.2 54.1,405.5 51.3,408.8 50.2,410.3 50.6,413.2 51.8,415.6 51.4,419.4" fill="none" stroke="#58b8ff" stroke-width="0.9" stroke-opacity="0.16" stroke-linejoin="round"/>
<polyline points="60.0,398.9 58.0,401.4 55.8,402.9 53.6,405.8 52.4,408.1 50.6,409.8 50.8,413.4 50.9,416.0 51.4,419.4" fill="none" stroke="#58b8ff" stroke-width="0.9" stroke-opacity="0.16" stroke-linejoin="round"/>
<polyline points="60.4,398.8 56.4,397.9 53.0,397.4" fill="none" stroke="#58b8ff" stroke-width="0.9" stroke-opacity="0.16" stroke-linejoin="round"/>
<polyline points="60.7,399.0 56.4,398.1 53.0,397.4" fill="none" stroke="#58b8ff" stroke-width="0.9" stroke-opacity="0.16" stroke-linejoin="round"/>
<polyline points="60.0,399.0 58.5,395.8 58.2,393.8 56.7,390.6 55.8,387.0 54.9,384.6 54.6,382.2 53.7,379.1 53.0,376.9" fill="none" stroke="#58b8ff" stroke-width="0.9" stroke-opacity="0.16" stroke-linejoin="round"/>
<polyline points="60.1,398.3 59.2,396.7 57.6,393.7 57.5,390.5 56.4,387.8 54.8,384.3 54.0,381.8 54.5,379.7 53.0,376.9" fill="none" stroke="#58b8ff" stroke-width="0.9" stroke-opacity="0.16" stroke-linejoin="round"/>
<polyline points="61.0,398.4 64.7,397.5 67.6,397.3 70.0,395.8 72.7,396.1 75.6,397.6 78.3,397.9 80.5,398.2 83.4,397.2 87.2,397.6 90.0,396.0 92.0,395.5 95.0,394.3 98.0,394.2" fill="none" stroke="#58b8ff" stroke-width="0.9" stroke-opacity="0.16" stroke-linejoin="round"/>
<polyline points="60.6,398.9 63.9,398.2 67.0,397.0 70.5,396.3 72.9,397.0 75.4,396.7 77.7,397.0 80.8,398.0 84.0,397.7 86.6,396.8 90.4,396.0 93.0,395.3 95.0,394.7 98.0,394.2" fill="none" stroke="#58b8ff" stroke-width="0.9" stroke-opacity="0.16" stroke-linejoin="round"/>
<polyline points="76.9,391.2 78.5,393.8 79.2,395.8 80.8,398.0 80.3,400.6 79.2,403.1 78.8,406.1 78.5,409.0 76.0,410.5 73.5,412.2 72.1,413.5 68.8,416.1 65.8,417.7" fill="none" stroke="#58b8ff" stroke-width="0.9" stroke-opacity="0.16" stroke-linejoin="round"/>
<polyline points="77.4,391.1 78.5,394.2 80.2,396.2 80.5,398.3 80.1,401.0 79.3,403.7 78.7,406.5 79.0,408.6 75.8,410.9 74.4,412.2 72.2,414.2 69.1,416.3 65.8,417.7" fill="none" stroke="#58b8ff" stroke-width="0.9" stroke-opacity="0.16" stroke-linejoin="round"/>
<polyline points="95.4,388.9 94.8,385.6 94.0,382.4 92.5,380.4 92.0,379.1 91.7,376.9" fill="none" stroke="#58b8ff" stroke-width="0.9" stroke-opacity="0.16" stroke-linejoin="round"/>
<polyline points="96.0,388.5 94.4,385.0 93.8,382.3 93.6,379.4 92.4,377.5 91.7,376.9" fill="none" stroke="#58b8ff" stroke-width="0.9" stroke-opacity="0.16" stroke-linejoin="round"/>
<polyline points="97.9,394.7 96.8,396.8 95.8,400.1 94.3,401.9 91.3,404.1 90.3,406.8 89.4,408.4 88.4,410.9 91.3,412.6 92.8,415.0 94.7,417.6 97.6,418.5 99.9,420.5 101.5,421.8 102.7,423.2" fill="none" stroke="#58b8ff" stroke-width="0.9" stroke-opacity="0.16" stroke-linejoin="round"/>
<polyline points="98.1,394.1 97.1,397.3 96.0,400.4 94.0,402.3 92.0,404.3 89.8,405.8 88.9,408.7 88.8,410.7 90.9,412.7 92.8,415.1 94.2,417.6 97.1,419.4 99.7,419.8 101.7,421.6 102.7,423.2" fill="none" stroke="#58b8ff" stroke-width="0.9" stroke-opacity="0.16" stroke-linejoin="round"/>
<polyline points="104.6,413.9 104.3,416.5 103.6,417.7 102.4,420.4 102.7,423.2" fill="none" stroke="#58b8ff" stroke-width="0.9" stroke-opacity="0.16" stroke-linejoin="round"/>
<polyline points="105.8,413.8 104.2,416.0 103.9,418.0 104.2,421.3 102.7,423.2" fill="none" stroke="#58b8ff" stroke-width="0.9" stroke-opacity="0.16" stroke-linejoin="round"/>
<polyline points="77.4,378.3 76.6,379.7 77.4,383.2 77.3,385.6 77.7,388.5 77.6,391.0" fill="none" stroke="#58b8ff" stroke-width="0.9" stroke-opacity="0.16" stroke-linejoin="round"/>
<polyline points="76.9,377.9 76.9,380.2 77.6,382.9 78.0,385.9 77.5,388.7 77.6,391.0" fill="none" stroke="#58b8ff" stroke-width="0.9" stroke-opacity="0.16" stroke-linejoin="round"/>
<polyline points="80.5,398.0 80.4,401.1 80.6,404.8 80.4,406.6 79.7,409.4 80.3,413.1 80.1,415.7 80.2,418.6 80.2,421.3 80.0,424.0" fill="none" stroke="#58b8ff" stroke-width="0.9" stroke-opacity="0.16" stroke-linejoin="round"/>
<polyline points="80.3,398.4 81.0,400.5 80.3,403.6 80.4,406.9 80.5,410.4 79.8,412.6 79.8,415.8 79.7,418.6 79.5,421.6 80.0,424.0" fill="none" stroke="#58b8ff" stroke-width="0.9" stroke-opacity="0.16" stroke-linejoin="round"/>
<circle cx="57.4" cy="397.0" r="1.2" fill="url(#hd)"/>
<circle cx="54.2" cy="393.2" r="1.5" fill="url(#hd)"/>
<circle cx="49.2" cy="389.3" r="1.1" fill="url(#hd)"/>
<circle cx="43.5" cy="386.7" r="1.5" fill="url(#hd)"/>
<circle cx="57.8" cy="398.4" r="1.6" fill="url(#hd)"/>
<circle cx="52.5" cy="395.7" r="0.9" fill="url(#hd)"/>
<circle cx="49.1" cy="395.4" r="1.1" fill="url(#hd)"/>
<circle cx="45.6" cy="399.5" r="1.3" fill="url(#hd)"/>
<circle cx="60.1" cy="398.2" r="1.1" fill="url(#hd)"/>
<circle cx="52.8" cy="401.9" r="1.3" fill="url(#hd)"/>
<circle cx="50.4" cy="402.9" r="1.5" fill="url(#hd)"/>
<circle cx="46.8" cy="403.8" r="1.2" fill="url(#hd)"/>
<circle cx="57.7" cy="397.7" r="1.1" fill="url(#hd)"/>
<circle cx="56.0" cy="391.2" r="1.3" fill="url(#hd)"/>
<circle cx="53.5" cy="388.8" r="1.1" fill="url(#hd)"/>
<circle cx="53.5" cy="387.7" r="1.4" fill="url(#hd)"/>
<circle cx="51.1" cy="384.0" r="1.7" fill="url(#hd)"/>
<circle cx="47.3" cy="378.7" r="1.7" fill="url(#hd)"/>
<circle cx="59.8" cy="399.9" r="1.2" fill="url(#hd)"/>
<circle cx="56.9" cy="396.0" r="1.2" fill="url(#hd)"/>
<circle cx="52.8" cy="394.9" r="1.2" fill="url(#hd)"/>
<circle cx="51.3" cy="391.9" r="1.4" fill="url(#hd)"/>
<circle cx="49.3" cy="389.9" r="1.2" fill="url(#hd)"/>
<circle cx="44.7" cy="385.2" r="1.5" fill="url(#hd)"/>
<circle cx="43.4" cy="380.5" r="1.0" fill="url(#hd)"/>
<circle cx="41.7" cy="378.3" r="1.1" fill="url(#hd)"/>
<circle cx="57.2" cy="400.2" r="1.4" fill="url(#hd)"/>
<circle cx="55.2" cy="404.2" r="1.5" fill="url(#hd)"/>
<circle cx="50.8" cy="407.6" r="1.8" fill="url(#hd)"/>
<circle cx="58.6" cy="398.5" r="1.1" fill="url(#hd)"/>
<circle cx="55.1" cy="394.2" r="1.8" fill="url(#hd)"/>
<circle cx="51.7" cy="391.1" r="1.4" fill="url(#hd)"/>
<circle cx="49.6" cy="388.2" r="1.6" fill="url(#hd)"/>
<circle cx="48.2" cy="381.8" r="1.1" fill="url(#hd)"/>
<circle cx="59.1" cy="400.0" r="1.2" fill="url(#hd)"/>
<circle cx="53.1" cy="401.3" r="1.7" fill="url(#hd)"/>
<circle cx="50.2" cy="403.6" r="1.5" fill="url(#hd)"/>
<circle cx="47.1" cy="406.0" r="1.3" fill="url(#hd)"/>
<circle cx="40.4" cy="404.4" r="1.7" fill="url(#hd)"/>
<circle cx="60.0" cy="398.5" r="1.8" fill="url(#hd)"/>
<circle cx="56.6" cy="401.9" r="1.4" fill="url(#hd)"/>
<circle cx="52.1" cy="408.6" r="1.7" fill="url(#hd)"/>
<circle cx="51.6" cy="412.0" r="1.7" fill="url(#hd)"/>
<circle cx="49.8" cy="415.4" r="1.3" fill="url(#hd)"/>
<circle cx="57.9" cy="398.7" r="1.4" fill="url(#hd)"/>
<circle cx="58.9" cy="396.1" r="1.7" fill="url(#hd)"/>
<circle cx="58.0" cy="394.7" r="1.7" fill="url(#hd)"/>
<circle cx="56.7" cy="388.4" r="1.4" fill="url(#hd)"/>
<circle cx="55.1" cy="385.6" r="0.9" fill="url(#hd)"/>
<circle cx="54.4" cy="384.7" r="0.9" fill="url(#hd)"/>
<circle cx="52.6" cy="378.2" r="1.7" fill="url(#hd)"/>
<circle cx="61.6" cy="398.7" r="1.8" fill="url(#hd)"/>
<circle cx="66.7" cy="396.7" r="1.3" fill="url(#hd)"/>
<circle cx="72.1" cy="396.1" r="1.4" fill="url(#hd)"/>
<circle cx="76.1" cy="397.4" r="1.5" fill="url(#hd)"/>
<circle cx="82.0" cy="397.4" r="1.3" fill="url(#hd)"/>
<circle cx="87.0" cy="396.8" r="1.1" fill="url(#hd)"/>
<circle cx="93.3" cy="394.4" r="0.9" fill="url(#hd)"/>
<circle cx="98.4" cy="392.6" r="1.4" fill="url(#hd)"/>
<circle cx="78.4" cy="394.1" r="1.2" fill="url(#hd)"/>
<circle cx="79.9" cy="398.6" r="1.4" fill="url(#hd)"/>
<circle cx="80.7" cy="404.1" r="1.3" fill="url(#hd)"/>
<circle cx="76.2" cy="409.6" r="1.8" fill="url(#hd)"/>
<circle cx="72.2" cy="412.5" r="1.3" fill="url(#hd)"/>
<circle cx="68.7" cy="416.2" r="1.6" fill="url(#hd)"/>
<circle cx="95.5" cy="387.0" r="1.0" fill="url(#hd)"/>
<circle cx="93.1" cy="381.4" r="1.3" fill="url(#hd)"/>
<circle cx="90.6" cy="378.7" r="1.4" fill="url(#hd)"/>
<circle cx="97.7" cy="394.4" r="1.5" fill="url(#hd)"/>
<circle cx="96.0" cy="401.1" r="1.0" fill="url(#hd)"/>
<circle cx="89.6" cy="406.5" r="1.6" fill="url(#hd)"/>
<circle cx="89.1" cy="408.7" r="1.4" fill="url(#hd)"/>
<circle cx="90.1" cy="412.8" r="0.9" fill="url(#hd)"/>
<circle cx="91.6" cy="415.4" r="0.9" fill="url(#hd)"/>
<circle cx="97.9" cy="417.0" r="1.7" fill="url(#hd)"/>
<circle cx="101.3" cy="422.4" r="1.0" fill="url(#hd)"/>
<circle cx="103.3" cy="415.7" r="1.3" fill="url(#hd)"/>
<circle cx="103.1" cy="419.2" r="1.7" fill="url(#hd)"/>
<circle cx="76.9" cy="379.7" r="1.5" fill="url(#hd)"/>
<circle cx="76.6" cy="382.2" r="1.7" fill="url(#hd)"/>
<circle cx="76.9" cy="388.0" r="1.3" fill="url(#hd)"/>
<circle cx="80.9" cy="399.7" r="1.5" fill="url(#hd)"/>
<circle cx="80.9" cy="405.0" r="1.6" fill="url(#hd)"/>
<circle cx="80.3" cy="411.1" r="0.9" fill="url(#hd)"/>
<circle cx="80.2" cy="412.8" r="1.3" fill="url(#hd)"/>
<circle cx="81.6" cy="418.9" r="1.2" fill="url(#hd)"/>
</g>
<g filter="url(#hblur)">
<circle cx="42.8" cy="377.7" r="2.6" fill="url(#hc)"/>
<circle cx="45.9" cy="376.9" r="2.6" fill="url(#hc)"/>
<circle cx="47.5" cy="378.5" r="2.6" fill="url(#hc)"/>
<circle cx="48.3" cy="382.4" r="2.6" fill="url(#hc)"/>
<circle cx="42.8" cy="386.4" r="2.6" fill="url(#hc)"/>
<circle cx="53" cy="384" r="2.6" fill="url(#hc)"/>
<circle cx="53" cy="397.4" r="2.6" fill="url(#hc)"/>
<circle cx="53.8" cy="399.8" r="2.6" fill="url(#hc)"/>
<circle cx="41.2" cy="401.3" r="2.6" fill="url(#hc)"/>
<circle cx="44.4" cy="404.5" r="2.6" fill="url(#hc)"/>
<circle cx="45.2" cy="409.2" r="2.6" fill="url(#hc)"/>
<circle cx="49.9" cy="412.3" r="2.6" fill="url(#hc)"/>
<circle cx="76.8" cy="377.7" r="2.6" fill="url(#hc)"/>
<circle cx="77.6" cy="391" r="2.6" fill="url(#hc)"/>
<circle cx="73.7" cy="395.7" r="2.6" fill="url(#hc)"/>
<circle cx="72.9" cy="403.6" r="2.6" fill="url(#hc)"/>
<circle cx="75.3" cy="402" r="2.6" fill="url(#hc)"/>
<circle cx="63.5" cy="416" r="2.6" fill="url(#hc)"/>
<circle cx="78.4" cy="409.1" r="2.6" fill="url(#hc)"/>
<circle cx="95.6" cy="388.7" r="2.6" fill="url(#hc)"/>
<circle cx="88.6" cy="410.6" r="2.6" fill="url(#hc)"/>
<circle cx="90.9" cy="413" r="2.6" fill="url(#hc)"/>
<circle cx="105.1" cy="413.8" r="2.6" fill="url(#hc)"/>
<circle cx="102.7" cy="423.2" r="2.6" fill="url(#hc)"/>
<circle cx="39.7" cy="378.5" r="3.1" fill="url(#hg)"/>
<circle cx="53" cy="376.9" r="3.1" fill="url(#hg)"/>
<circle cx="40.4" cy="403.7" r="3.1" fill="url(#hg)"/>
<circle cx="52.5" cy="412.5" r="3.1" fill="url(#hg)"/>
<circle cx="49.5" cy="422.5" r="3.1" fill="url(#hg)"/>
<circle cx="52.5" cy="426" r="3.1" fill="url(#hg)"/>
<circle cx="50.5" cy="410.5" r="3.1" fill="url(#hg)"/>
<circle cx="50.7" cy="424.1" r="3.1" fill="url(#hg)"/>
<circle cx="60.1" cy="399" r="3.1" fill="url(#hg)"/>
<circle cx="80.7" cy="398.1" r="3.1" fill="url(#hg)"/>
<circle cx="78.5" cy="396" r="3.1" fill="url(#hg)"/>
<circle cx="81.5" cy="402.5" r="3.1" fill="url(#hg)"/>
<circle cx="61.1" cy="398.9" r="3.1" fill="url(#hg)"/>
<circle cx="64.3" cy="418.5" r="3.1" fill="url(#hg)"/>
<circle cx="63" cy="421" r="3.1" fill="url(#hg)"/>
<circle cx="66.5" cy="420.5" r="3.1" fill="url(#hg)"/>
<circle cx="90.2" cy="376.1" r="3.1" fill="url(#hg)"/>
<circle cx="93.3" cy="374.5" r="3.1" fill="url(#hg)"/>
<circle cx="89.5" cy="374" r="3.1" fill="url(#hg)"/>
<circle cx="94.5" cy="376.5" r="3.1" fill="url(#hg)"/>
<circle cx="98" cy="394.2" r="3.1" fill="url(#hg)"/>
<circle cx="94.9" cy="417.7" r="3.1" fill="url(#hg)"/>
<circle cx="48.3" cy="409.2" r="3.5" fill="url(#hy)"/>
<circle cx="51.4" cy="415.5" r="3.5" fill="url(#hy)"/>
<circle cx="50" cy="417" r="3.5" fill="url(#hy)"/>
<circle cx="51" cy="424" r="3.5" fill="url(#hy)"/>
<circle cx="52.2" cy="421.8" r="3.5" fill="url(#hy)"/>
<circle cx="80" cy="400.4" r="3.5" fill="url(#hy)"/>
<circle cx="65.8" cy="417.7" r="3.5" fill="url(#hy)"/>
<circle cx="91.7" cy="376.9" r="3.5" fill="url(#hy)"/>
<circle cx="51.4" cy="419.4" r="4.0" fill="url(#hr)"/>
<circle cx="52" cy="421.5" r="4.0" fill="url(#hr)"/>
<circle cx="80" cy="424" r="4.0" fill="url(#hr)"/>
</g>
<rect x="34.5" y="370.1" width="76.1" height="57.599999999999966" fill="none" stroke="#a0a0ff" stroke-width="0.8"/>
<line x1="60.90" y1="370.10" x2="60.90" y2="427.70" stroke="#a0a0ff" stroke-width="0.8" />
<line x1="85.40" y1="370.10" x2="85.40" y2="427.70" stroke="#a0a0ff" stroke-width="0.8" />
<circle cx="44.4" cy="418.6" r="6.9" fill="none" stroke="#fff" stroke-width="0.6"/>
<circle cx="101.0" cy="380.1" r="6.9" fill="none" stroke="#fff" stroke-width="0.6"/>
<text x="35.66" y="368.90" font-size="6.0" textLength="22.33" lengthAdjust="spacingAndGlyphs" fill="#fff" >Stranger2</text>
<text x="86.66" y="368.90" font-size="6.0" textLength="22.78" lengthAdjust="spacingAndGlyphs" fill="#fff" >Stranger1</text>
<text x="65.00" y="426.80" font-size="6.0" textLength="16.93" lengthAdjust="spacingAndGlyphs" fill="#fff" >Control</text>
<rect x="148.0" y="286.9" width="82.0" height="67.60000000000002" fill="#0505fa"/>
<g filter="url(#tblur)">
<circle cx="157.2" cy="301" r="4.5" fill="url(#hh)"/>
<circle cx="158" cy="304.1" r="4.5" fill="url(#hh)"/>
<circle cx="167.4" cy="301.7" r="4.5" fill="url(#hh)"/>
<circle cx="168.2" cy="305.7" r="4.5" fill="url(#hh)"/>
<circle cx="158" cy="309.6" r="4.5" fill="url(#hh)"/>
<circle cx="162" cy="312" r="4.5" fill="url(#hh)"/>
<circle cx="156.4" cy="317.5" r="4.5" fill="url(#hh)"/>
<circle cx="158.8" cy="319.8" r="4.5" fill="url(#hh)"/>
<circle cx="166.7" cy="324.5" r="4.5" fill="url(#hh)"/>
<circle cx="176.9" cy="323.8" r="5.0" fill="url(#hh)"/>
<circle cx="155.7" cy="333.2" r="6.0" fill="url(#hh)"/>
<circle cx="157.2" cy="334.8" r="5.5" fill="url(#hh)"/>
<circle cx="154.8" cy="331" r="5.0" fill="url(#hh)"/>
<circle cx="159.5" cy="333.5" r="5.0" fill="url(#hh)"/>
<circle cx="162.7" cy="333.2" r="4.5" fill="url(#hh)"/>
<circle cx="169" cy="336.3" r="4.5" fill="url(#hh)"/>
<circle cx="165.9" cy="341" r="4.5" fill="url(#hh)"/>
<circle cx="167.4" cy="346.6" r="5.5" fill="url(#hh)"/>
<circle cx="169" cy="345" r="5.0" fill="url(#hh)"/>
<circle cx="169.8" cy="348.1" r="4.5" fill="url(#hh)"/>
<circle cx="180.8" cy="344.2" r="5.0" fill="url(#hh)"/>
<circle cx="180.8" cy="333.2" r="4.5" fill="url(#hh)"/>
<circle cx="180" cy="301.7" r="4.5" fill="url(#hh)"/>
<circle cx="181.1" cy="300.9" r="4.5" fill="url(#hh)"/>
<circle cx="194.4" cy="300.9" r="4.5" fill="url(#hh)"/>
<circle cx="197.5" cy="322.9" r="5.0" fill="url(#hh)"/>
<circle cx="194.4" cy="329.9" r="4.5" fill="url(#hh)"/>
<circle cx="181.1" cy="333.1" r="4.5" fill="url(#hh)"/>
<circle cx="181.1" cy="343.3" r="5.0" fill="url(#hh)"/>
<circle cx="181.8" cy="348" r="5.0" fill="url(#hh)"/>
<circle cx="189.7" cy="345.6" r="4.5" fill="url(#hh)"/>
<circle cx="204.6" cy="304" r="5.0" fill="url(#hh)"/>
<circle cx="206.2" cy="306.4" r="4.5" fill="url(#hh)"/>
<circle cx="207" cy="311.9" r="4.5" fill="url(#hh)"/>
<circle cx="205.4" cy="320.5" r="4.5" fill="url(#hh)"/>
<circle cx="221.1" cy="311.9" r="4.5" fill="url(#hh)"/>
<circle cx="217.9" cy="319.7" r="4.5" fill="url(#hh)"/>
<circle cx="220.3" cy="333.1" r="4.5" fill="url(#hh)"/>
<circle cx="206.2" cy="337.8" r="4.5" fill="url(#hh)"/>
<circle cx="205.4" cy="345.6" r="4.5" fill="url(#hh)"/>
<circle cx="217.9" cy="345.6" r="4.5" fill="url(#hh)"/>
<circle cx="221.1" cy="346.4" r="4.5" fill="url(#hh)"/>
<polyline points="176.9,324.2 174.3,322.2 172.2,319.8 170.7,318.1 168.0,316.8 166.4,315.0 164.2,313.2 162.0,312.0" fill="none" stroke="#58b8ff" stroke-width="0.9" stroke-opacity="0.16" stroke-linejoin="round"/>
<polyline points="176.8,323.6 174.1,321.3 171.7,319.8 169.9,317.9 168.0,316.0 166.0,315.1 164.3,313.2 162.0,312.0" fill="none" stroke="#58b8ff" stroke-width="0.9" stroke-opacity="0.16" stroke-linejoin="round"/>
<polyline points="176.8,323.1 174.9,320.7 172.8,319.5 170.8,317.0 169.9,314.3 168.2,312.2 166.4,310.3 163.8,308.6 161.7,307.2 159.7,306.1 158.0,304.1" fill="none" stroke="#58b8ff" stroke-width="0.9" stroke-opacity="0.16" stroke-linejoin="round"/>
<polyline points="176.2,323.4 174.8,320.7 174.0,318.2 171.5,316.5 170.4,313.7 168.4,311.7 165.9,310.2 164.2,308.4 162.0,307.4 160.6,304.8 158.0,304.1" fill="none" stroke="#58b8ff" stroke-width="0.9" stroke-opacity="0.16" stroke-linejoin="round"/>
<polyline points="177.4,324.1 174.2,324.1 171.6,324.7 169.3,324.2 166.6,324.4 164.0,322.6 162.2,320.7 158.8,319.8" fill="none" stroke="#58b8ff" stroke-width="0.9" stroke-opacity="0.16" stroke-linejoin="round"/>
<polyline points="175.6,323.8 174.3,324.1 171.7,324.1 169.4,324.7 166.5,324.4 164.7,323.1 161.1,322.2 158.8,319.8" fill="none" stroke="#58b8ff" stroke-width="0.9" stroke-opacity="0.16" stroke-linejoin="round"/>
<polyline points="177.2,323.6 174.2,326.0 172.0,327.6 169.5,329.8 168.0,330.9 164.6,332.4 162.7,333.2" fill="none" stroke="#58b8ff" stroke-width="0.9" stroke-opacity="0.16" stroke-linejoin="round"/>
<polyline points="176.9,324.1 175.0,325.8 172.2,327.9 169.6,330.2 168.0,331.1 165.1,332.0 162.7,333.2" fill="none" stroke="#58b8ff" stroke-width="0.9" stroke-opacity="0.16" stroke-linejoin="round"/>
<polyline points="156.9,300.7 157.3,303.6 157.6,306.2 158.1,309.6 157.1,311.4 156.9,315.3 156.1,317.3 157.4,318.9 158.8,319.8" fill="none" stroke="#58b8ff" stroke-width="0.9" stroke-opacity="0.16" stroke-linejoin="round"/>
<polyline points="156.9,301.3 157.4,304.2 157.7,306.7 157.5,309.4 157.4,312.5 157.0,314.6 156.5,317.8 157.5,318.5 158.8,319.8" fill="none" stroke="#58b8ff" stroke-width="0.9" stroke-opacity="0.16" stroke-linejoin="round"/>
<polyline points="167.3,302.0 168.0,303.4 168.3,305.5 167.2,309.2 167.0,311.6 166.0,315.2 166.0,318.1 166.7,320.7 166.7,324.5" fill="none" stroke="#58b8ff" stroke-width="0.9" stroke-opacity="0.16" stroke-linejoin="round"/>
<polyline points="167.5,302.0 168.0,303.2 168.3,305.4 167.7,309.0 166.8,311.6 165.8,315.3 165.9,318.3 166.6,321.2 166.7,324.5" fill="none" stroke="#58b8ff" stroke-width="0.9" stroke-opacity="0.16" stroke-linejoin="round"/>
<polyline points="163.5,333.2 166.6,334.0 168.2,336.6 169.2,339.1 169.0,341.4 169.0,345.0" fill="none" stroke="#58b8ff" stroke-width="0.9" stroke-opacity="0.16" stroke-linejoin="round"/>
<polyline points="162.5,332.8 165.8,335.1 169.0,336.4 168.8,339.0 169.0,342.0 169.0,345.0" fill="none" stroke="#58b8ff" stroke-width="0.9" stroke-opacity="0.16" stroke-linejoin="round"/>
<polyline points="177.3,323.5 180.3,322.9 182.7,322.3 185.6,322.0 187.6,322.4 189.8,322.0 191.8,323.0 194.8,322.5 197.5,323.6 199.5,322.2 202.6,321.5 205.4,320.5" fill="none" stroke="#58b8ff" stroke-width="0.9" stroke-opacity="0.16" stroke-linejoin="round"/>
<polyline points="176.3,323.7 179.9,323.7 182.9,322.3 185.0,322.0 187.0,321.7 190.3,322.4 192.5,323.0 194.6,322.9 197.5,322.9 200.3,322.2 202.9,321.4 205.4,320.5" fill="none" stroke="#58b8ff" stroke-width="0.9" stroke-opacity="0.16" stroke-linejoin="round"/>
<polyline points="181.8,300.8 181.4,303.9 180.9,306.8 180.7,309.8 180.7,312.0 181.1,315.3 181.3,317.9 181.0,319.8 181.2,322.9 180.7,325.7 181.1,327.6 181.2,330.1 180.8,333.2 180.6,335.7 180.6,338.5 180.8,340.8 181.1,343.3" fill="none" stroke="#58b8ff" stroke-width="0.9" stroke-opacity="0.16" stroke-linejoin="round"/>
<polyline points="180.6,300.8 181.4,303.9 180.4,306.9 181.4,309.2 181.5,311.8 181.0,315.4 181.5,318.0 180.6,319.5 181.2,322.3 181.0,324.9 181.4,328.2 181.3,330.5 181.1,333.0 181.2,335.7 181.3,338.0 181.8,340.8 181.1,343.3" fill="none" stroke="#58b8ff" stroke-width="0.9" stroke-opacity="0.16" stroke-linejoin="round"/>
<polyline points="194.9,301.4 194.2,303.1 195.1,306.3 194.9,309.1 195.0,311.6 195.6,314.6 196.2,316.6 197.2,320.3 196.9,322.6 196.5,325.5 195.4,328.1 194.4,329.5 193.1,332.7 192.0,335.2 191.5,337.7 190.4,339.9 189.8,342.6 189.7,345.6" fill="none" stroke="#58b8ff" stroke-width="0.9" stroke-opacity="0.16" stroke-linejoin="round"/>
<polyline points="194.2,300.4 194.4,303.3 194.2,306.5 195.0,309.1 195.5,312.3 196.0,314.5 195.7,317.6 197.0,320.4 197.6,323.3 196.4,325.5 195.1,326.8 194.2,330.4 192.7,332.8 192.0,334.8 191.1,337.5 189.7,340.0 190.0,343.1 189.7,345.6" fill="none" stroke="#58b8ff" stroke-width="0.9" stroke-opacity="0.16" stroke-linejoin="round"/>
<polyline points="204.3,304.5 206.1,307.5 205.7,309.3 206.3,312.0 206.7,314.4 205.4,317.7 205.6,320.2 205.4,322.5 205.4,326.3 205.9,329.7 205.5,331.2 206.2,334.7 206.3,338.1 206.1,340.9 206.1,342.4 205.4,345.6" fill="none" stroke="#58b8ff" stroke-width="0.9" stroke-opacity="0.16" stroke-linejoin="round"/>
<polyline points="204.6,304.7 205.3,307.0 206.2,309.1 207.6,312.3 206.4,315.1 205.5,317.4 205.7,320.5 205.2,323.5 205.8,326.7 206.1,329.1 205.8,332.0 206.0,335.4 206.8,338.3 206.1,340.3 206.0,342.9 205.4,345.6" fill="none" stroke="#58b8ff" stroke-width="0.9" stroke-opacity="0.16" stroke-linejoin="round"/>
<polyline points="221.2,311.3 219.9,315.0 218.6,316.6 217.8,320.3 218.9,322.3 218.7,325.0 219.0,327.8 219.7,329.9 220.1,333.0 220.2,335.4 220.9,339.1 220.7,340.9 221.1,343.7 221.1,346.4" fill="none" stroke="#58b8ff" stroke-width="0.9" stroke-opacity="0.16" stroke-linejoin="round"/>
<polyline points="220.8,312.4 219.7,314.2 218.7,316.8 217.8,319.9 218.9,322.6 218.9,324.6 219.3,327.4 219.8,330.8 220.4,333.0 220.2,335.8 220.7,338.1 220.6,341.4 220.4,343.6 221.1,346.4" fill="none" stroke="#58b8ff" stroke-width="0.9" stroke-opacity="0.16" stroke-linejoin="round"/>
<polyline points="205.0,346.1 208.9,346.0 212.1,346.1 215.1,345.2 217.9,345.6" fill="none" stroke="#58b8ff" stroke-width="0.9" stroke-opacity="0.16" stroke-linejoin="round"/>
<polyline points="205.5,345.8 208.2,346.1 212.2,345.5 214.8,345.7 217.9,345.6" fill="none" stroke="#58b8ff" stroke-width="0.9" stroke-opacity="0.16" stroke-linejoin="round"/>
<circle cx="176.3" cy="323.9" r="1.4" fill="url(#hd)"/>
<circle cx="172.8" cy="321.7" r="0.9" fill="url(#hd)"/>
<circle cx="168.6" cy="316.1" r="1.4" fill="url(#hd)"/>
<circle cx="162.0" cy="311.4" r="1.5" fill="url(#hd)"/>
<circle cx="174.3" cy="321.8" r="1.6" fill="url(#hd)"/>
<circle cx="173.4" cy="317.8" r="1.3" fill="url(#hd)"/>
<circle cx="169.5" cy="314.8" r="1.4" fill="url(#hd)"/>
<circle cx="166.3" cy="310.4" r="1.4" fill="url(#hd)"/>
<circle cx="161.8" cy="306.5" r="1.6" fill="url(#hd)"/>
<circle cx="176.4" cy="324.3" r="1.0" fill="url(#hd)"/>
<circle cx="172.0" cy="323.9" r="1.7" fill="url(#hd)"/>
<circle cx="167.0" cy="323.5" r="1.7" fill="url(#hd)"/>
<circle cx="161.1" cy="320.5" r="1.6" fill="url(#hd)"/>
<circle cx="173.7" cy="326.0" r="1.3" fill="url(#hd)"/>
<circle cx="172.4" cy="328.2" r="1.1" fill="url(#hd)"/>
<circle cx="168.3" cy="329.7" r="1.3" fill="url(#hd)"/>
<circle cx="163.0" cy="333.8" r="1.6" fill="url(#hd)"/>
<circle cx="158.3" cy="300.8" r="1.2" fill="url(#hd)"/>
<circle cx="156.6" cy="306.1" r="1.1" fill="url(#hd)"/>
<circle cx="158.0" cy="309.8" r="1.3" fill="url(#hd)"/>
<circle cx="157.2" cy="314.8" r="1.3" fill="url(#hd)"/>
<circle cx="156.8" cy="317.9" r="1.3" fill="url(#hd)"/>
<circle cx="166.6" cy="302.0" r="1.5" fill="url(#hd)"/>
<circle cx="167.5" cy="305.8" r="0.9" fill="url(#hd)"/>
<circle cx="168.8" cy="306.8" r="1.0" fill="url(#hd)"/>
<circle cx="166.5" cy="312.2" r="0.9" fill="url(#hd)"/>
<circle cx="166.3" cy="315.0" r="1.7" fill="url(#hd)"/>
<circle cx="166.4" cy="321.0" r="1.6" fill="url(#hd)"/>
<circle cx="164.6" cy="334.3" r="1.8" fill="url(#hd)"/>
<circle cx="168.8" cy="336.1" r="1.0" fill="url(#hd)"/>
<circle cx="170.1" cy="336.8" r="1.7" fill="url(#hd)"/>
<circle cx="169.9" cy="340.5" r="1.6" fill="url(#hd)"/>
<circle cx="180.3" cy="323.3" r="1.4" fill="url(#hd)"/>
<circle cx="184.8" cy="323.5" r="1.0" fill="url(#hd)"/>
<circle cx="189.5" cy="323.4" r="1.7" fill="url(#hd)"/>
<circle cx="194.1" cy="321.4" r="1.7" fill="url(#hd)"/>
<circle cx="199.6" cy="322.7" r="1.1" fill="url(#hd)"/>
<circle cx="181.0" cy="302.8" r="1.5" fill="url(#hd)"/>
<circle cx="180.9" cy="307.2" r="1.3" fill="url(#hd)"/>
<circle cx="181.0" cy="311.8" r="1.3" fill="url(#hd)"/>
<circle cx="181.5" cy="317.4" r="1.7" fill="url(#hd)"/>
<circle cx="182.2" cy="321.7" r="1.3" fill="url(#hd)"/>
<circle cx="181.0" cy="328.7" r="1.2" fill="url(#hd)"/>
<circle cx="181.5" cy="334.2" r="1.4" fill="url(#hd)"/>
<circle cx="182.1" cy="338.7" r="1.1" fill="url(#hd)"/>
<circle cx="181.8" cy="342.8" r="1.4" fill="url(#hd)"/>
<circle cx="195.0" cy="301.5" r="1.4" fill="url(#hd)"/>
<circle cx="194.9" cy="305.5" r="1.6" fill="url(#hd)"/>
<circle cx="195.2" cy="312.4" r="1.0" fill="url(#hd)"/>
<circle cx="197.1" cy="312.6" r="1.1" fill="url(#hd)"/>
<circle cx="197.3" cy="319.2" r="1.1" fill="url(#hd)"/>
<circle cx="195.9" cy="323.5" r="1.7" fill="url(#hd)"/>
<circle cx="194.2" cy="328.4" r="1.0" fill="url(#hd)"/>
<circle cx="193.9" cy="331.0" r="1.4" fill="url(#hd)"/>
<circle cx="191.6" cy="335.9" r="1.2" fill="url(#hd)"/>
<circle cx="188.8" cy="339.8" r="1.3" fill="url(#hd)"/>
<circle cx="205.3" cy="306.5" r="1.8" fill="url(#hd)"/>
<circle cx="206.2" cy="310.4" r="1.1" fill="url(#hd)"/>
<circle cx="206.2" cy="313.0" r="1.8" fill="url(#hd)"/>
<circle cx="206.4" cy="319.8" r="1.3" fill="url(#hd)"/>
<circle cx="206.4" cy="322.9" r="1.6" fill="url(#hd)"/>
<circle cx="207.6" cy="328.1" r="1.2" fill="url(#hd)"/>
<circle cx="206.2" cy="335.2" r="1.6" fill="url(#hd)"/>
<circle cx="205.9" cy="339.2" r="1.6" fill="url(#hd)"/>
<circle cx="204.9" cy="344.1" r="1.6" fill="url(#hd)"/>
<circle cx="221.3" cy="313.1" r="1.3" fill="url(#hd)"/>
<circle cx="220.1" cy="317.3" r="1.5" fill="url(#hd)"/>
<circle cx="219.0" cy="322.1" r="1.0" fill="url(#hd)"/>
<circle cx="218.3" cy="327.3" r="1.4" fill="url(#hd)"/>
<circle cx="220.5" cy="331.3" r="1.3" fill="url(#hd)"/>
<circle cx="220.3" cy="336.1" r="1.6" fill="url(#hd)"/>
<circle cx="221.3" cy="339.8" r="1.4" fill="url(#hd)"/>
<circle cx="221.4" cy="343.3" r="1.6" fill="url(#hd)"/>
<circle cx="208.8" cy="343.6" r="0.9" fill="url(#hd)"/>
<circle cx="211.4" cy="346.3" r="0.9" fill="url(#hd)"/>
<circle cx="218.0" cy="346.0" r="1.1" fill="url(#hd)"/>
</g>
<g filter="url(#hblur)">
<circle cx="157.2" cy="301" r="2.6" fill="url(#hc)"/>
<circle cx="158" cy="304.1" r="2.6" fill="url(#hc)"/>
<circle cx="167.4" cy="301.7" r="2.6" fill="url(#hc)"/>
<circle cx="168.2" cy="305.7" r="2.6" fill="url(#hc)"/>
<circle cx="158" cy="309.6" r="2.6" fill="url(#hc)"/>
<circle cx="162" cy="312" r="2.6" fill="url(#hc)"/>
<circle cx="156.4" cy="317.5" r="2.6" fill="url(#hc)"/>
<circle cx="158.8" cy="319.8" r="2.6" fill="url(#hc)"/>
<circle cx="166.7" cy="324.5" r="2.6" fill="url(#hc)"/>
<circle cx="162.7" cy="333.2" r="2.6" fill="url(#hc)"/>
<circle cx="169" cy="336.3" r="2.6" fill="url(#hc)"/>
<circle cx="165.9" cy="341" r="2.6" fill="url(#hc)"/>
<circle cx="169.8" cy="348.1" r="2.6" fill="url(#hc)"/>
<circle cx="180.8" cy="333.2" r="2.6" fill="url(#hc)"/>
<circle cx="180" cy="301.7" r="2.6" fill="url(#hc)"/>
<circle cx="181.1" cy="300.9" r="2.6" fill="url(#hc)"/>
<circle cx="194.4" cy="300.9" r="2.6" fill="url(#hc)"/>
<circle cx="194.4" cy="329.9" r="2.6" fill="url(#hc)"/>
<circle cx="181.1" cy="333.1" r="2.6" fill="url(#hc)"/>
<circle cx="189.7" cy="345.6" r="2.6" fill="url(#hc)"/>
<circle cx="206.2" cy="306.4" r="2.6" fill="url(#hc)"/>
<circle cx="207" cy="311.9" r="2.6" fill="url(#hc)"/>
<circle cx="205.4" cy="320.5" r="2.6" fill="url(#hc)"/>
<circle cx="221.1" cy="311.9" r="2.6" fill="url(#hc)"/>
<circle cx="217.9" cy="319.7" r="2.6" fill="url(#hc)"/>
<circle cx="220.3" cy="333.1" r="2.6" fill="url(#hc)"/>
<circle cx="206.2" cy="337.8" r="2.6" fill="url(#hc)"/>
<circle cx="205.4" cy="345.6" r="2.6" fill="url(#hc)"/>
<circle cx="217.9" cy="345.6" r="2.6" fill="url(#hc)"/>
<circle cx="221.1" cy="346.4" r="2.6" fill="url(#hc)"/>
<circle cx="176.9" cy="323.8" r="3.1" fill="url(#hg)"/>
<circle cx="154.8" cy="331" r="3.1" fill="url(#hg)"/>
<circle cx="159.5" cy="333.5" r="3.1" fill="url(#hg)"/>
<circle cx="169" cy="345" r="3.1" fill="url(#hg)"/>
<circle cx="180.8" cy="344.2" r="3.1" fill="url(#hg)"/>
<circle cx="197.5" cy="322.9" r="3.1" fill="url(#hg)"/>
<circle cx="181.1" cy="343.3" r="3.1" fill="url(#hg)"/>
<circle cx="181.8" cy="348" r="3.1" fill="url(#hg)"/>
<circle cx="204.6" cy="304" r="3.1" fill="url(#hg)"/>
<circle cx="157.2" cy="334.8" r="3.5" fill="url(#hy)"/>
<circle cx="167.4" cy="346.6" r="3.5" fill="url(#hy)"/>
<circle cx="155.7" cy="333.2" r="4.0" fill="url(#hr)"/>
</g>
<rect x="150.6" y="294.3" width="77.0" height="58.30000000000001" fill="none" stroke="#a0a0ff" stroke-width="0.8"/>
<line x1="177.10" y1="294.30" x2="177.10" y2="352.60" stroke="#a0a0ff" stroke-width="0.8" />
<line x1="201.90" y1="294.30" x2="201.90" y2="352.60" stroke="#a0a0ff" stroke-width="0.8" />
<circle cx="161.1" cy="343.0" r="6.9" fill="none" stroke="#fff" stroke-width="0.6"/>
<circle cx="217.2" cy="305.3" r="6.9" fill="none" stroke="#fff" stroke-width="0.6"/>
<text x="155.67" y="293.00" font-size="6.0" textLength="15.26" lengthAdjust="spacingAndGlyphs" fill="#fff" >Empty</text>
<text x="201.86" y="293.00" font-size="6.0" textLength="22.57" lengthAdjust="spacingAndGlyphs" fill="#fff" >Stranger1</text>
<text x="182.83" y="352.00" font-size="6.0" textLength="18.00" lengthAdjust="spacingAndGlyphs" fill="#fff" >27-OHC</text>
<rect x="148.0" y="362.5" width="82.0" height="67.30000000000001" fill="#0505fa"/>
<g filter="url(#tblur)">
<circle cx="156.4" cy="376.2" r="4.5" fill="url(#hh)"/>
<circle cx="155.7" cy="382.5" r="4.5" fill="url(#hh)"/>
<circle cx="162" cy="381.7" r="4.5" fill="url(#hh)"/>
<circle cx="162.7" cy="382.5" r="4.5" fill="url(#hh)"/>
<circle cx="154.9" cy="404.5" r="5.0" fill="url(#hh)"/>
<circle cx="154.9" cy="409.2" r="5.5" fill="url(#hh)"/>
<circle cx="154.9" cy="412.3" r="6.0" fill="url(#hh)"/>
<circle cx="154.5" cy="406.5" r="5.0" fill="url(#hh)"/>
<circle cx="155.5" cy="411" r="5.5" fill="url(#hh)"/>
<circle cx="155.7" cy="414.7" r="5.0" fill="url(#hh)"/>
<circle cx="172.2" cy="404.5" r="4.5" fill="url(#hh)"/>
<circle cx="170.6" cy="409.2" r="4.5" fill="url(#hh)"/>
<circle cx="178.5" cy="399.8" r="4.5" fill="url(#hh)"/>
<circle cx="185.5" cy="377.7" r="4.5" fill="url(#hh)"/>
<circle cx="180.8" cy="412.3" r="4.5" fill="url(#hh)"/>
<circle cx="180" cy="421.8" r="4.5" fill="url(#hh)"/>
<circle cx="185" cy="377.7" r="4.5" fill="url(#hh)"/>
<circle cx="195.2" cy="376.9" r="5.0" fill="url(#hh)"/>
<circle cx="197.2" cy="377.7" r="6.0" fill="url(#hh)"/>
<circle cx="196" cy="379.3" r="5.5" fill="url(#hh)"/>
<circle cx="193.6" cy="389.5" r="4.5" fill="url(#hh)"/>
<circle cx="195.2" cy="396.5" r="4.5" fill="url(#hh)"/>
<circle cx="199.1" cy="399.6" r="4.5" fill="url(#hh)"/>
<circle cx="180.3" cy="398.9" r="4.5" fill="url(#hh)"/>
<circle cx="181.1" cy="413" r="4.5" fill="url(#hh)"/>
<circle cx="195.2" cy="412.2" r="4.5" fill="url(#hh)"/>
<circle cx="194.4" cy="421.6" r="4.5" fill="url(#hh)"/>
<circle cx="207.7" cy="376.1" r="6.0" fill="url(#hh)"/>
<circle cx="206.9" cy="378.5" r="5.5" fill="url(#hh)"/>
<circle cx="206.5" cy="382.5" r="5.0" fill="url(#hh)"/>
<circle cx="208.5" cy="374.5" r="5.0" fill="url(#hh)"/>
<circle cx="206.2" cy="380.8" r="5.0" fill="url(#hh)"/>
<circle cx="207.7" cy="384.7" r="4.5" fill="url(#hh)"/>
<circle cx="212.4" cy="391" r="4.5" fill="url(#hh)"/>
<circle cx="219.5" cy="391.8" r="5.0" fill="url(#hh)"/>
<circle cx="221.8" cy="389.5" r="6.0" fill="url(#hh)"/>
<circle cx="221.1" cy="393.4" r="6.0" fill="url(#hh)"/>
<circle cx="220.3" cy="394.9" r="5.5" fill="url(#hh)"/>
<circle cx="222" cy="391.5" r="5.5" fill="url(#hh)"/>
<circle cx="218" cy="393" r="5.0" fill="url(#hh)"/>
<circle cx="219.5" cy="398.1" r="4.5" fill="url(#hh)"/>
<circle cx="220.3" cy="402.8" r="4.5" fill="url(#hh)"/>
<circle cx="215.6" cy="410.6" r="4.5" fill="url(#hh)"/>
<circle cx="206.9" cy="421.6" r="4.5" fill="url(#hh)"/>
<circle cx="218.7" cy="421.6" r="4.5" fill="url(#hh)"/>
<polyline points="156.4,376.4 155.9,379.5 156.0,382.6 156.3,384.7 155.8,387.3 155.6,389.9 156.0,392.6 156.2,395.8 155.9,397.6 155.3,401.1 154.9,404.5" fill="none" stroke="#58b8ff" stroke-width="0.9" stroke-opacity="0.16" stroke-linejoin="round"/>
<polyline points="156.2,376.7 156.0,378.7 155.8,382.4 155.3,384.7 155.6,387.5 155.7,390.0 156.6,392.2 155.7,394.9 156.0,397.9 155.8,400.9 154.9,404.5" fill="none" stroke="#58b8ff" stroke-width="0.9" stroke-opacity="0.16" stroke-linejoin="round"/>
<polyline points="161.6,381.7 159.7,379.6 158.0,378.0" fill="none" stroke="#58b8ff" stroke-width="0.9" stroke-opacity="0.16" stroke-linejoin="round"/>
<polyline points="162.2,382.0 160.0,379.8 158.0,378.0" fill="none" stroke="#58b8ff" stroke-width="0.9" stroke-opacity="0.16" stroke-linejoin="round"/>
<polyline points="172.7,404.6 171.3,407.3 170.6,409.2" fill="none" stroke="#58b8ff" stroke-width="0.9" stroke-opacity="0.16" stroke-linejoin="round"/>
<polyline points="171.9,404.6 171.6,406.8 170.6,409.2" fill="none" stroke="#58b8ff" stroke-width="0.9" stroke-opacity="0.16" stroke-linejoin="round"/>
<polyline points="178.3,399.9 176.2,401.2 173.9,403.4 172.2,404.5" fill="none" stroke="#58b8ff" stroke-width="0.9" stroke-opacity="0.16" stroke-linejoin="round"/>
<polyline points="178.3,400.2 176.5,401.3 174.5,403.0 172.2,404.5" fill="none" stroke="#58b8ff" stroke-width="0.9" stroke-opacity="0.16" stroke-linejoin="round"/>
<polyline points="178.5,399.3 180.9,398.9 183.4,397.7 186.1,396.3 188.7,394.5 190.7,395.3 193.8,397.3 196.9,398.3 198.4,400.0 201.4,398.8 204.5,399.0 207.1,398.5 209.3,398.6 213.1,398.1 216.5,398.1 219.5,398.1" fill="none" stroke="#58b8ff" stroke-width="0.9" stroke-opacity="0.16" stroke-linejoin="round"/>
<polyline points="178.6,399.5 180.8,398.8 183.6,397.4 185.7,396.3 188.2,395.1 190.7,396.0 193.9,397.4 196.3,399.7 199.4,399.9 201.9,398.8 204.9,398.8 207.3,398.8 210.4,398.1 213.2,398.8 216.5,397.7 219.5,398.1" fill="none" stroke="#58b8ff" stroke-width="0.9" stroke-opacity="0.16" stroke-linejoin="round"/>
<polyline points="193.9,389.6 194.4,393.2 195.3,397.2 197.2,398.1 199.1,399.6" fill="none" stroke="#58b8ff" stroke-width="0.9" stroke-opacity="0.16" stroke-linejoin="round"/>
<polyline points="194.0,389.3 194.8,393.0 195.6,396.2 197.3,397.5 199.1,399.6" fill="none" stroke="#58b8ff" stroke-width="0.9" stroke-opacity="0.16" stroke-linejoin="round"/>
<polyline points="180.1,398.9 180.6,402.4 181.3,404.1 180.5,407.8 181.1,409.7 181.3,412.6 180.4,415.5 180.3,419.7 180.0,421.8" fill="none" stroke="#58b8ff" stroke-width="0.9" stroke-opacity="0.16" stroke-linejoin="round"/>
<polyline points="180.4,398.9 181.3,401.6 180.6,404.4 180.9,407.3 181.4,410.1 181.3,413.1 180.4,415.6 180.3,418.1 180.0,421.8" fill="none" stroke="#58b8ff" stroke-width="0.9" stroke-opacity="0.16" stroke-linejoin="round"/>
<polyline points="195.2,412.2 195.0,415.3 194.8,418.3 194.4,421.6" fill="none" stroke="#58b8ff" stroke-width="0.9" stroke-opacity="0.16" stroke-linejoin="round"/>
<polyline points="195.4,411.6 195.3,415.0 194.8,418.3 194.4,421.6" fill="none" stroke="#58b8ff" stroke-width="0.9" stroke-opacity="0.16" stroke-linejoin="round"/>
<polyline points="206.1,380.5 207.4,382.4 207.3,384.8 208.9,387.4 209.7,389.8 209.3,392.1 208.2,395.3 207.0,397.1 206.7,400.0 206.2,402.6 205.9,405.3 206.4,407.8 206.5,411.2 206.7,413.5 207.0,416.5 207.1,418.6 206.9,421.6" fill="none" stroke="#58b8ff" stroke-width="0.9" stroke-opacity="0.16" stroke-linejoin="round"/>
<polyline points="205.6,381.1 207.0,382.6 207.9,384.5 208.6,388.0 209.4,390.3 209.4,393.1 208.1,395.2 206.7,397.5 205.3,399.8 206.1,402.7 206.1,405.8 205.8,408.1 206.3,410.8 206.6,414.2 206.3,416.7 207.3,418.9 206.9,421.6" fill="none" stroke="#58b8ff" stroke-width="0.9" stroke-opacity="0.16" stroke-linejoin="round"/>
<polyline points="212.2,390.6 215.7,392.1 219.5,391.8" fill="none" stroke="#58b8ff" stroke-width="0.9" stroke-opacity="0.16" stroke-linejoin="round"/>
<polyline points="211.6,391.2 215.7,392.1 219.5,391.8" fill="none" stroke="#58b8ff" stroke-width="0.9" stroke-opacity="0.16" stroke-linejoin="round"/>
<polyline points="219.6,397.6 219.7,400.5 220.3,402.5 218.6,405.2 217.3,408.1 215.7,410.4 216.7,413.2 216.9,416.0 217.8,418.7 218.7,421.6" fill="none" stroke="#58b8ff" stroke-width="0.9" stroke-opacity="0.16" stroke-linejoin="round"/>
<polyline points="218.8,398.6 220.1,400.9 220.2,403.1 218.8,405.4 217.8,407.8 215.8,410.0 216.6,413.3 216.8,415.9 217.2,418.5 218.7,421.6" fill="none" stroke="#58b8ff" stroke-width="0.9" stroke-opacity="0.16" stroke-linejoin="round"/>
<polyline points="160.1,394.1 162.9,395.6 164.7,395.0 167.0,395.3 169.7,396.8 172.4,397.5 176.1,398.2 178.5,399.8" fill="none" stroke="#58b8ff" stroke-width="0.9" stroke-opacity="0.16" stroke-linejoin="round"/>
<polyline points="159.9,395.2 162.3,395.7 165.7,395.5 167.2,396.0 170.1,395.7 172.8,397.3 175.8,398.9 178.5,399.8" fill="none" stroke="#58b8ff" stroke-width="0.9" stroke-opacity="0.16" stroke-linejoin="round"/>
<circle cx="155.6" cy="377.8" r="1.8" fill="url(#hd)"/>
<circle cx="157.7" cy="383.9" r="1.8" fill="url(#hd)"/>
<circle cx="155.3" cy="389.3" r="1.0" fill="url(#hd)"/>
<circle cx="156.3" cy="395.9" r="1.7" fill="url(#hd)"/>
<circle cx="156.0" cy="396.1" r="1.8" fill="url(#hd)"/>
<circle cx="155.8" cy="398.3" r="1.4" fill="url(#hd)"/>
<circle cx="161.0" cy="381.1" r="1.0" fill="url(#hd)"/>
<circle cx="158.6" cy="379.1" r="1.0" fill="url(#hd)"/>
<circle cx="172.9" cy="404.5" r="1.6" fill="url(#hd)"/>
<circle cx="177.1" cy="400.6" r="1.4" fill="url(#hd)"/>
<circle cx="179.5" cy="398.5" r="1.0" fill="url(#hd)"/>
<circle cx="185.9" cy="395.9" r="1.1" fill="url(#hd)"/>
<circle cx="187.8" cy="396.1" r="1.7" fill="url(#hd)"/>
<circle cx="192.4" cy="397.6" r="0.9" fill="url(#hd)"/>
<circle cx="201.1" cy="399.8" r="1.0" fill="url(#hd)"/>
<circle cx="201.9" cy="398.7" r="1.4" fill="url(#hd)"/>
<circle cx="206.6" cy="398.0" r="1.6" fill="url(#hd)"/>
<circle cx="213.8" cy="397.1" r="1.2" fill="url(#hd)"/>
<circle cx="219.1" cy="397.2" r="1.0" fill="url(#hd)"/>
<circle cx="193.8" cy="393.3" r="1.7" fill="url(#hd)"/>
<circle cx="194.9" cy="396.1" r="1.7" fill="url(#hd)"/>
<circle cx="181.2" cy="399.1" r="1.2" fill="url(#hd)"/>
<circle cx="182.0" cy="405.2" r="1.7" fill="url(#hd)"/>
<circle cx="180.7" cy="411.0" r="1.4" fill="url(#hd)"/>
<circle cx="182.1" cy="414.7" r="1.3" fill="url(#hd)"/>
<circle cx="179.8" cy="419.1" r="1.1" fill="url(#hd)"/>
<circle cx="196.0" cy="413.9" r="1.0" fill="url(#hd)"/>
<circle cx="194.9" cy="420.6" r="0.9" fill="url(#hd)"/>
<circle cx="206.8" cy="382.4" r="1.6" fill="url(#hd)"/>
<circle cx="208.7" cy="386.6" r="1.7" fill="url(#hd)"/>
<circle cx="208.9" cy="393.0" r="1.4" fill="url(#hd)"/>
<circle cx="205.9" cy="396.8" r="1.6" fill="url(#hd)"/>
<circle cx="205.5" cy="399.6" r="1.5" fill="url(#hd)"/>
<circle cx="206.3" cy="406.1" r="1.7" fill="url(#hd)"/>
<circle cx="206.3" cy="414.0" r="1.3" fill="url(#hd)"/>
<circle cx="207.1" cy="417.8" r="1.5" fill="url(#hd)"/>
<circle cx="214.5" cy="391.3" r="1.2" fill="url(#hd)"/>
<circle cx="219.6" cy="398.2" r="1.8" fill="url(#hd)"/>
<circle cx="220.7" cy="402.8" r="1.7" fill="url(#hd)"/>
<circle cx="218.5" cy="405.1" r="1.2" fill="url(#hd)"/>
<circle cx="216.8" cy="409.4" r="1.1" fill="url(#hd)"/>
<circle cx="216.4" cy="410.8" r="1.4" fill="url(#hd)"/>
<circle cx="217.5" cy="416.3" r="1.7" fill="url(#hd)"/>
<circle cx="218.4" cy="420.3" r="1.6" fill="url(#hd)"/>
<circle cx="161.3" cy="395.2" r="1.2" fill="url(#hd)"/>
<circle cx="166.9" cy="395.3" r="1.8" fill="url(#hd)"/>
<circle cx="172.5" cy="395.7" r="1.5" fill="url(#hd)"/>
<circle cx="178.5" cy="399.7" r="1.5" fill="url(#hd)"/>
</g>
<g filter="url(#hblur)">
<circle cx="156.4" cy="376.2" r="2.6" fill="url(#hc)"/>
<circle cx="155.7" cy="382.5" r="2.6" fill="url(#hc)"/>
<circle cx="162" cy="381.7" r="2.6" fill="url(#hc)"/>
<circle cx="162.7" cy="382.5" r="2.6" fill="url(#hc)"/>
<circle cx="172.2" cy="404.5" r="2.6" fill="url(#hc)"/>
<circle cx="170.6" cy="409.2" r="2.6" fill="url(#hc)"/>
<circle cx="178.5" cy="399.8" r="2.6" fill="url(#hc)"/>
<circle cx="185.5" cy="377.7" r="2.6" fill="url(#hc)"/>
<circle cx="180.8" cy="412.3" r="2.6" fill="url(#hc)"/>
<circle cx="180" cy="421.8" r="2.6" fill="url(#hc)"/>
<circle cx="185" cy="377.7" r="2.6" fill="url(#hc)"/>
<circle cx="193.6" cy="389.5" r="2.6" fill="url(#hc)"/>
<circle cx="195.2" cy="396.5" r="2.6" fill="url(#hc)"/>
<circle cx="199.1" cy="399.6" r="2.6" fill="url(#hc)"/>
<circle cx="180.3" cy="398.9" r="2.6" fill="url(#hc)"/>
<circle cx="181.1" cy="413" r="2.6" fill="url(#hc)"/>
<circle cx="195.2" cy="412.2" r="2.6" fill="url(#hc)"/>
<circle cx="194.4" cy="421.6" r="2.6" fill="url(#hc)"/>
<circle cx="207.7" cy="384.7" r="2.6" fill="url(#hc)"/>
<circle cx="212.4" cy="391" r="2.6" fill="url(#hc)"/>
<circle cx="219.5" cy="398.1" r="2.6" fill="url(#hc)"/>
<circle cx="220.3" cy="402.8" r="2.6" fill="url(#hc)"/>
<circle cx="215.6" cy="410.6" r="2.6" fill="url(#hc)"/>
<circle cx="206.9" cy="421.6" r="2.6" fill="url(#hc)"/>
<circle cx="218.7" cy="421.6" r="2.6" fill="url(#hc)"/>
<circle cx="154.9" cy="404.5" r="3.1" fill="url(#hg)"/>
<circle cx="154.5" cy="406.5" r="3.1" fill="url(#hg)"/>
<circle cx="155.7" cy="414.7" r="3.1" fill="url(#hg)"/>
<circle cx="195.2" cy="376.9" r="3.1" fill="url(#hg)"/>
<circle cx="206.5" cy="382.5" r="3.1" fill="url(#hg)"/>
<circle cx="208.5" cy="374.5" r="3.1" fill="url(#hg)"/>
<circle cx="206.2" cy="380.8" r="3.1" fill="url(#hg)"/>
<circle cx="219.5" cy="391.8" r="3.1" fill="url(#hg)"/>
<circle cx="218" cy="393" r="3.1" fill="url(#hg)"/>
<circle cx="154.9" cy="409.2" r="3.5" fill="url(#hy)"/>
<circle cx="155.5" cy="411" r="3.5" fill="url(#hy)"/>
<circle cx="196" cy="379.3" r="3.5" fill="url(#hy)"/>
<circle cx="206.9" cy="378.5" r="3.5" fill="url(#hy)"/>
<circle cx="220.3" cy="394.9" r="3.5" fill="url(#hy)"/>
<circle cx="222" cy="391.5" r="3.5" fill="url(#hy)"/>
<circle cx="154.9" cy="412.3" r="4.0" fill="url(#hr)"/>
<circle cx="197.2" cy="377.7" r="4.0" fill="url(#hr)"/>
<circle cx="207.7" cy="376.1" r="4.0" fill="url(#hr)"/>
<circle cx="221.8" cy="389.5" r="4.0" fill="url(#hr)"/>
<circle cx="221.1" cy="393.4" r="4.0" fill="url(#hr)"/>
</g>
<rect x="151.0" y="370.2" width="76.5" height="58.30000000000001" fill="none" stroke="#a0a0ff" stroke-width="0.8"/>
<line x1="177.20" y1="370.20" x2="177.20" y2="428.50" stroke="#a0a0ff" stroke-width="0.8" />
<line x1="201.40" y1="370.20" x2="201.40" y2="428.50" stroke="#a0a0ff" stroke-width="0.8" />
<circle cx="161.1" cy="418.2" r="6.9" fill="none" stroke="#fff" stroke-width="0.6"/>
<circle cx="217.0" cy="380.5" r="6.9" fill="none" stroke="#fff" stroke-width="0.6"/>
<text x="152.86" y="368.90" font-size="6.0" textLength="22.84" lengthAdjust="spacingAndGlyphs" fill="#fff" >Stranger2</text>
<text x="204.26" y="368.90" font-size="6.0" textLength="22.37" lengthAdjust="spacingAndGlyphs" fill="#fff" >Stranger1</text>
<text x="180.53" y="427.30" font-size="6.0" textLength="17.60" lengthAdjust="spacingAndGlyphs" fill="#fff" >27-OHC</text>
<defs><linearGradient id="cb" x1="0" y1="0" x2="0" y2="1"><stop offset="0" stop-color="#8a1414"/><stop offset="0.11" stop-color="#c25420"/><stop offset="0.2" stop-color="#e09a2c"/><stop offset="0.28" stop-color="#eef03c"/><stop offset="0.38" stop-color="#b8f038"/><stop offset="0.46" stop-color="#30e030"/><stop offset="0.56" stop-color="#40e060"/><stop offset="0.64" stop-color="#50d0a8"/><stop offset="0.74" stop-color="#40a0e8"/><stop offset="0.86" stop-color="#3048f0"/><stop offset="1" stop-color="#10107a"/></linearGradient></defs>
<rect x="244.2" y="286.9" width="11.9" height="140.4" fill="url(#cb)"/>
<text x="262.38" y="290.90" font-size="7.6" textLength="15.67" lengthAdjust="spacingAndGlyphs" fill="#000" >max</text>
<text x="263.06" y="426.80" font-size="7.6" textLength="14.44" lengthAdjust="spacingAndGlyphs" fill="#000" >min</text>
</svg></body></html>
